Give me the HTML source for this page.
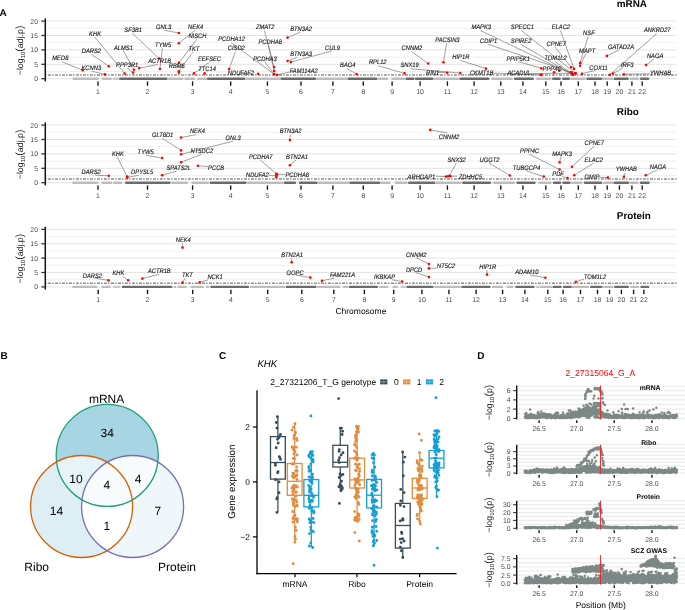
<!DOCTYPE html><html><head><meta charset="utf-8"><style>html,body{margin:0;padding:0;background:#fff;}svg{display:block;font-family:"Liberation Sans",sans-serif;opacity:0.999;text-rendering:geometricPrecision;}</style></head><body><svg width="685" height="610" viewBox="0 0 685 610"><rect width="685" height="610" fill="#fff"/><text x="-0.6" y="15.5" font-size="10" font-weight="bold">A</text><line x1="46" x2="676.8" y1="78.7" y2="78.7" stroke="#e4e4e4" stroke-width="1"/><line x1="46" x2="676.8" y1="71.5" y2="71.5" stroke="#eeeeee" stroke-width="0.8"/><line x1="46" x2="676.8" y1="64.3" y2="64.3" stroke="#e4e4e4" stroke-width="1"/><line x1="46" x2="676.8" y1="57.1" y2="57.1" stroke="#eeeeee" stroke-width="0.8"/><line x1="46" x2="676.8" y1="49.9" y2="49.9" stroke="#e4e4e4" stroke-width="1"/><line x1="46" x2="676.8" y1="42.7" y2="42.7" stroke="#eeeeee" stroke-width="0.8"/><line x1="46" x2="676.8" y1="35.5" y2="35.5" stroke="#e4e4e4" stroke-width="1"/><line x1="46" x2="676.8" y1="28.3" y2="28.3" stroke="#eeeeee" stroke-width="0.8"/><line x1="46" x2="676.8" y1="21.1" y2="21.1" stroke="#e4e4e4" stroke-width="1"/><line x1="73.8" x2="97.6" y1="78.7" y2="78.7" stroke="#bdbdbd" stroke-width="2.6" stroke-linecap="round"/><line x1="102.9" x2="110.7" y1="78.7" y2="78.7" stroke="#bdbdbd" stroke-width="2.6" stroke-linecap="round"/><line x1="114.1" x2="118.2" y1="78.7" y2="78.7" stroke="#c9c9c9" stroke-width="2.6" stroke-linecap="round"/><line x1="120.4" x2="166.4" y1="78.7" y2="78.7" stroke="#6c6c6c" stroke-width="2.6" stroke-linecap="round"/><line x1="168.6" x2="182.3" y1="78.7" y2="78.7" stroke="#bdbdbd" stroke-width="2.6" stroke-linecap="round"/><line x1="185.5" x2="194.1" y1="78.7" y2="78.7" stroke="#bdbdbd" stroke-width="2.6" stroke-linecap="round"/><line x1="198.2" x2="205.9" y1="78.7" y2="78.7" stroke="#bdbdbd" stroke-width="2.6" stroke-linecap="round"/><line x1="208.1" x2="244.2" y1="78.7" y2="78.7" stroke="#6c6c6c" stroke-width="2.6" stroke-linecap="round"/><line x1="246.4" x2="279.6" y1="78.7" y2="78.7" stroke="#bdbdbd" stroke-width="2.6" stroke-linecap="round"/><line x1="281.8" x2="315.1" y1="78.7" y2="78.7" stroke="#6c6c6c" stroke-width="2.6" stroke-linecap="round"/><line x1="317.3" x2="346.6" y1="78.7" y2="78.7" stroke="#bdbdbd" stroke-width="2.6" stroke-linecap="round"/><line x1="348.8" x2="376.2" y1="78.7" y2="78.7" stroke="#6c6c6c" stroke-width="2.6" stroke-linecap="round"/><line x1="378.7" x2="387.2" y1="78.7" y2="78.7" stroke="#bdbdbd" stroke-width="2.6" stroke-linecap="round"/><line x1="392.5" x2="404" y1="78.7" y2="78.7" stroke="#bdbdbd" stroke-width="2.6" stroke-linecap="round"/><line x1="406.6" x2="413.2" y1="78.7" y2="78.7" stroke="#6c6c6c" stroke-width="2.6" stroke-linecap="round"/><line x1="416" x2="432.3" y1="78.7" y2="78.7" stroke="#6c6c6c" stroke-width="2.6" stroke-linecap="round"/><line x1="434.7" x2="458.5" y1="78.7" y2="78.7" stroke="#bdbdbd" stroke-width="2.6" stroke-linecap="round"/><line x1="460.7" x2="488.2" y1="78.7" y2="78.7" stroke="#6c6c6c" stroke-width="2.6" stroke-linecap="round"/><line x1="492.5" x2="511.5" y1="78.7" y2="78.7" stroke="#bdbdbd" stroke-width="2.6" stroke-linecap="round"/><line x1="515.2" x2="532.7" y1="78.7" y2="78.7" stroke="#6c6c6c" stroke-width="2.6" stroke-linecap="round"/><line x1="537.2" x2="550.3" y1="78.7" y2="78.7" stroke="#bdbdbd" stroke-width="2.6" stroke-linecap="round"/><line x1="553.3" x2="559.6" y1="78.7" y2="78.7" stroke="#6c6c6c" stroke-width="2.6" stroke-linecap="round"/><line x1="563.3" x2="568.8" y1="78.7" y2="78.7" stroke="#6c6c6c" stroke-width="2.6" stroke-linecap="round"/><line x1="571.5" x2="584.6" y1="78.7" y2="78.7" stroke="#bdbdbd" stroke-width="2.6" stroke-linecap="round"/><line x1="587.6" x2="601.1" y1="78.7" y2="78.7" stroke="#6c6c6c" stroke-width="2.6" stroke-linecap="round"/><line x1="603.3" x2="612.8" y1="78.7" y2="78.7" stroke="#bdbdbd" stroke-width="2.6" stroke-linecap="round"/><line x1="615" x2="627.6" y1="78.7" y2="78.7" stroke="#6c6c6c" stroke-width="2.6" stroke-linecap="round"/><line x1="630.8" x2="637.8" y1="78.7" y2="78.7" stroke="#bdbdbd" stroke-width="2.6" stroke-linecap="round"/><line x1="641.1" x2="648.1" y1="78.7" y2="78.7" stroke="#6c6c6c" stroke-width="2.6" stroke-linecap="round"/><line x1="46" x2="676.8" y1="75" y2="75" stroke="#8a8a8a" stroke-width="1.5" stroke-dasharray="2.9 1.2 1.4 1.5" stroke-dashoffset="5"/><line x1="45.3" x2="45.3" y1="18.4" y2="81.3" stroke="#111" stroke-width="1.5"/><line x1="41.3" x2="45.3" y1="78.7" y2="78.7" stroke="#333" stroke-width="1.3"/><text x="38.0" y="81.2" font-size="6.9" fill="#4d4d4d" text-anchor="end">0</text><line x1="41.3" x2="45.3" y1="64.3" y2="64.3" stroke="#333" stroke-width="1.3"/><text x="38.0" y="66.8" font-size="6.9" fill="#4d4d4d" text-anchor="end">5</text><line x1="41.3" x2="45.3" y1="49.9" y2="49.9" stroke="#333" stroke-width="1.3"/><text x="38.0" y="52.4" font-size="6.9" fill="#4d4d4d" text-anchor="end">10</text><line x1="41.3" x2="45.3" y1="35.5" y2="35.5" stroke="#333" stroke-width="1.3"/><text x="38.0" y="38" font-size="6.9" fill="#4d4d4d" text-anchor="end">15</text><line x1="41.3" x2="45.3" y1="21.1" y2="21.1" stroke="#333" stroke-width="1.3"/><text x="38.0" y="23.6" font-size="6.9" fill="#4d4d4d" text-anchor="end">20</text><text transform="translate(22.9 50.4) rotate(-90)" font-size="8.8" fill="#1a1a1a" text-anchor="middle">&#8722;log<tspan font-size="6" dy="1.8">10</tspan><tspan dy="-1.8" font-size="10.5">(</tspan>adj.p<tspan font-size="10.5">)</tspan></text><line x1="98" x2="98" y1="81.9" y2="85.3" stroke="#1a1a1a" stroke-width="1.4" stroke-linecap="round"/><text x="98" y="93.8" font-size="6.9" fill="#4d4d4d" text-anchor="middle">1</text><line x1="147.5" x2="147.5" y1="81.9" y2="85.3" stroke="#1a1a1a" stroke-width="1.4" stroke-linecap="round"/><text x="147.5" y="93.8" font-size="6.9" fill="#4d4d4d" text-anchor="middle">2</text><line x1="192.6" x2="192.6" y1="81.9" y2="85.3" stroke="#1a1a1a" stroke-width="1.4" stroke-linecap="round"/><text x="192.6" y="93.8" font-size="6.9" fill="#4d4d4d" text-anchor="middle">3</text><line x1="230.7" x2="230.7" y1="81.9" y2="85.3" stroke="#1a1a1a" stroke-width="1.4" stroke-linecap="round"/><text x="230.7" y="93.8" font-size="6.9" fill="#4d4d4d" text-anchor="middle">4</text><line x1="267.4" x2="267.4" y1="81.9" y2="85.3" stroke="#1a1a1a" stroke-width="1.4" stroke-linecap="round"/><text x="267.4" y="93.8" font-size="6.9" fill="#4d4d4d" text-anchor="middle">5</text><line x1="301" x2="301" y1="81.9" y2="85.3" stroke="#1a1a1a" stroke-width="1.4" stroke-linecap="round"/><text x="301" y="93.8" font-size="6.9" fill="#4d4d4d" text-anchor="middle">6</text><line x1="332.9" x2="332.9" y1="81.9" y2="85.3" stroke="#1a1a1a" stroke-width="1.4" stroke-linecap="round"/><text x="332.9" y="93.8" font-size="6.9" fill="#4d4d4d" text-anchor="middle">7</text><line x1="363.3" x2="363.3" y1="81.9" y2="85.3" stroke="#1a1a1a" stroke-width="1.4" stroke-linecap="round"/><text x="363.3" y="93.8" font-size="6.9" fill="#4d4d4d" text-anchor="middle">8</text><line x1="392.1" x2="392.1" y1="81.9" y2="85.3" stroke="#1a1a1a" stroke-width="1.4" stroke-linecap="round"/><text x="392.1" y="93.8" font-size="6.9" fill="#4d4d4d" text-anchor="middle">9</text><line x1="420.1" x2="420.1" y1="81.9" y2="85.3" stroke="#1a1a1a" stroke-width="1.4" stroke-linecap="round"/><text x="420.1" y="93.8" font-size="6.9" fill="#4d4d4d" text-anchor="middle">10</text><line x1="447.4" x2="447.4" y1="81.9" y2="85.3" stroke="#1a1a1a" stroke-width="1.4" stroke-linecap="round"/><text x="447.4" y="93.8" font-size="6.9" fill="#4d4d4d" text-anchor="middle">11</text><line x1="474.1" x2="474.1" y1="81.9" y2="85.3" stroke="#1a1a1a" stroke-width="1.4" stroke-linecap="round"/><text x="474.1" y="93.8" font-size="6.9" fill="#4d4d4d" text-anchor="middle">12</text><line x1="500.8" x2="500.8" y1="81.9" y2="85.3" stroke="#1a1a1a" stroke-width="1.4" stroke-linecap="round"/><text x="500.8" y="93.8" font-size="6.9" fill="#4d4d4d" text-anchor="middle">13</text><line x1="522.9" x2="522.9" y1="81.9" y2="85.3" stroke="#1a1a1a" stroke-width="1.4" stroke-linecap="round"/><text x="522.9" y="93.8" font-size="6.9" fill="#4d4d4d" text-anchor="middle">14</text><line x1="545.8" x2="545.8" y1="81.9" y2="85.3" stroke="#1a1a1a" stroke-width="1.4" stroke-linecap="round"/><text x="545.8" y="93.8" font-size="6.9" fill="#4d4d4d" text-anchor="middle">15</text><line x1="561" x2="561" y1="81.9" y2="85.3" stroke="#1a1a1a" stroke-width="1.4" stroke-linecap="round"/><text x="561" y="93.8" font-size="6.9" fill="#4d4d4d" text-anchor="middle">16</text><line x1="578.3" x2="578.3" y1="81.9" y2="85.3" stroke="#1a1a1a" stroke-width="1.4" stroke-linecap="round"/><text x="578.3" y="93.8" font-size="6.9" fill="#4d4d4d" text-anchor="middle">17</text><line x1="595" x2="595" y1="81.9" y2="85.3" stroke="#1a1a1a" stroke-width="1.4" stroke-linecap="round"/><text x="595" y="93.8" font-size="6.9" fill="#4d4d4d" text-anchor="middle">18</text><line x1="607.2" x2="607.2" y1="81.9" y2="85.3" stroke="#1a1a1a" stroke-width="1.4" stroke-linecap="round"/><text x="607.2" y="93.8" font-size="6.9" fill="#4d4d4d" text-anchor="middle">19</text><line x1="619.4" x2="619.4" y1="81.9" y2="85.3" stroke="#1a1a1a" stroke-width="1.4" stroke-linecap="round"/><text x="619.4" y="93.8" font-size="6.9" fill="#4d4d4d" text-anchor="middle">20</text><line x1="631.9" x2="631.9" y1="81.9" y2="85.3" stroke="#1a1a1a" stroke-width="1.4" stroke-linecap="round"/><text x="631.9" y="93.8" font-size="6.9" fill="#4d4d4d" text-anchor="middle">21</text><line x1="642.2" x2="642.2" y1="81.9" y2="85.3" stroke="#1a1a1a" stroke-width="1.4" stroke-linecap="round"/><text x="642.2" y="93.8" font-size="6.9" fill="#4d4d4d" text-anchor="middle">22</text><text x="616.8" y="7.1" font-size="9.9" font-weight="bold" fill="#000">mRNA</text><line x1="61.8" y1="61.7" x2="82.7" y2="70.2" stroke="#555" stroke-width="0.55"/><line x1="91.7" y1="71.2" x2="104.9" y2="74.4" stroke="#555" stroke-width="0.55"/><line x1="91" y1="54.1" x2="108.8" y2="66.2" stroke="#555" stroke-width="0.55"/><line x1="94.6" y1="36.9" x2="124.7" y2="73.5" stroke="#555" stroke-width="0.55"/><line x1="123.1" y1="50.3" x2="134" y2="69.7" stroke="#555" stroke-width="0.55"/><line x1="126.8" y1="67.8" x2="133" y2="72.5" stroke="#555" stroke-width="0.55"/><line x1="132.3" y1="33.2" x2="159.2" y2="58.5" stroke="#555" stroke-width="0.55"/><line x1="164.3" y1="30.3" x2="178.9" y2="33" stroke="#555" stroke-width="0.55"/><line x1="195" y1="30.3" x2="178.9" y2="43.2" stroke="#555" stroke-width="0.55"/><line x1="196.9" y1="39.1" x2="178.9" y2="62.9" stroke="#555" stroke-width="0.55"/><line x1="192.8" y1="52.2" x2="178.9" y2="71.2" stroke="#555" stroke-width="0.55"/><line x1="162.4" y1="48.3" x2="159.9" y2="69" stroke="#555" stroke-width="0.55"/><line x1="157.7" y1="64.6" x2="139.2" y2="68.1" stroke="#555" stroke-width="0.55"/><line x1="209.6" y1="62" x2="193.9" y2="73.4" stroke="#555" stroke-width="0.55"/><line x1="231" y1="42.7" x2="274.1" y2="74.1" stroke="#555" stroke-width="0.55"/><line x1="235.4" y1="51.5" x2="229.2" y2="69" stroke="#555" stroke-width="0.55"/><line x1="264.3" y1="30.3" x2="274.1" y2="67.1" stroke="#555" stroke-width="0.55"/><line x1="268.3" y1="44.9" x2="274.1" y2="70.9" stroke="#555" stroke-width="0.55"/><line x1="264.6" y1="61.7" x2="274.1" y2="74.1" stroke="#555" stroke-width="0.55"/><line x1="300.4" y1="32.2" x2="287.6" y2="37.6" stroke="#555" stroke-width="0.55"/><line x1="297" y1="57.3" x2="287.6" y2="61" stroke="#555" stroke-width="0.55"/><line x1="331.4" y1="51.2" x2="290.9" y2="62" stroke="#555" stroke-width="0.55"/><line x1="289.7" y1="72" x2="277" y2="74.9" stroke="#555" stroke-width="0.55"/><line x1="347" y1="68.7" x2="356.6" y2="74.1" stroke="#555" stroke-width="0.55"/><line x1="378.1" y1="65.8" x2="404.5" y2="73.4" stroke="#555" stroke-width="0.55"/><line x1="411.4" y1="51.5" x2="428.2" y2="63.5" stroke="#555" stroke-width="0.55"/><line x1="446.7" y1="42.7" x2="443.5" y2="62.2" stroke="#555" stroke-width="0.55"/><line x1="410.7" y1="68.7" x2="460.3" y2="73.1" stroke="#555" stroke-width="0.55"/><line x1="437.7" y1="72.5" x2="447.2" y2="72.7" stroke="#555" stroke-width="0.55"/><line x1="460.3" y1="60.3" x2="486" y2="68.6" stroke="#555" stroke-width="0.55"/><line x1="491.8" y1="73" x2="541.3" y2="74.9" stroke="#555" stroke-width="0.55"/><line x1="480.4" y1="30.5" x2="572.7" y2="74.6" stroke="#555" stroke-width="0.55"/><line x1="487.7" y1="44.2" x2="571.3" y2="72.2" stroke="#555" stroke-width="0.55"/><line x1="521.3" y1="30.5" x2="575.5" y2="73.3" stroke="#555" stroke-width="0.55"/><line x1="520.6" y1="44.2" x2="572.7" y2="74.6" stroke="#555" stroke-width="0.55"/><line x1="518.4" y1="61.7" x2="541.3" y2="68.2" stroke="#555" stroke-width="0.55"/><line x1="528.6" y1="73.5" x2="575.5" y2="73.3" stroke="#555" stroke-width="0.55"/><line x1="555" y1="61.5" x2="572.7" y2="74.6" stroke="#555" stroke-width="0.55"/><line x1="554.6" y1="46.4" x2="571.1" y2="67.3" stroke="#555" stroke-width="0.55"/><line x1="560.4" y1="30.3" x2="574" y2="68.9" stroke="#555" stroke-width="0.55"/><line x1="588.2" y1="36.2" x2="580.1" y2="62.9" stroke="#555" stroke-width="0.55"/><line x1="586" y1="53.2" x2="580.1" y2="65.8" stroke="#555" stroke-width="0.55"/><line x1="595" y1="70.5" x2="582" y2="73.7" stroke="#555" stroke-width="0.55"/><line x1="618.8" y1="50" x2="606.9" y2="55.9" stroke="#555" stroke-width="0.55"/><line x1="623" y1="67.9" x2="613.1" y2="73.6" stroke="#555" stroke-width="0.55"/><line x1="656.8" y1="33.5" x2="609.7" y2="74.9" stroke="#555" stroke-width="0.55"/><line x1="654.1" y1="59.1" x2="646" y2="65" stroke="#555" stroke-width="0.55"/><line x1="649.9" y1="73.8" x2="623.9" y2="74.2" stroke="#555" stroke-width="0.55"/><circle cx="82.7" cy="70.2" r="1.3" fill="#ff0000"/><circle cx="104.9" cy="74.4" r="1.3" fill="#ff0000"/><circle cx="108.8" cy="66.2" r="1.3" fill="#ff0000"/><circle cx="124.7" cy="73.5" r="1.3" fill="#ff0000"/><circle cx="134" cy="69.7" r="1.3" fill="#ff0000"/><circle cx="133" cy="72.5" r="1.3" fill="#ff0000"/><circle cx="159.2" cy="58.5" r="1.3" fill="#ff0000"/><circle cx="178.9" cy="33" r="1.3" fill="#ff0000"/><circle cx="178.9" cy="43.2" r="1.3" fill="#ff0000"/><circle cx="178.9" cy="62.9" r="1.3" fill="#ff0000"/><circle cx="178.9" cy="71.2" r="1.3" fill="#ff0000"/><circle cx="159.9" cy="69" r="1.3" fill="#ff0000"/><circle cx="139.2" cy="68.1" r="1.3" fill="#ff0000"/><circle cx="178.9" cy="72.7" r="1.3" fill="#ff0000"/><circle cx="193.9" cy="73.4" r="1.3" fill="#ff0000"/><circle cx="204.7" cy="73.4" r="1.3" fill="#ff0000"/><circle cx="274.1" cy="74.1" r="1.3" fill="#ff0000"/><circle cx="229.2" cy="69" r="1.3" fill="#ff0000"/><circle cx="258.1" cy="73.7" r="1.3" fill="#ff0000"/><circle cx="274.1" cy="67.1" r="1.3" fill="#ff0000"/><circle cx="274.1" cy="70.9" r="1.3" fill="#ff0000"/><circle cx="274.1" cy="74.1" r="1.3" fill="#ff0000"/><circle cx="287.6" cy="37.6" r="1.3" fill="#ff0000"/><circle cx="287.6" cy="61" r="1.3" fill="#ff0000"/><circle cx="290.9" cy="62" r="1.3" fill="#ff0000"/><circle cx="277" cy="74.9" r="1.3" fill="#ff0000"/><circle cx="356.6" cy="74.1" r="1.3" fill="#ff0000"/><circle cx="404.5" cy="73.4" r="1.3" fill="#ff0000"/><circle cx="428.2" cy="63.5" r="1.3" fill="#ff0000"/><circle cx="443.5" cy="62.2" r="1.3" fill="#ff0000"/><circle cx="460.3" cy="73.1" r="1.3" fill="#ff0000"/><circle cx="447.2" cy="72.7" r="1.3" fill="#ff0000"/><circle cx="486" cy="68.6" r="1.3" fill="#ff0000"/><circle cx="541.3" cy="74.9" r="1.3" fill="#ff0000"/><circle cx="572.7" cy="74.6" r="1.3" fill="#ff0000"/><circle cx="571.3" cy="72.2" r="1.3" fill="#ff0000"/><circle cx="575.5" cy="73.3" r="1.3" fill="#ff0000"/><circle cx="572.7" cy="74.6" r="1.3" fill="#ff0000"/><circle cx="541.3" cy="68.2" r="1.3" fill="#ff0000"/><circle cx="575.5" cy="73.3" r="1.3" fill="#ff0000"/><circle cx="572.7" cy="74.6" r="1.3" fill="#ff0000"/><circle cx="554.1" cy="72.2" r="1.3" fill="#ff0000"/><circle cx="571.1" cy="67.3" r="1.3" fill="#ff0000"/><circle cx="574" cy="68.9" r="1.3" fill="#ff0000"/><circle cx="580.1" cy="62.9" r="1.3" fill="#ff0000"/><circle cx="580.1" cy="65.8" r="1.3" fill="#ff0000"/><circle cx="582" cy="73.7" r="1.3" fill="#ff0000"/><circle cx="606.9" cy="55.9" r="1.3" fill="#ff0000"/><circle cx="613.1" cy="73.6" r="1.3" fill="#ff0000"/><circle cx="609.7" cy="74.9" r="1.3" fill="#ff0000"/><circle cx="646" cy="65" r="1.3" fill="#ff0000"/><circle cx="623.9" cy="74.2" r="1.3" fill="#ff0000"/><circle cx="559.3" cy="70.6" r="1.3" fill="#ff0000"/><circle cx="571.3" cy="72.2" r="1.3" fill="#ff0000"/><circle cx="575.5" cy="73.3" r="1.3" fill="#ff0000"/><circle cx="541.3" cy="74.9" r="1.3" fill="#ff0000"/><text transform="translate(52.3 60.1) scale(0.89 1)" font-size="6.5" font-style="italic" fill="#1a1a1a" stroke="#1a1a1a" stroke-width="0.15">MED8</text><text transform="translate(81.5 70) scale(0.89 1)" font-size="6.5" font-style="italic" fill="#1a1a1a" stroke="#1a1a1a" stroke-width="0.15">KCNN3</text><text transform="translate(81.8 53) scale(0.89 1)" font-size="6.5" font-style="italic" fill="#1a1a1a" stroke="#1a1a1a" stroke-width="0.15">DARS2</text><text transform="translate(89.1 36) scale(0.89 1)" font-size="6.5" font-style="italic" fill="#1a1a1a" stroke="#1a1a1a" stroke-width="0.15">KHK</text><text transform="translate(113.9 49.5) scale(0.89 1)" font-size="6.5" font-style="italic" fill="#1a1a1a" stroke="#1a1a1a" stroke-width="0.15">ALMS1</text><text transform="translate(116.1 66.6) scale(0.89 1)" font-size="6.5" font-style="italic" fill="#1a1a1a" stroke="#1a1a1a" stroke-width="0.15">PPP3R1</text><text transform="translate(124.3 32) scale(0.89 1)" font-size="6.5" font-style="italic" fill="#1a1a1a" stroke="#1a1a1a" stroke-width="0.15">SF3B1</text><text transform="translate(156 29.4) scale(0.89 1)" font-size="6.5" font-style="italic" fill="#1a1a1a" stroke="#1a1a1a" stroke-width="0.15">GNL3</text><text transform="translate(188.1 29.4) scale(0.89 1)" font-size="6.5" font-style="italic" fill="#1a1a1a" stroke="#1a1a1a" stroke-width="0.15">NEK4</text><text transform="translate(188.4 38.2) scale(0.89 1)" font-size="6.5" font-style="italic" fill="#1a1a1a" stroke="#1a1a1a" stroke-width="0.15">NISCH</text><text transform="translate(188.4 51) scale(0.89 1)" font-size="6.5" font-style="italic" fill="#1a1a1a" stroke="#1a1a1a" stroke-width="0.15">TKT</text><text transform="translate(155.1 47.2) scale(0.89 1)" font-size="6.5" font-style="italic" fill="#1a1a1a" stroke="#1a1a1a" stroke-width="0.15">TYW5</text><text transform="translate(148.2 63.3) scale(0.89 1)" font-size="6.5" font-style="italic" fill="#1a1a1a" stroke="#1a1a1a" stroke-width="0.15">ACTR1B</text><text transform="translate(168.7 68.1) scale(0.89 1)" font-size="6.5" font-style="italic" fill="#1a1a1a" stroke="#1a1a1a" stroke-width="0.15">RBM6</text><text transform="translate(197.9 60.8) scale(0.89 1)" font-size="6.5" font-style="italic" fill="#1a1a1a" stroke="#1a1a1a" stroke-width="0.15">EEFSEC</text><text transform="translate(198.3 71) scale(0.89 1)" font-size="6.5" font-style="italic" fill="#1a1a1a" stroke="#1a1a1a" stroke-width="0.15">TTC14</text><text transform="translate(218.2 41.4) scale(0.89 1)" font-size="6.5" font-style="italic" fill="#1a1a1a" stroke="#1a1a1a" stroke-width="0.15">PCDHA12</text><text transform="translate(227.8 50.4) scale(0.89 1)" font-size="6.5" font-style="italic" fill="#1a1a1a" stroke="#1a1a1a" stroke-width="0.15">CISD2</text><text transform="translate(227.8 74.7) scale(0.89 1)" font-size="6.5" font-style="italic" fill="#1a1a1a" stroke="#1a1a1a" stroke-width="0.15">NDUFAF2</text><text transform="translate(255.9 29.4) scale(0.89 1)" font-size="6.5" font-style="italic" fill="#1a1a1a" stroke="#1a1a1a" stroke-width="0.15">ZMAT2</text><text transform="translate(258.5 44) scale(0.89 1)" font-size="6.5" font-style="italic" fill="#1a1a1a" stroke="#1a1a1a" stroke-width="0.15">PCDHA8</text><text transform="translate(253.2 60.8) scale(0.89 1)" font-size="6.5" font-style="italic" fill="#1a1a1a" stroke="#1a1a1a" stroke-width="0.15">PCDHA3</text><text transform="translate(290.2 30.9) scale(0.89 1)" font-size="6.5" font-style="italic" fill="#1a1a1a" stroke="#1a1a1a" stroke-width="0.15">BTN3A2</text><text transform="translate(290.2 56.4) scale(0.89 1)" font-size="6.5" font-style="italic" fill="#1a1a1a" stroke="#1a1a1a" stroke-width="0.15">BTN3A3</text><text transform="translate(325.1 49.8) scale(0.89 1)" font-size="6.5" font-style="italic" fill="#1a1a1a" stroke="#1a1a1a" stroke-width="0.15">CUL9</text><text transform="translate(289.7 73.2) scale(0.89 1)" font-size="6.5" font-style="italic" fill="#1a1a1a" stroke="#1a1a1a" stroke-width="0.15">FAM114A2</text><text transform="translate(340.1 67.4) scale(0.89 1)" font-size="6.5" font-style="italic" fill="#1a1a1a" stroke="#1a1a1a" stroke-width="0.15">BAG4</text><text transform="translate(368.9 64.4) scale(0.89 1)" font-size="6.5" font-style="italic" fill="#1a1a1a" stroke="#1a1a1a" stroke-width="0.15">RPL12</text><text transform="translate(401.6 50.3) scale(0.89 1)" font-size="6.5" font-style="italic" fill="#1a1a1a" stroke="#1a1a1a" stroke-width="0.15">CNNM2</text><text transform="translate(435.2 41.5) scale(0.89 1)" font-size="6.5" font-style="italic" fill="#1a1a1a" stroke="#1a1a1a" stroke-width="0.15">PACSIN3</text><text transform="translate(400.4 67.4) scale(0.89 1)" font-size="6.5" font-style="italic" fill="#1a1a1a" stroke="#1a1a1a" stroke-width="0.15">SNX19</text><text transform="translate(426 74.7) scale(0.89 1)" font-size="6.5" font-style="italic" fill="#1a1a1a" stroke="#1a1a1a" stroke-width="0.15">RIN1</text><text transform="translate(452.3 59) scale(0.89 1)" font-size="6.5" font-style="italic" fill="#1a1a1a" stroke="#1a1a1a" stroke-width="0.15">HIP1R</text><text transform="translate(469.9 74.9) scale(0.89 1)" font-size="6.5" font-style="italic" fill="#1a1a1a" stroke="#1a1a1a" stroke-width="0.15">CKMT1B</text><text transform="translate(471.4 29.4) scale(0.89 1)" font-size="6.5" font-style="italic" fill="#1a1a1a" stroke="#1a1a1a" stroke-width="0.15">MAPK3</text><text transform="translate(480.1 43) scale(0.89 1)" font-size="6.5" font-style="italic" fill="#1a1a1a" stroke="#1a1a1a" stroke-width="0.15">CDIP1</text><text transform="translate(510.8 29.4) scale(0.89 1)" font-size="6.5" font-style="italic" fill="#1a1a1a" stroke="#1a1a1a" stroke-width="0.15">SPECC1</text><text transform="translate(510.8 43) scale(0.89 1)" font-size="6.5" font-style="italic" fill="#1a1a1a" stroke="#1a1a1a" stroke-width="0.15">SPIRE2</text><text transform="translate(506.4 60.5) scale(0.89 1)" font-size="6.5" font-style="italic" fill="#1a1a1a" stroke="#1a1a1a" stroke-width="0.15">PPIP5K1</text><text transform="translate(507.4 74.9) scale(0.89 1)" font-size="6.5" font-style="italic" fill="#1a1a1a" stroke="#1a1a1a" stroke-width="0.15">ACADVL</text><text transform="translate(544.4 60.3) scale(0.89 1)" font-size="6.5" font-style="italic" fill="#1a1a1a" stroke="#1a1a1a" stroke-width="0.15">TOM1L2</text><text transform="translate(542.6 71.4) scale(0.89 1)" font-size="6.5" font-style="italic" fill="#1a1a1a" stroke="#1a1a1a" stroke-width="0.15">PPP4C</text><text transform="translate(546.6 45.5) scale(0.89 1)" font-size="6.5" font-style="italic" fill="#1a1a1a" stroke="#1a1a1a" stroke-width="0.15">CPNE7</text><text transform="translate(551.7 29.4) scale(0.89 1)" font-size="6.5" font-style="italic" fill="#1a1a1a" stroke="#1a1a1a" stroke-width="0.15">ELAC2</text><text transform="translate(583.1 34.9) scale(0.89 1)" font-size="6.5" font-style="italic" fill="#1a1a1a" stroke="#1a1a1a" stroke-width="0.15">NSF</text><text transform="translate(579.1 52.5) scale(0.89 1)" font-size="6.5" font-style="italic" fill="#1a1a1a" stroke="#1a1a1a" stroke-width="0.15">MAPT</text><text transform="translate(589.3 69.5) scale(0.89 1)" font-size="6.5" font-style="italic" fill="#1a1a1a" stroke="#1a1a1a" stroke-width="0.15">COX11</text><text transform="translate(607.9 49.1) scale(0.89 1)" font-size="6.5" font-style="italic" fill="#1a1a1a" stroke="#1a1a1a" stroke-width="0.15">GATAD2A</text><text transform="translate(621 66.6) scale(0.89 1)" font-size="6.5" font-style="italic" fill="#1a1a1a" stroke="#1a1a1a" stroke-width="0.15">IRF3</text><text transform="translate(643.9 31.7) scale(0.89 1)" font-size="6.5" font-style="italic" fill="#1a1a1a" stroke="#1a1a1a" stroke-width="0.15">ANKRD27</text><text transform="translate(646.9 57.6) scale(0.89 1)" font-size="6.5" font-style="italic" fill="#1a1a1a" stroke="#1a1a1a" stroke-width="0.15">NAGA</text><text transform="translate(649.9 75.4) scale(0.89 1)" font-size="6.5" font-style="italic" fill="#1a1a1a" stroke="#1a1a1a" stroke-width="0.15">YWHAB</text><line x1="46" x2="676.8" y1="182.7" y2="182.7" stroke="#e4e4e4" stroke-width="1"/><line x1="46" x2="676.8" y1="175.5" y2="175.5" stroke="#eeeeee" stroke-width="0.8"/><line x1="46" x2="676.8" y1="168.3" y2="168.3" stroke="#e4e4e4" stroke-width="1"/><line x1="46" x2="676.8" y1="161.1" y2="161.1" stroke="#eeeeee" stroke-width="0.8"/><line x1="46" x2="676.8" y1="153.9" y2="153.9" stroke="#e4e4e4" stroke-width="1"/><line x1="46" x2="676.8" y1="146.7" y2="146.7" stroke="#eeeeee" stroke-width="0.8"/><line x1="46" x2="676.8" y1="139.5" y2="139.5" stroke="#e4e4e4" stroke-width="1"/><line x1="46" x2="676.8" y1="132.3" y2="132.3" stroke="#eeeeee" stroke-width="0.8"/><line x1="46" x2="676.8" y1="125.1" y2="125.1" stroke="#e4e4e4" stroke-width="1"/><line x1="73.5" x2="97.3" y1="182.7" y2="182.7" stroke="#bdbdbd" stroke-width="2.6" stroke-linecap="round"/><line x1="102.9" x2="110.9" y1="182.7" y2="182.7" stroke="#bdbdbd" stroke-width="2.6" stroke-linecap="round"/><line x1="114.1" x2="121.1" y1="182.7" y2="182.7" stroke="#bdbdbd" stroke-width="2.6" stroke-linecap="round"/><line x1="126.2" x2="169.3" y1="182.7" y2="182.7" stroke="#6c6c6c" stroke-width="2.6" stroke-linecap="round"/><line x1="172.2" x2="186.8" y1="182.7" y2="182.7" stroke="#bdbdbd" stroke-width="2.6" stroke-linecap="round"/><line x1="192.6" x2="207.9" y1="182.7" y2="182.7" stroke="#bdbdbd" stroke-width="2.6" stroke-linecap="round"/><line x1="210.9" x2="245.4" y1="182.7" y2="182.7" stroke="#6c6c6c" stroke-width="2.6" stroke-linecap="round"/><line x1="248.3" x2="281.9" y1="182.7" y2="182.7" stroke="#bdbdbd" stroke-width="2.6" stroke-linecap="round"/><line x1="284.8" x2="294.9" y1="182.7" y2="182.7" stroke="#6c6c6c" stroke-width="2.6" stroke-linecap="round"/><line x1="300.1" x2="316.4" y1="182.7" y2="182.7" stroke="#6c6c6c" stroke-width="2.6" stroke-linecap="round"/><line x1="318.6" x2="348.5" y1="182.7" y2="182.7" stroke="#bdbdbd" stroke-width="2.6" stroke-linecap="round"/><line x1="350.7" x2="379.2" y1="182.7" y2="182.7" stroke="#6c6c6c" stroke-width="2.6" stroke-linecap="round"/><line x1="381.4" x2="389.4" y1="182.7" y2="182.7" stroke="#bdbdbd" stroke-width="2.6" stroke-linecap="round"/><line x1="396" x2="406.4" y1="182.7" y2="182.7" stroke="#bdbdbd" stroke-width="2.6" stroke-linecap="round"/><line x1="409.3" x2="434.2" y1="182.7" y2="182.7" stroke="#6c6c6c" stroke-width="2.6" stroke-linecap="round"/><line x1="436.4" x2="460.4" y1="182.7" y2="182.7" stroke="#bdbdbd" stroke-width="2.6" stroke-linecap="round"/><line x1="463.4" x2="489.9" y1="182.7" y2="182.7" stroke="#6c6c6c" stroke-width="2.6" stroke-linecap="round"/><line x1="494.2" x2="513.9" y1="182.7" y2="182.7" stroke="#bdbdbd" stroke-width="2.6" stroke-linecap="round"/><line x1="517.6" x2="534.4" y1="182.7" y2="182.7" stroke="#6c6c6c" stroke-width="2.6" stroke-linecap="round"/><line x1="539.5" x2="550.4" y1="182.7" y2="182.7" stroke="#bdbdbd" stroke-width="2.6" stroke-linecap="round"/><line x1="554.1" x2="559.9" y1="182.7" y2="182.7" stroke="#6c6c6c" stroke-width="2.6" stroke-linecap="round"/><line x1="563.6" x2="569.4" y1="182.7" y2="182.7" stroke="#6c6c6c" stroke-width="2.6" stroke-linecap="round"/><line x1="572.3" x2="581.3" y1="182.7" y2="182.7" stroke="#bdbdbd" stroke-width="2.6" stroke-linecap="round"/><line x1="585" x2="601" y1="182.7" y2="182.7" stroke="#6c6c6c" stroke-width="2.6" stroke-linecap="round"/><line x1="603.9" x2="612.7" y1="182.7" y2="182.7" stroke="#bdbdbd" stroke-width="2.6" stroke-linecap="round"/><line x1="614.9" x2="628" y1="182.7" y2="182.7" stroke="#6c6c6c" stroke-width="2.6" stroke-linecap="round"/><line x1="631" x2="637.5" y1="182.7" y2="182.7" stroke="#bdbdbd" stroke-width="2.6" stroke-linecap="round"/><line x1="641.1" x2="648.5" y1="182.7" y2="182.7" stroke="#6c6c6c" stroke-width="2.6" stroke-linecap="round"/><line x1="46" x2="676.8" y1="179" y2="179" stroke="#8a8a8a" stroke-width="1.5" stroke-dasharray="2.9 1.2 1.4 1.5" stroke-dashoffset="5"/><line x1="45.3" x2="45.3" y1="122.4" y2="185.3" stroke="#111" stroke-width="1.5"/><line x1="41.3" x2="45.3" y1="182.7" y2="182.7" stroke="#333" stroke-width="1.3"/><text x="38.0" y="185.1" font-size="6.9" fill="#4d4d4d" text-anchor="end">0</text><line x1="41.3" x2="45.3" y1="168.3" y2="168.3" stroke="#333" stroke-width="1.3"/><text x="38.0" y="170.7" font-size="6.9" fill="#4d4d4d" text-anchor="end">5</text><line x1="41.3" x2="45.3" y1="153.9" y2="153.9" stroke="#333" stroke-width="1.3"/><text x="38.0" y="156.3" font-size="6.9" fill="#4d4d4d" text-anchor="end">10</text><line x1="41.3" x2="45.3" y1="139.5" y2="139.5" stroke="#333" stroke-width="1.3"/><text x="38.0" y="141.9" font-size="6.9" fill="#4d4d4d" text-anchor="end">15</text><line x1="41.3" x2="45.3" y1="125.1" y2="125.1" stroke="#333" stroke-width="1.3"/><text x="38.0" y="127.5" font-size="6.9" fill="#4d4d4d" text-anchor="end">20</text><text transform="translate(22.9 154.4) rotate(-90)" font-size="8.8" fill="#1a1a1a" text-anchor="middle">&#8722;log<tspan font-size="6" dy="1.8">10</tspan><tspan dy="-1.8" font-size="10.5">(</tspan>adj.p<tspan font-size="10.5">)</tspan></text><line x1="98" x2="98" y1="185.9" y2="189.3" stroke="#1a1a1a" stroke-width="1.4" stroke-linecap="round"/><text x="98" y="197.8" font-size="6.9" fill="#4d4d4d" text-anchor="middle">1</text><line x1="147.5" x2="147.5" y1="185.9" y2="189.3" stroke="#1a1a1a" stroke-width="1.4" stroke-linecap="round"/><text x="147.5" y="197.8" font-size="6.9" fill="#4d4d4d" text-anchor="middle">2</text><line x1="192.6" x2="192.6" y1="185.9" y2="189.3" stroke="#1a1a1a" stroke-width="1.4" stroke-linecap="round"/><text x="192.6" y="197.8" font-size="6.9" fill="#4d4d4d" text-anchor="middle">3</text><line x1="230.7" x2="230.7" y1="185.9" y2="189.3" stroke="#1a1a1a" stroke-width="1.4" stroke-linecap="round"/><text x="230.7" y="197.8" font-size="6.9" fill="#4d4d4d" text-anchor="middle">4</text><line x1="267.4" x2="267.4" y1="185.9" y2="189.3" stroke="#1a1a1a" stroke-width="1.4" stroke-linecap="round"/><text x="267.4" y="197.8" font-size="6.9" fill="#4d4d4d" text-anchor="middle">5</text><line x1="301" x2="301" y1="185.9" y2="189.3" stroke="#1a1a1a" stroke-width="1.4" stroke-linecap="round"/><text x="301" y="197.8" font-size="6.9" fill="#4d4d4d" text-anchor="middle">6</text><line x1="332.9" x2="332.9" y1="185.9" y2="189.3" stroke="#1a1a1a" stroke-width="1.4" stroke-linecap="round"/><text x="332.9" y="197.8" font-size="6.9" fill="#4d4d4d" text-anchor="middle">7</text><line x1="363.3" x2="363.3" y1="185.9" y2="189.3" stroke="#1a1a1a" stroke-width="1.4" stroke-linecap="round"/><text x="363.3" y="197.8" font-size="6.9" fill="#4d4d4d" text-anchor="middle">8</text><line x1="392.1" x2="392.1" y1="185.9" y2="189.3" stroke="#1a1a1a" stroke-width="1.4" stroke-linecap="round"/><text x="392.1" y="197.8" font-size="6.9" fill="#4d4d4d" text-anchor="middle">9</text><line x1="420.1" x2="420.1" y1="185.9" y2="189.3" stroke="#1a1a1a" stroke-width="1.4" stroke-linecap="round"/><text x="420.1" y="197.8" font-size="6.9" fill="#4d4d4d" text-anchor="middle">10</text><line x1="447.4" x2="447.4" y1="185.9" y2="189.3" stroke="#1a1a1a" stroke-width="1.4" stroke-linecap="round"/><text x="447.4" y="197.8" font-size="6.9" fill="#4d4d4d" text-anchor="middle">11</text><line x1="474.1" x2="474.1" y1="185.9" y2="189.3" stroke="#1a1a1a" stroke-width="1.4" stroke-linecap="round"/><text x="474.1" y="197.8" font-size="6.9" fill="#4d4d4d" text-anchor="middle">12</text><line x1="500.8" x2="500.8" y1="185.9" y2="189.3" stroke="#1a1a1a" stroke-width="1.4" stroke-linecap="round"/><text x="500.8" y="197.8" font-size="6.9" fill="#4d4d4d" text-anchor="middle">13</text><line x1="522.9" x2="522.9" y1="185.9" y2="189.3" stroke="#1a1a1a" stroke-width="1.4" stroke-linecap="round"/><text x="522.9" y="197.8" font-size="6.9" fill="#4d4d4d" text-anchor="middle">14</text><line x1="545.8" x2="545.8" y1="185.9" y2="189.3" stroke="#1a1a1a" stroke-width="1.4" stroke-linecap="round"/><text x="545.8" y="197.8" font-size="6.9" fill="#4d4d4d" text-anchor="middle">15</text><line x1="561" x2="561" y1="185.9" y2="189.3" stroke="#1a1a1a" stroke-width="1.4" stroke-linecap="round"/><text x="561" y="197.8" font-size="6.9" fill="#4d4d4d" text-anchor="middle">16</text><line x1="578.3" x2="578.3" y1="185.9" y2="189.3" stroke="#1a1a1a" stroke-width="1.4" stroke-linecap="round"/><text x="578.3" y="197.8" font-size="6.9" fill="#4d4d4d" text-anchor="middle">17</text><line x1="595" x2="595" y1="185.9" y2="189.3" stroke="#1a1a1a" stroke-width="1.4" stroke-linecap="round"/><text x="595" y="197.8" font-size="6.9" fill="#4d4d4d" text-anchor="middle">18</text><line x1="607.2" x2="607.2" y1="185.9" y2="189.3" stroke="#1a1a1a" stroke-width="1.4" stroke-linecap="round"/><text x="607.2" y="197.8" font-size="6.9" fill="#4d4d4d" text-anchor="middle">19</text><line x1="619.4" x2="619.4" y1="185.9" y2="189.3" stroke="#1a1a1a" stroke-width="1.4" stroke-linecap="round"/><text x="619.4" y="197.8" font-size="6.9" fill="#4d4d4d" text-anchor="middle">20</text><line x1="631.9" x2="631.9" y1="185.9" y2="189.3" stroke="#1a1a1a" stroke-width="1.4" stroke-linecap="round"/><text x="631.9" y="197.8" font-size="6.9" fill="#4d4d4d" text-anchor="middle">21</text><line x1="642.2" x2="642.2" y1="185.9" y2="189.3" stroke="#1a1a1a" stroke-width="1.4" stroke-linecap="round"/><text x="642.2" y="197.8" font-size="6.9" fill="#4d4d4d" text-anchor="middle">22</text><text x="616.8" y="115" font-size="9.9" font-weight="bold" fill="#000">Ribo</text><line x1="95.4" y1="175.2" x2="108.8" y2="175.8" stroke="#555" stroke-width="0.55"/><line x1="117.3" y1="157.2" x2="127.2" y2="176.6" stroke="#555" stroke-width="0.55"/><line x1="138.8" y1="175.2" x2="127.2" y2="177.4" stroke="#555" stroke-width="0.55"/><line x1="146.1" y1="155.3" x2="162.1" y2="158" stroke="#555" stroke-width="0.55"/><line x1="162.1" y1="138.2" x2="181.1" y2="150.4" stroke="#555" stroke-width="0.55"/><line x1="196.4" y1="134.6" x2="181.1" y2="137.5" stroke="#555" stroke-width="0.55"/><line x1="201.5" y1="154.3" x2="181.1" y2="162.3" stroke="#555" stroke-width="0.55"/><line x1="233.2" y1="141.2" x2="181.1" y2="154.3" stroke="#555" stroke-width="0.55"/><line x1="176.7" y1="171.1" x2="162.1" y2="175.2" stroke="#555" stroke-width="0.55"/><line x1="208.1" y1="166.7" x2="197.9" y2="165.7" stroke="#555" stroke-width="0.55"/><line x1="290.2" y1="134.6" x2="289.9" y2="140.1" stroke="#555" stroke-width="0.55"/><line x1="260.3" y1="160.1" x2="276.3" y2="173.7" stroke="#555" stroke-width="0.55"/><line x1="296" y1="160.1" x2="289.9" y2="165.3" stroke="#555" stroke-width="0.55"/><line x1="269" y1="175.5" x2="276.3" y2="175.8" stroke="#555" stroke-width="0.55"/><line x1="285.5" y1="174.3" x2="277" y2="174.3" stroke="#555" stroke-width="0.55"/><line x1="447.4" y1="132.9" x2="430.2" y2="129.9" stroke="#555" stroke-width="0.55"/><line x1="456.2" y1="163.1" x2="449.6" y2="175.8" stroke="#555" stroke-width="0.55"/><line x1="435.8" y1="176.2" x2="446" y2="176.6" stroke="#555" stroke-width="0.55"/><line x1="457" y1="176.2" x2="450.4" y2="176.2" stroke="#555" stroke-width="0.55"/><line x1="489" y1="163.1" x2="509.9" y2="175.5" stroke="#555" stroke-width="0.55"/><line x1="526.7" y1="171.1" x2="543.8" y2="176.6" stroke="#555" stroke-width="0.55"/><line x1="528.9" y1="153.9" x2="559.6" y2="169.6" stroke="#555" stroke-width="0.55"/><line x1="561" y1="156.5" x2="559.6" y2="162.3" stroke="#555" stroke-width="0.55"/><line x1="561.8" y1="176.5" x2="567.6" y2="178.1" stroke="#555" stroke-width="0.55"/><line x1="594.3" y1="146.1" x2="571.9" y2="166.7" stroke="#555" stroke-width="0.55"/><line x1="593.8" y1="163" x2="574.2" y2="175.3" stroke="#555" stroke-width="0.55"/><line x1="599.2" y1="177.3" x2="607.8" y2="177.6" stroke="#555" stroke-width="0.55"/><line x1="625.3" y1="172.5" x2="623.9" y2="176.7" stroke="#555" stroke-width="0.55"/><line x1="657.6" y1="169.8" x2="645.8" y2="175.3" stroke="#555" stroke-width="0.55"/><circle cx="108.8" cy="175.8" r="1.3" fill="#ff0000"/><circle cx="127.2" cy="176.6" r="1.3" fill="#ff0000"/><circle cx="127.2" cy="177.4" r="1.3" fill="#ff0000"/><circle cx="162.1" cy="158" r="1.3" fill="#ff0000"/><circle cx="181.1" cy="150.4" r="1.3" fill="#ff0000"/><circle cx="181.1" cy="137.5" r="1.3" fill="#ff0000"/><circle cx="181.1" cy="162.3" r="1.3" fill="#ff0000"/><circle cx="181.1" cy="154.3" r="1.3" fill="#ff0000"/><circle cx="162.1" cy="175.2" r="1.3" fill="#ff0000"/><circle cx="197.9" cy="165.7" r="1.3" fill="#ff0000"/><circle cx="289.9" cy="140.1" r="1.3" fill="#ff0000"/><circle cx="276.3" cy="173.7" r="1.3" fill="#ff0000"/><circle cx="289.9" cy="165.3" r="1.3" fill="#ff0000"/><circle cx="276.3" cy="175.8" r="1.3" fill="#ff0000"/><circle cx="277" cy="174.3" r="1.3" fill="#ff0000"/><circle cx="430.2" cy="129.9" r="1.3" fill="#ff0000"/><circle cx="449.6" cy="175.8" r="1.3" fill="#ff0000"/><circle cx="446" cy="176.6" r="1.3" fill="#ff0000"/><circle cx="450.4" cy="176.2" r="1.3" fill="#ff0000"/><circle cx="509.9" cy="175.5" r="1.3" fill="#ff0000"/><circle cx="543.8" cy="176.6" r="1.3" fill="#ff0000"/><circle cx="559.6" cy="169.6" r="1.3" fill="#ff0000"/><circle cx="559.6" cy="162.3" r="1.3" fill="#ff0000"/><circle cx="567.6" cy="178.1" r="1.3" fill="#ff0000"/><circle cx="571.9" cy="166.7" r="1.3" fill="#ff0000"/><circle cx="574.2" cy="175.3" r="1.3" fill="#ff0000"/><circle cx="607.8" cy="177.6" r="1.3" fill="#ff0000"/><circle cx="623.9" cy="176.7" r="1.3" fill="#ff0000"/><circle cx="645.8" cy="175.3" r="1.3" fill="#ff0000"/><circle cx="276.3" cy="177.2" r="1.3" fill="#ff0000"/><circle cx="448.2" cy="176.2" r="1.3" fill="#ff0000"/><text transform="translate(81.5 174.1) scale(0.89 1)" font-size="6.5" font-style="italic" fill="#1a1a1a" stroke="#1a1a1a" stroke-width="0.15">DARS2</text><text transform="translate(111.9 156.3) scale(0.89 1)" font-size="6.5" font-style="italic" fill="#1a1a1a" stroke="#1a1a1a" stroke-width="0.15">KHK</text><text transform="translate(131.1 174.1) scale(0.89 1)" font-size="6.5" font-style="italic" fill="#1a1a1a" stroke="#1a1a1a" stroke-width="0.15">DPYSL5</text><text transform="translate(137.6 154.1) scale(0.89 1)" font-size="6.5" font-style="italic" fill="#1a1a1a" stroke="#1a1a1a" stroke-width="0.15">TYW5</text><text transform="translate(151.9 137) scale(0.89 1)" font-size="6.5" font-style="italic" fill="#1a1a1a" stroke="#1a1a1a" stroke-width="0.15">GLT8D1</text><text transform="translate(189.9 133.2) scale(0.89 1)" font-size="6.5" font-style="italic" fill="#1a1a1a" stroke="#1a1a1a" stroke-width="0.15">NEK4</text><text transform="translate(190.6 153.1) scale(0.89 1)" font-size="6.5" font-style="italic" fill="#1a1a1a" stroke="#1a1a1a" stroke-width="0.15">NT5DC2</text><text transform="translate(225.5 140.2) scale(0.89 1)" font-size="6.5" font-style="italic" fill="#1a1a1a" stroke="#1a1a1a" stroke-width="0.15">GNL3</text><text transform="translate(166.5 170.2) scale(0.89 1)" font-size="6.5" font-style="italic" fill="#1a1a1a" stroke="#1a1a1a" stroke-width="0.15">SPATS2L</text><text transform="translate(208.1 170.2) scale(0.89 1)" font-size="6.5" font-style="italic" fill="#1a1a1a" stroke="#1a1a1a" stroke-width="0.15">PCCB</text><text transform="translate(279.7 133.4) scale(0.89 1)" font-size="6.5" font-style="italic" fill="#1a1a1a" stroke="#1a1a1a" stroke-width="0.15">BTN3A2</text><text transform="translate(249 158.9) scale(0.89 1)" font-size="6.5" font-style="italic" fill="#1a1a1a" stroke="#1a1a1a" stroke-width="0.15">PCDHA7</text><text transform="translate(286.1 158.9) scale(0.89 1)" font-size="6.5" font-style="italic" fill="#1a1a1a" stroke="#1a1a1a" stroke-width="0.15">BTN2A1</text><text transform="translate(246 176.7) scale(0.89 1)" font-size="6.5" font-style="italic" fill="#1a1a1a" stroke="#1a1a1a" stroke-width="0.15">NDUFA2</text><text transform="translate(285.5 176.7) scale(0.89 1)" font-size="6.5" font-style="italic" fill="#1a1a1a" stroke="#1a1a1a" stroke-width="0.15">PCDHA8</text><text transform="translate(438.7 138.8) scale(0.89 1)" font-size="6.5" font-style="italic" fill="#1a1a1a" stroke="#1a1a1a" stroke-width="0.15">CNNM2</text><text transform="translate(447.4 161.8) scale(0.89 1)" font-size="6.5" font-style="italic" fill="#1a1a1a" stroke="#1a1a1a" stroke-width="0.15">SNX32</text><text transform="translate(407.6 178.9) scale(0.89 1)" font-size="6.5" font-style="italic" fill="#1a1a1a" stroke="#1a1a1a" stroke-width="0.15">ARHGAP1</text><text transform="translate(458.7 178.9) scale(0.89 1)" font-size="6.5" font-style="italic" fill="#1a1a1a" stroke="#1a1a1a" stroke-width="0.15">ZDHHC5</text><text transform="translate(479.6 161.8) scale(0.89 1)" font-size="6.5" font-style="italic" fill="#1a1a1a" stroke="#1a1a1a" stroke-width="0.15">UGGT2</text><text transform="translate(512.8 170.2) scale(0.89 1)" font-size="6.5" font-style="italic" fill="#1a1a1a" stroke="#1a1a1a" stroke-width="0.15">TUBGCP4</text><text transform="translate(520.1 152.6) scale(0.89 1)" font-size="6.5" font-style="italic" fill="#1a1a1a" stroke="#1a1a1a" stroke-width="0.15">PPP4C</text><text transform="translate(552.3 155.6) scale(0.89 1)" font-size="6.5" font-style="italic" fill="#1a1a1a" stroke="#1a1a1a" stroke-width="0.15">MAPK3</text><text transform="translate(552.3 176) scale(0.89 1)" font-size="6.5" font-style="italic" fill="#1a1a1a" stroke="#1a1a1a" stroke-width="0.15">PDF</text><text transform="translate(584.6 144.6) scale(0.89 1)" font-size="6.5" font-style="italic" fill="#1a1a1a" stroke="#1a1a1a" stroke-width="0.15">CPNE7</text><text transform="translate(584.6 161.7) scale(0.89 1)" font-size="6.5" font-style="italic" fill="#1a1a1a" stroke="#1a1a1a" stroke-width="0.15">ELAC2</text><text transform="translate(584.6 178.7) scale(0.89 1)" font-size="6.5" font-style="italic" fill="#1a1a1a" stroke="#1a1a1a" stroke-width="0.15">GMIP</text><text transform="translate(615.7 171.4) scale(0.89 1)" font-size="6.5" font-style="italic" fill="#1a1a1a" stroke="#1a1a1a" stroke-width="0.15">YWHAB</text><text transform="translate(649.8 168.7) scale(0.89 1)" font-size="6.5" font-style="italic" fill="#1a1a1a" stroke="#1a1a1a" stroke-width="0.15">NAGA</text><line x1="46" x2="676.8" y1="286.9" y2="286.9" stroke="#e4e4e4" stroke-width="1"/><line x1="46" x2="676.8" y1="279.7" y2="279.7" stroke="#eeeeee" stroke-width="0.8"/><line x1="46" x2="676.8" y1="272.5" y2="272.5" stroke="#e4e4e4" stroke-width="1"/><line x1="46" x2="676.8" y1="265.3" y2="265.3" stroke="#eeeeee" stroke-width="0.8"/><line x1="46" x2="676.8" y1="258.1" y2="258.1" stroke="#e4e4e4" stroke-width="1"/><line x1="46" x2="676.8" y1="251" y2="251" stroke="#eeeeee" stroke-width="0.8"/><line x1="46" x2="676.8" y1="243.8" y2="243.8" stroke="#e4e4e4" stroke-width="1"/><line x1="46" x2="676.8" y1="236.6" y2="236.6" stroke="#eeeeee" stroke-width="0.8"/><line x1="46" x2="676.8" y1="229.4" y2="229.4" stroke="#e4e4e4" stroke-width="1"/><line x1="73.4" x2="96.7" y1="286.9" y2="286.9" stroke="#bdbdbd" stroke-width="2.4" stroke-linecap="round" stroke-dasharray="0.9 1.1"/><line x1="102.6" x2="110.6" y1="286.9" y2="286.9" stroke="#bdbdbd" stroke-width="2.4" stroke-linecap="round" stroke-dasharray="0.9 1.1"/><line x1="114.3" x2="120.1" y1="286.9" y2="286.9" stroke="#c9c9c9" stroke-width="2.4" stroke-linecap="round" stroke-dasharray="0.9 1.1"/><line x1="123" x2="171.3" y1="286.9" y2="286.9" stroke="#6c6c6c" stroke-width="2.4" stroke-linecap="round" stroke-dasharray="0.9 1.1"/><line x1="175" x2="174.9" y1="286.9" y2="286.9" stroke="#bdbdbd" stroke-width="2.4" stroke-linecap="round" stroke-dasharray="0.9 1.1"/><line x1="178.6" x2="185.9" y1="286.9" y2="286.9" stroke="#bdbdbd" stroke-width="2.4" stroke-linecap="round" stroke-dasharray="0.9 1.1"/><line x1="191.8" x2="202.7" y1="286.9" y2="286.9" stroke="#bdbdbd" stroke-width="2.4" stroke-linecap="round" stroke-dasharray="0.9 1.1"/><line x1="207.1" x2="207.9" y1="286.9" y2="286.9" stroke="#bdbdbd" stroke-width="2.4" stroke-linecap="round" stroke-dasharray="0.9 1.1"/><line x1="211.5" x2="247.9" y1="286.9" y2="286.9" stroke="#6c6c6c" stroke-width="2.4" stroke-linecap="round" stroke-dasharray="0.9 1.1"/><line x1="251.1" x2="283.9" y1="286.9" y2="286.9" stroke="#bdbdbd" stroke-width="2.4" stroke-linecap="round" stroke-dasharray="0.9 1.1"/><line x1="286.9" x2="315.3" y1="286.9" y2="286.9" stroke="#6c6c6c" stroke-width="2.4" stroke-linecap="round" stroke-dasharray="0.9 1.1"/><line x1="318.3" x2="339.4" y1="286.9" y2="286.9" stroke="#bdbdbd" stroke-width="2.4" stroke-linecap="round" stroke-dasharray="0.9 1.1"/><line x1="344.1" x2="346.9" y1="286.9" y2="286.9" stroke="#bdbdbd" stroke-width="2.4" stroke-linecap="round" stroke-dasharray="0.9 1.1"/><line x1="349.9" x2="377.6" y1="286.9" y2="286.9" stroke="#6c6c6c" stroke-width="2.4" stroke-linecap="round" stroke-dasharray="0.9 1.1"/><line x1="380.5" x2="387.1" y1="286.9" y2="286.9" stroke="#bdbdbd" stroke-width="2.4" stroke-linecap="round" stroke-dasharray="0.9 1.1"/><line x1="393.7" x2="396.6" y1="286.9" y2="286.9" stroke="#bdbdbd" stroke-width="2.4" stroke-linecap="round" stroke-dasharray="0.9 1.1"/><line x1="401.7" x2="405.3" y1="286.9" y2="286.9" stroke="#c9c9c9" stroke-width="2.4" stroke-linecap="round" stroke-dasharray="0.9 1.1"/><line x1="407.5" x2="433.1" y1="286.9" y2="286.9" stroke="#6c6c6c" stroke-width="2.4" stroke-linecap="round" stroke-dasharray="0.9 1.1"/><line x1="435.5" x2="459.6" y1="286.9" y2="286.9" stroke="#bdbdbd" stroke-width="2.4" stroke-linecap="round" stroke-dasharray="0.9 1.1"/><line x1="462.5" x2="489.5" y1="286.9" y2="286.9" stroke="#6c6c6c" stroke-width="2.4" stroke-linecap="round" stroke-dasharray="0.9 1.1"/><line x1="493.1" x2="501.9" y1="286.9" y2="286.9" stroke="#bdbdbd" stroke-width="2.4" stroke-linecap="round" stroke-dasharray="0.9 1.1"/><line x1="507.7" x2="512.1" y1="286.9" y2="286.9" stroke="#bdbdbd" stroke-width="2.4" stroke-linecap="round" stroke-dasharray="0.9 1.1"/><line x1="516.5" x2="533.5" y1="286.9" y2="286.9" stroke="#6c6c6c" stroke-width="2.4" stroke-linecap="round" stroke-dasharray="0.9 1.1"/><line x1="537.1" x2="539.3" y1="286.9" y2="286.9" stroke="#c9c9c9" stroke-width="2.4" stroke-linecap="round" stroke-dasharray="0.9 1.1"/><line x1="541.5" x2="551.7" y1="286.9" y2="286.9" stroke="#bdbdbd" stroke-width="2.4" stroke-linecap="round" stroke-dasharray="0.9 1.1"/><line x1="553.9" x2="560.5" y1="286.9" y2="286.9" stroke="#6c6c6c" stroke-width="2.4" stroke-linecap="round" stroke-dasharray="0.9 1.1"/><line x1="564.1" x2="570.7" y1="286.9" y2="286.9" stroke="#6c6c6c" stroke-width="2.4" stroke-linecap="round" stroke-dasharray="0.9 1.1"/><line x1="572.9" x2="588.2" y1="286.9" y2="286.9" stroke="#bdbdbd" stroke-width="2.4" stroke-linecap="round" stroke-dasharray="0.9 1.1"/><line x1="591.2" x2="601.4" y1="286.9" y2="286.9" stroke="#6c6c6c" stroke-width="2.4" stroke-linecap="round" stroke-dasharray="0.9 1.1"/><line x1="604.3" x2="612.4" y1="286.9" y2="286.9" stroke="#bdbdbd" stroke-width="2.4" stroke-linecap="round" stroke-dasharray="0.9 1.1"/><line x1="615.3" x2="627.7" y1="286.9" y2="286.9" stroke="#6c6c6c" stroke-width="2.4" stroke-linecap="round" stroke-dasharray="0.9 1.1"/><line x1="631.4" x2="637.9" y1="286.9" y2="286.9" stroke="#bdbdbd" stroke-width="2.4" stroke-linecap="round" stroke-dasharray="0.9 1.1"/><line x1="641.6" x2="648.1" y1="286.9" y2="286.9" stroke="#6c6c6c" stroke-width="2.4" stroke-linecap="round" stroke-dasharray="0.9 1.1"/><line x1="46" x2="676.8" y1="283.2" y2="283.2" stroke="#8a8a8a" stroke-width="1.5" stroke-dasharray="2.9 1.2 1.4 1.5" stroke-dashoffset="5"/><line x1="45.3" x2="45.3" y1="226.7" y2="289.5" stroke="#111" stroke-width="1.5"/><line x1="41.3" x2="45.3" y1="286.9" y2="286.9" stroke="#333" stroke-width="1.3"/><text x="38.0" y="289.3" font-size="6.9" fill="#4d4d4d" text-anchor="end">0</text><line x1="41.3" x2="45.3" y1="272.5" y2="272.5" stroke="#333" stroke-width="1.3"/><text x="38.0" y="275" font-size="6.9" fill="#4d4d4d" text-anchor="end">5</text><line x1="41.3" x2="45.3" y1="258.1" y2="258.1" stroke="#333" stroke-width="1.3"/><text x="38.0" y="260.6" font-size="6.9" fill="#4d4d4d" text-anchor="end">10</text><line x1="41.3" x2="45.3" y1="243.8" y2="243.8" stroke="#333" stroke-width="1.3"/><text x="38.0" y="246.2" font-size="6.9" fill="#4d4d4d" text-anchor="end">15</text><line x1="41.3" x2="45.3" y1="229.4" y2="229.4" stroke="#333" stroke-width="1.3"/><text x="38.0" y="231.8" font-size="6.9" fill="#4d4d4d" text-anchor="end">20</text><text transform="translate(22.9 258.6) rotate(-90)" font-size="8.8" fill="#1a1a1a" text-anchor="middle">&#8722;log<tspan font-size="6" dy="1.8">10</tspan><tspan dy="-1.8" font-size="10.5">(</tspan>adj.p<tspan font-size="10.5">)</tspan></text><line x1="98.2" x2="98.2" y1="290.1" y2="293.5" stroke="#1a1a1a" stroke-width="1.4" stroke-linecap="round"/><text x="98.2" y="302" font-size="6.9" fill="#4d4d4d" text-anchor="middle">1</text><line x1="147.5" x2="147.5" y1="290.1" y2="293.5" stroke="#1a1a1a" stroke-width="1.4" stroke-linecap="round"/><text x="147.5" y="302" font-size="6.9" fill="#4d4d4d" text-anchor="middle">2</text><line x1="192.7" x2="192.7" y1="290.1" y2="293.5" stroke="#1a1a1a" stroke-width="1.4" stroke-linecap="round"/><text x="192.7" y="302" font-size="6.9" fill="#4d4d4d" text-anchor="middle">3</text><line x1="230.9" x2="230.9" y1="290.1" y2="293.5" stroke="#1a1a1a" stroke-width="1.4" stroke-linecap="round"/><text x="230.9" y="302" font-size="6.9" fill="#4d4d4d" text-anchor="middle">4</text><line x1="267.7" x2="267.7" y1="290.1" y2="293.5" stroke="#1a1a1a" stroke-width="1.4" stroke-linecap="round"/><text x="267.7" y="302" font-size="6.9" fill="#4d4d4d" text-anchor="middle">5</text><line x1="301.8" x2="301.8" y1="290.1" y2="293.5" stroke="#1a1a1a" stroke-width="1.4" stroke-linecap="round"/><text x="301.8" y="302" font-size="6.9" fill="#4d4d4d" text-anchor="middle">6</text><line x1="333.8" x2="333.8" y1="290.1" y2="293.5" stroke="#1a1a1a" stroke-width="1.4" stroke-linecap="round"/><text x="333.8" y="302" font-size="6.9" fill="#4d4d4d" text-anchor="middle">7</text><line x1="364.4" x2="364.4" y1="290.1" y2="293.5" stroke="#1a1a1a" stroke-width="1.4" stroke-linecap="round"/><text x="364.4" y="302" font-size="6.9" fill="#4d4d4d" text-anchor="middle">8</text><line x1="393.7" x2="393.7" y1="290.1" y2="293.5" stroke="#1a1a1a" stroke-width="1.4" stroke-linecap="round"/><text x="393.7" y="302" font-size="6.9" fill="#4d4d4d" text-anchor="middle">9</text><line x1="421.9" x2="421.9" y1="290.1" y2="293.5" stroke="#1a1a1a" stroke-width="1.4" stroke-linecap="round"/><text x="421.9" y="302" font-size="6.9" fill="#4d4d4d" text-anchor="middle">10</text><line x1="448.9" x2="448.9" y1="290.1" y2="293.5" stroke="#1a1a1a" stroke-width="1.4" stroke-linecap="round"/><text x="448.9" y="302" font-size="6.9" fill="#4d4d4d" text-anchor="middle">11</text><line x1="476.1" x2="476.1" y1="290.1" y2="293.5" stroke="#1a1a1a" stroke-width="1.4" stroke-linecap="round"/><text x="476.1" y="302" font-size="6.9" fill="#4d4d4d" text-anchor="middle">12</text><line x1="502.6" x2="502.6" y1="290.1" y2="293.5" stroke="#1a1a1a" stroke-width="1.4" stroke-linecap="round"/><text x="502.6" y="302" font-size="6.9" fill="#4d4d4d" text-anchor="middle">13</text><line x1="524.9" x2="524.9" y1="290.1" y2="293.5" stroke="#1a1a1a" stroke-width="1.4" stroke-linecap="round"/><text x="524.9" y="302" font-size="6.9" fill="#4d4d4d" text-anchor="middle">14</text><line x1="547.8" x2="547.8" y1="290.1" y2="293.5" stroke="#1a1a1a" stroke-width="1.4" stroke-linecap="round"/><text x="547.8" y="302" font-size="6.9" fill="#4d4d4d" text-anchor="middle">15</text><line x1="563.1" x2="563.1" y1="290.1" y2="293.5" stroke="#1a1a1a" stroke-width="1.4" stroke-linecap="round"/><text x="563.1" y="302" font-size="6.9" fill="#4d4d4d" text-anchor="middle">16</text><line x1="580.5" x2="580.5" y1="290.1" y2="293.5" stroke="#1a1a1a" stroke-width="1.4" stroke-linecap="round"/><text x="580.5" y="302" font-size="6.9" fill="#4d4d4d" text-anchor="middle">17</text><line x1="597.5" x2="597.5" y1="290.1" y2="293.5" stroke="#1a1a1a" stroke-width="1.4" stroke-linecap="round"/><text x="597.5" y="302" font-size="6.9" fill="#4d4d4d" text-anchor="middle">18</text><line x1="609.5" x2="609.5" y1="290.1" y2="293.5" stroke="#1a1a1a" stroke-width="1.4" stroke-linecap="round"/><text x="609.5" y="302" font-size="6.9" fill="#4d4d4d" text-anchor="middle">19</text><line x1="621.4" x2="621.4" y1="290.1" y2="293.5" stroke="#1a1a1a" stroke-width="1.4" stroke-linecap="round"/><text x="621.4" y="302" font-size="6.9" fill="#4d4d4d" text-anchor="middle">20</text><line x1="633.6" x2="633.6" y1="290.1" y2="293.5" stroke="#1a1a1a" stroke-width="1.4" stroke-linecap="round"/><text x="633.6" y="302" font-size="6.9" fill="#4d4d4d" text-anchor="middle">21</text><line x1="643.9" x2="643.9" y1="290.1" y2="293.5" stroke="#1a1a1a" stroke-width="1.4" stroke-linecap="round"/><text x="643.9" y="302" font-size="6.9" fill="#4d4d4d" text-anchor="middle">22</text><text x="616.8" y="219.3" font-size="9.9" font-weight="bold" fill="#000">Protein</text><line x1="182.5" y1="243.5" x2="182.5" y2="247.6" stroke="#555" stroke-width="0.55"/><line x1="94.3" y1="278" x2="108.5" y2="280.4" stroke="#555" stroke-width="0.55"/><line x1="122.7" y1="276.5" x2="128.2" y2="280.2" stroke="#555" stroke-width="0.55"/><line x1="158.9" y1="274.3" x2="142.4" y2="278.6" stroke="#555" stroke-width="0.55"/><line x1="185.1" y1="278.2" x2="182.5" y2="282.6" stroke="#555" stroke-width="0.55"/><line x1="208.5" y1="279.8" x2="199.7" y2="282.4" stroke="#555" stroke-width="0.55"/><line x1="291.7" y1="258.2" x2="291.7" y2="262.2" stroke="#555" stroke-width="0.55"/><line x1="295" y1="274.9" x2="310.3" y2="277.6" stroke="#555" stroke-width="0.55"/><line x1="334.7" y1="278" x2="322" y2="280.8" stroke="#555" stroke-width="0.55"/><line x1="392" y1="279.8" x2="402.1" y2="281.5" stroke="#555" stroke-width="0.55"/><line x1="416.2" y1="257.8" x2="428.9" y2="264" stroke="#555" stroke-width="0.55"/><line x1="437" y1="268.2" x2="428.9" y2="268.4" stroke="#555" stroke-width="0.55"/><line x1="416" y1="272.7" x2="428.9" y2="277.1" stroke="#555" stroke-width="0.55"/><line x1="487" y1="270" x2="487" y2="274.6" stroke="#555" stroke-width="0.55"/><line x1="530" y1="275" x2="545.4" y2="277.7" stroke="#555" stroke-width="0.55"/><line x1="584" y1="279" x2="575.9" y2="281.8" stroke="#555" stroke-width="0.55"/><circle cx="182.5" cy="247.6" r="1.3" fill="#ff0000"/><circle cx="108.5" cy="280.4" r="1.3" fill="#ff0000"/><circle cx="128.2" cy="280.2" r="1.3" fill="#ff0000"/><circle cx="142.4" cy="278.6" r="1.3" fill="#ff0000"/><circle cx="182.5" cy="282.6" r="1.3" fill="#ff0000"/><circle cx="199.7" cy="282.4" r="1.3" fill="#ff0000"/><circle cx="291.7" cy="262.2" r="1.3" fill="#ff0000"/><circle cx="310.3" cy="277.6" r="1.3" fill="#ff0000"/><circle cx="322" cy="280.8" r="1.3" fill="#ff0000"/><circle cx="402.1" cy="281.5" r="1.3" fill="#ff0000"/><circle cx="428.9" cy="264" r="1.3" fill="#ff0000"/><circle cx="428.9" cy="268.4" r="1.3" fill="#ff0000"/><circle cx="428.9" cy="277.1" r="1.3" fill="#ff0000"/><circle cx="487" cy="274.6" r="1.3" fill="#ff0000"/><circle cx="545.4" cy="277.7" r="1.3" fill="#ff0000"/><circle cx="575.9" cy="281.8" r="1.3" fill="#ff0000"/><text transform="translate(175.7 242.3) scale(0.89 1)" font-size="6.5" font-style="italic" fill="#1a1a1a" stroke="#1a1a1a" stroke-width="0.15">NEK4</text><text transform="translate(82.7 277.8) scale(0.89 1)" font-size="6.5" font-style="italic" fill="#1a1a1a" stroke="#1a1a1a" stroke-width="0.15">DARS2</text><text transform="translate(112.4 275.2) scale(0.89 1)" font-size="6.5" font-style="italic" fill="#1a1a1a" stroke="#1a1a1a" stroke-width="0.15">KHK</text><text transform="translate(147.9 273.4) scale(0.89 1)" font-size="6.5" font-style="italic" fill="#1a1a1a" stroke="#1a1a1a" stroke-width="0.15">ACTR1B</text><text transform="translate(181.9 277.4) scale(0.89 1)" font-size="6.5" font-style="italic" fill="#1a1a1a" stroke="#1a1a1a" stroke-width="0.15">TKT</text><text transform="translate(207.4 279.1) scale(0.89 1)" font-size="6.5" font-style="italic" fill="#1a1a1a" stroke="#1a1a1a" stroke-width="0.15">NCK1</text><text transform="translate(281.2 257.2) scale(0.89 1)" font-size="6.5" font-style="italic" fill="#1a1a1a" stroke="#1a1a1a" stroke-width="0.15">BTN2A1</text><text transform="translate(286.6 274.7) scale(0.89 1)" font-size="6.5" font-style="italic" fill="#1a1a1a" stroke="#1a1a1a" stroke-width="0.15">GOPC</text><text transform="translate(329.9 277.4) scale(0.89 1)" font-size="6.5" font-style="italic" fill="#1a1a1a" stroke="#1a1a1a" stroke-width="0.15">FAM221A</text><text transform="translate(374.1 279.1) scale(0.89 1)" font-size="6.5" font-style="italic" fill="#1a1a1a" stroke="#1a1a1a" stroke-width="0.15">IKBKAP</text><text transform="translate(405.9 257.2) scale(0.89 1)" font-size="6.5" font-style="italic" fill="#1a1a1a" stroke="#1a1a1a" stroke-width="0.15">CNNM2</text><text transform="translate(437 268.2) scale(0.89 1)" font-size="6.5" font-style="italic" fill="#1a1a1a" stroke="#1a1a1a" stroke-width="0.15">NT5C2</text><text transform="translate(405.9 271.9) scale(0.89 1)" font-size="6.5" font-style="italic" fill="#1a1a1a" stroke="#1a1a1a" stroke-width="0.15">DPCD</text><text transform="translate(479.2 269.3) scale(0.89 1)" font-size="6.5" font-style="italic" fill="#1a1a1a" stroke="#1a1a1a" stroke-width="0.15">HIP1R</text><text transform="translate(515.2 274.4) scale(0.89 1)" font-size="6.5" font-style="italic" fill="#1a1a1a" stroke="#1a1a1a" stroke-width="0.15">ADAM10</text><text transform="translate(583.8 278.6) scale(0.89 1)" font-size="6.5" font-style="italic" fill="#1a1a1a" stroke="#1a1a1a" stroke-width="0.15">TOM1L2</text><text x="360.9" y="313.6" font-size="8.5" fill="#000" text-anchor="middle">Chromosome</text><text x="0.6" y="358.8" font-size="10" font-weight="bold">B</text><defs><clipPath id="cm"><circle cx="107.2" cy="455.4" r="51"/></clipPath><clipPath id="cr"><circle cx="81.6" cy="506.5" r="51"/></clipPath><clipPath id="cp"><circle cx="132.6" cy="506.5" r="51"/></clipPath><mask id="nm"><rect width="685" height="610" fill="white"/><circle cx="107.2" cy="455.4" r="51" fill="black"/></mask><mask id="nr"><rect width="685" height="610" fill="white"/><circle cx="81.6" cy="506.5" r="51" fill="black"/></mask><mask id="np"><rect width="685" height="610" fill="white"/><circle cx="132.6" cy="506.5" r="51" fill="black"/></mask></defs><g mask="url(#nr)"><g mask="url(#np)"><circle cx="107.2" cy="455.4" r="51" fill="#a8d5e3"/></g></g><g mask="url(#nm)"><g mask="url(#np)"><circle cx="81.6" cy="506.5" r="51" fill="#ddeef4"/></g></g><g mask="url(#nm)"><g mask="url(#nr)"><circle cx="132.6" cy="506.5" r="51" fill="#eff7fa"/></g></g><g clip-path="url(#cm)"><g mask="url(#np)"><circle cx="81.6" cy="506.5" r="51" fill="#e7f4f7"/></g></g><g clip-path="url(#cm)"><g mask="url(#nr)"><circle cx="132.6" cy="506.5" r="51" fill="#f7fbfc"/></g></g><g clip-path="url(#cr)"><g mask="url(#nm)"><circle cx="132.6" cy="506.5" r="51" fill="#ffffff"/></g></g><g clip-path="url(#cm)"><g clip-path="url(#cr)"><circle cx="132.6" cy="506.5" r="51" fill="#f7fbfc"/></g></g><circle cx="107.2" cy="455.4" r="51" fill="none" stroke="#1b9e77" stroke-width="1.3"/><circle cx="81.6" cy="506.5" r="51" fill="none" stroke="#d95f02" stroke-width="1.3"/><circle cx="132.6" cy="506.5" r="51" fill="none" stroke="#7570b3" stroke-width="1.3"/><text x="107.3" y="437.3" font-size="12" text-anchor="middle" fill="#000">34</text><text x="75.9" y="482.9" font-size="12" text-anchor="middle" fill="#000">10</text><text x="106.9" y="488.9" font-size="12" text-anchor="middle" fill="#000">4</text><text x="138.1" y="482.9" font-size="12" text-anchor="middle" fill="#000">4</text><text x="56.4" y="514.5" font-size="12" text-anchor="middle" fill="#000">14</text><text x="157.9" y="515.3" font-size="12" text-anchor="middle" fill="#000">7</text><text x="106.9" y="529.6" font-size="12" text-anchor="middle" fill="#000">1</text><text x="106.6" y="403.0" font-size="12" text-anchor="middle" fill="#000">mRNA</text><text x="24.3" y="571" font-size="12" fill="#000">Ribo</text><text x="158" y="571" font-size="12" fill="#000">Protein</text><text x="219.0" y="358.6" font-size="10" font-weight="bold">C</text><text x="257.4" y="366.9" font-size="9.7" font-style="italic">KHK</text><text x="270.3" y="384.6" font-size="8.5">2_27321206_T_G genotype</text><rect x="380.2" y="379.4" width="7.2" height="5" fill="#384c57"/><line x1="380.2" x2="387.4" y1="381.9" y2="381.9" stroke="#fff" stroke-width="0.6" opacity="0.7"/><line x1="383.8" x2="383.8" y1="379.4" y2="384.4" stroke="#fff" stroke-width="0.5" opacity="0.5"/><rect x="403.1" y="379.4" width="7.2" height="5" fill="#e38b3f"/><line x1="403.1" x2="410.2" y1="381.9" y2="381.9" stroke="#fff" stroke-width="0.6" opacity="0.7"/><line x1="406.6" x2="406.6" y1="379.4" y2="384.4" stroke="#fff" stroke-width="0.5" opacity="0.5"/><rect x="425.9" y="379.4" width="7.2" height="5" fill="#139fd6"/><line x1="425.9" x2="433.1" y1="381.9" y2="381.9" stroke="#fff" stroke-width="0.6" opacity="0.7"/><line x1="429.4" x2="429.4" y1="379.4" y2="384.4" stroke="#fff" stroke-width="0.5" opacity="0.5"/><text x="394" y="384.6" font-size="8.5">0</text><text x="416.8" y="384.6" font-size="8.5">1</text><text x="439.3" y="384.6" font-size="8.5">2</text><line x1="257" x2="257" y1="390.3" y2="574.3" stroke="#000" stroke-width="1.3"/><line x1="256.4" x2="456.6" y1="573.7" y2="573.7" stroke="#000" stroke-width="1.3"/><line x1="252.9" x2="257" y1="427" y2="427" stroke="#000" stroke-width="1.2"/><text x="249.8" y="430" font-size="8.4" text-anchor="end">2</text><line x1="252.9" x2="257" y1="481.9" y2="481.9" stroke="#000" stroke-width="1.2"/><text x="249.8" y="484.9" font-size="8.4" text-anchor="end">0</text><line x1="252.9" x2="257" y1="536.9" y2="536.9" stroke="#000" stroke-width="1.2"/><text x="249.8" y="539.9" font-size="8.4" text-anchor="end">&#8722;2</text><line x1="295" x2="295" y1="573.7" y2="577.2" stroke="#000" stroke-width="1.2"/><text x="295" y="587.3" font-size="8.5" text-anchor="middle">mRNA</text><line x1="356.9" x2="356.9" y1="573.7" y2="577.2" stroke="#000" stroke-width="1.2"/><text x="356.9" y="587.3" font-size="8.5" text-anchor="middle">Ribo</text><line x1="419.6" x2="419.6" y1="573.7" y2="577.2" stroke="#000" stroke-width="1.2"/><text x="419.6" y="587.3" font-size="8.5" text-anchor="middle">Protein</text><text transform="translate(235.1 481.7) rotate(-90)" font-size="9.8" text-anchor="middle">Gene expression</text><line x1="277.9" x2="277.9" y1="416.8" y2="436.6" stroke="#384c57" stroke-width="1.25"/><line x1="277.9" x2="277.9" y1="479.1" y2="512.4" stroke="#384c57" stroke-width="1.25"/><rect x="270.5" y="436.6" width="14.8" height="42.5" fill="none" stroke="#384c57" stroke-width="1.3"/><line x1="270.5" x2="285.3" y1="462.5" y2="462.5" stroke="#384c57" stroke-width="1.3"/><path d="M277.4 416.8h0M276.9 512.4h0M277.2 497.6h0M275.4 465.3h0M275.6 479.7h0M279.7 457.4h0M278.6 438.1h0M280.5 434.5h0M276.8 498.9h0M276.9 428.1h0M276.2 447.7h0M278.2 443h0M276.3 422.5h0M277.5 439.2h0M277.6 472.8h0M279 492.7h0M278 471.7h0M280.5 459.2h0M279.3 456.8h0M275.4 463.5h0M279.3 436.8h0M279 481.9h0" stroke="#384c57" stroke-width="2.9" stroke-linecap="round" fill="none"/><line x1="294.7" x2="294.7" y1="423.8" y2="463.5" stroke="#e38b3f" stroke-width="1.25"/><line x1="294.7" x2="294.7" y1="495.3" y2="542.3" stroke="#e38b3f" stroke-width="1.25"/><rect x="287.3" y="463.5" width="14.8" height="31.8" fill="none" stroke="#e38b3f" stroke-width="1.3"/><line x1="287.3" x2="302.1" y1="481.3" y2="481.3" stroke="#e38b3f" stroke-width="1.3"/><path d="M295 423.8h0M294.9 542.3h0M296.5 466.9h0M292.3 446.9h0M295.5 486.9h0M294.1 489.7h0M292.1 463.9h0M292.3 487.1h0M292.7 491.5h0M296.7 470.1h0M295 477h0M293.5 501.2h0M293.9 438.6h0M293 494.3h0M294.6 451.5h0M293.4 477.8h0M294 473.4h0M294.8 515.8h0M295.7 470.8h0M296.2 530.4h0M294.2 488.3h0M292.3 499h0M292.9 448.5h0M292 430h0M294 435.8h0M295.3 527.4h0M293.9 453.7h0M296.6 438.4h0M294.5 458.8h0M293.9 490.7h0M292.9 522h0M294.9 536.5h0M292.1 488.2h0M297.3 486.9h0M294 475.2h0M294.9 515.3h0M293.8 464h0M297.3 520h0M296 496.3h0M293.9 485.1h0M293.5 427.1h0M297.2 505.9h0M297.1 440.4h0M293.2 502.9h0M293.1 447.1h0M296.9 475h0M296.3 447.3h0M296.9 502.1h0M296.1 485.7h0M293.8 499.4h0M297.2 518.8h0M297.1 471.4h0M292.8 487.2h0M296.4 492.1h0M297.3 521.7h0M292.7 463.8h0M295.5 538.9h0M297 505.3h0M293.1 511.8h0M293.3 458.5h0M293.4 449.5h0M293.9 516.5h0M295.2 519.3h0M294.7 435h0M294.8 506.5h0M293 476h0M292.9 518.5h0M293.8 476.6h0M295 451.6h0M293.3 505h0M294.7 515.3h0M296.1 500h0M294.7 450.9h0M295.7 492.6h0M297.1 455h0M296.7 475.7h0M297.1 479.5h0M292.7 511.4h0M292.4 476.2h0M295.6 432.5h0M295.9 492.2h0M292.8 473.1h0M293.2 563.8h0" stroke="#e38b3f" stroke-width="2.9" stroke-linecap="round" fill="none"/><line x1="311.3" x2="311.3" y1="451.7" y2="479.6" stroke="#139fd6" stroke-width="1.25"/><line x1="311.3" x2="311.3" y1="506.9" y2="547.5" stroke="#139fd6" stroke-width="1.25"/><rect x="303.9" y="479.6" width="14.8" height="27.3" fill="none" stroke="#139fd6" stroke-width="1.3"/><line x1="303.9" x2="318.7" y1="495.4" y2="495.4" stroke="#139fd6" stroke-width="1.3"/><path d="M312.4 451.7h0M312.7 547.5h0M310.8 542.9h0M309.5 533.6h0M311.4 493h0M310.3 470.5h0M311 520.9h0M312 483.5h0M308.9 498.5h0M309.2 508.3h0M312.8 455.5h0M310.9 464.1h0M309.4 502h0M311.7 481.2h0M312.3 501.3h0M309 499.1h0M309.1 471.2h0M309 468.2h0M311.6 477.8h0M310 500.7h0M309.9 502.2h0M308.9 467.2h0M310.2 481.6h0M309.6 489.5h0M310 453.4h0M311.6 521.9h0M313.6 497.2h0M310.9 530.2h0M313.1 518.5h0M312.3 500.2h0M312.4 474.4h0M310.8 527.3h0M309.3 456.9h0M310 522.7h0M313.1 459.8h0M309.9 487.5h0M309.5 495.7h0M310 480.9h0M309.9 520.5h0M310.3 491h0M310.7 451.8h0M311.3 481.8h0M309.1 477h0M308.7 455.7h0M311.8 474h0M312.7 495.2h0M310.7 486.6h0M309.4 546h0M312.1 454.7h0M313.4 531.7h0M309.4 491.7h0M311.3 458.6h0M311.8 508.2h0M312.3 459.7h0M309.3 496h0M313.1 461.8h0M312 500.5h0M308.6 485.5h0M312.6 474.1h0M309 466.4h0M310 488.9h0M312.5 477.1h0M313.9 522.6h0M312.3 478.3h0M311.9 510.9h0M310 505.5h0M310.2 500.7h0M310.1 502.5h0M312.3 496h0M311.1 489.2h0M309.2 519h0M313.7 512.9h0M313 495.7h0M309.7 480.2h0M309.7 500.4h0M313.7 510.9h0M311.3 530.3h0M310.9 415.9h0" stroke="#139fd6" stroke-width="2.9" stroke-linecap="round" fill="none"/><line x1="340.3" x2="340.3" y1="428.1" y2="445.3" stroke="#384c57" stroke-width="1.25"/><line x1="340.3" x2="340.3" y1="467" y2="490.7" stroke="#384c57" stroke-width="1.25"/><rect x="332.9" y="445.3" width="14.8" height="21.7" fill="none" stroke="#384c57" stroke-width="1.3"/><line x1="332.9" x2="347.7" y1="462.3" y2="462.3" stroke="#384c57" stroke-width="1.3"/><path d="M341.5 428.1h0M340.9 490.7h0M340.2 484.3h0M340.3 428.3h0M339.2 477.5h0M339.3 449.6h0M342.1 489.1h0M341.5 486.1h0M339.2 462.6h0M343 452.7h0M339.1 451.4h0M342.1 434.5h0M338.9 486.7h0M338.6 460.1h0M342.4 488h0M341 475.4h0M341.5 481.2h0M340 473.9h0M341.1 454.9h0M342.6 431.2h0M339.5 457.7h0M342.9 474.4h0M338.6 398.6h0M339.4 503.4h0" stroke="#384c57" stroke-width="2.9" stroke-linecap="round" fill="none"/><line x1="357.1" x2="357.1" y1="426.2" y2="458.2" stroke="#e38b3f" stroke-width="1.25"/><line x1="357.1" x2="357.1" y1="488" y2="521.4" stroke="#e38b3f" stroke-width="1.25"/><rect x="349.7" y="458.2" width="14.8" height="29.8" fill="none" stroke="#e38b3f" stroke-width="1.3"/><line x1="349.7" x2="364.5" y1="479.9" y2="479.9" stroke="#e38b3f" stroke-width="1.3"/><path d="M356.4 426.2h0M357.6 521.4h0M356.5 479.3h0M355.5 441.6h0M359.3 464.3h0M356.8 480.2h0M354.9 444.5h0M355.7 434.9h0M359.2 480.4h0M357.2 460.4h0M354.7 458.4h0M355.1 518.3h0M357.8 491.8h0M355.7 483.6h0M359.6 468.6h0M359.1 497.1h0M358.2 429.3h0M354.4 450.9h0M358.9 514.4h0M359.7 484.8h0M355.2 436.6h0M358.3 458.1h0M358.5 432h0M358.6 474h0M357.9 513.8h0M355.8 438.4h0M358.2 477.9h0M357.2 432.9h0M357.6 467.9h0M356.9 454.9h0M357.9 490.1h0M355.7 463.9h0M358.2 482.4h0M357.1 428.3h0M358 465h0M355.6 488.1h0M356.7 458.4h0M358.4 492.5h0M355.5 517.3h0M355.6 464.4h0M356 498.6h0M357.1 517.8h0M356.7 447.5h0M356.5 491.7h0M355.2 518.9h0M356.5 431.9h0M359.2 476h0M356.2 479.1h0M358.4 515.3h0M356.4 489.5h0M355.3 457.8h0M356.3 452.8h0M355.5 520.5h0M358.8 504.4h0M354.7 519.9h0M355.4 445.3h0M354.6 511.6h0M358.8 515.5h0M354.7 485.6h0M355.8 481.4h0M355.9 496.1h0M357.7 467.9h0M356.1 494.4h0M358.5 426.6h0M354.5 444.7h0M359.6 471.4h0M356.5 440.4h0M357.1 467.1h0M358.4 496.2h0M358.6 516.2h0M356.4 470.8h0M354.8 497h0M355.7 497.9h0M357.4 429.4h0M359.2 519.5h0M354.9 479h0M358.2 489.1h0M357.7 482.2h0M358.4 502.7h0M358.9 474.1h0M356.4 480.2h0M355.5 470.3h0M354.8 532.6h0M359.3 540.9h0" stroke="#e38b3f" stroke-width="2.9" stroke-linecap="round" fill="none"/><line x1="374.1" x2="374.1" y1="453.5" y2="479.4" stroke="#139fd6" stroke-width="1.25"/><line x1="374.1" x2="374.1" y1="507.9" y2="545.7" stroke="#139fd6" stroke-width="1.25"/><rect x="366.7" y="479.4" width="14.8" height="28.5" fill="none" stroke="#139fd6" stroke-width="1.3"/><line x1="366.7" x2="381.5" y1="495.2" y2="495.2" stroke="#139fd6" stroke-width="1.3"/><path d="M373.3 453.5h0M373.3 545.7h0M374.5 535h0M376.8 490h0M374.9 499.7h0M372 533.3h0M376.3 512.2h0M372 480.6h0M374.5 543.2h0M373.4 458.5h0M375.6 479.6h0M372 500.4h0M373.4 484.4h0M372.8 472.3h0M374.9 485.1h0M373.2 454.5h0M372.5 502.4h0M374.4 512h0M373.5 462.8h0M372.3 489.3h0M373.6 488.1h0M376.5 481.9h0M373.3 505.7h0M373.4 542.1h0M372.5 520.6h0M373.7 536.6h0M373.9 458.8h0M374.4 454.9h0M376.3 519.5h0M373.4 510.9h0M374.2 505.7h0M372 508.9h0M372.5 513.8h0M376.7 540.5h0M373.5 540.7h0M374.7 511.1h0M372.6 515h0M376 526.5h0M373.6 501.3h0M373.5 508.7h0M375.3 476.3h0M375.5 521.5h0M372 530.8h0M374.4 502.1h0M374.5 487.6h0M375 515.9h0M374.7 490.9h0M372.7 496.9h0M372.4 499.6h0M372 472.2h0M371.9 493.2h0M374.8 489.1h0M375.6 521.1h0M371.7 494.8h0M372.1 457.9h0M376.8 531.2h0M376.7 500.7h0M376.6 482.5h0M376.4 514.1h0M375.5 485.9h0M372.9 536.2h0M372.2 527.3h0M372.8 507.9h0M373.1 488.2h0M372.3 470.3h0M372.3 476h0M372 454.6h0M376.1 482.1h0M374.5 480.1h0M374.8 535.8h0M372.8 527h0M375.5 477.5h0M372.4 485.9h0M372.8 532.5h0M376.7 506.9h0M371.4 485.8h0M374.7 467.3h0M374 565.2h0" stroke="#139fd6" stroke-width="2.9" stroke-linecap="round" fill="none"/><line x1="402.8" x2="402.8" y1="452" y2="503.4" stroke="#384c57" stroke-width="1.25"/><line x1="402.8" x2="402.8" y1="548.1" y2="557.5" stroke="#384c57" stroke-width="1.25"/><rect x="395.4" y="503.4" width="14.8" height="44.7" fill="none" stroke="#384c57" stroke-width="1.3"/><line x1="395.4" x2="410.2" y1="525.5" y2="525.5" stroke="#384c57" stroke-width="1.3"/><path d="M402.6 452h0M402.8 557.5h0M400.8 500.9h0M400.2 520.9h0M400.7 489.4h0M403.3 475.7h0M402.7 538.7h0M401.4 550.8h0M403.5 462.1h0M401.5 532.2h0M403.1 520h0M402.5 520.1h0M404.1 492.6h0M400.3 547.3h0M400.4 505.2h0M400.2 539.1h0M401.2 542.6h0M402.8 518.8h0M401.8 533.5h0M404.9 457.1h0M404 506.6h0M404.1 541.1h0" stroke="#384c57" stroke-width="2.9" stroke-linecap="round" fill="none"/><line x1="419.7" x2="419.7" y1="452.7" y2="478.3" stroke="#e38b3f" stroke-width="1.25"/><line x1="419.7" x2="419.7" y1="498.5" y2="524.1" stroke="#e38b3f" stroke-width="1.25"/><rect x="412.3" y="478.3" width="14.8" height="20.2" fill="none" stroke="#e38b3f" stroke-width="1.3"/><line x1="412.3" x2="427.1" y1="488" y2="488" stroke="#e38b3f" stroke-width="1.3"/><path d="M419.6 452.7h0M420.4 524.1h0M418.3 489.1h0M421 476.7h0M421.6 495h0M419.4 486.1h0M419.8 506.9h0M422.2 498.5h0M417.1 515.5h0M421 469.6h0M421.8 487.7h0M421.9 469.8h0M420.7 474.7h0M421.5 504.7h0M421.6 485.8h0M418.7 484.9h0M417.4 497.2h0M417.8 468.8h0M422 460.3h0M417.2 462.8h0M420.4 502.2h0M420.2 487.5h0M421.4 511.1h0M417.4 482.5h0M417.6 518.9h0M417.2 460.7h0M421.4 469.6h0M418.6 497.6h0M421.1 459.7h0M419.3 475.5h0M418.5 471h0M419 469.2h0M419.7 521.5h0M419.2 485.2h0M421.2 485.5h0M419.9 503h0M417.5 514.3h0M418.1 488.4h0M422.3 488.7h0M419.7 487.7h0M418.9 495h0M418.4 504h0M420.8 485.8h0M417.6 498.2h0M420.8 511h0M420.4 500.8h0M419.1 481.4h0M417.1 514.9h0M421.9 471.5h0M419 504.2h0M419.9 489.7h0M421.1 504.6h0M417.8 480.3h0M420.6 498.8h0M421.2 495.8h0M417.7 502.1h0M418 496.3h0M421.6 502.9h0M418.3 463.8h0M417.9 490h0M422.3 466.2h0M417.5 480.7h0M422.3 499.8h0M421 496.8h0M417.6 495.1h0M417.2 480.4h0M420.7 509.2h0M420.4 508.1h0M419.2 500.8h0M421.9 503.8h0M419.3 465.7h0M421.8 504.3h0M420.8 476.8h0M419.5 478.8h0M417.5 497.6h0M421.2 468.6h0M419.3 480.2h0M419.2 434h0M421.4 440.2h0" stroke="#e38b3f" stroke-width="2.9" stroke-linecap="round" fill="none"/><line x1="436.5" x2="436.5" y1="430.6" y2="450.5" stroke="#139fd6" stroke-width="1.25"/><line x1="436.5" x2="436.5" y1="467.9" y2="496.7" stroke="#139fd6" stroke-width="1.25"/><rect x="429.1" y="450.5" width="14.8" height="17.4" fill="none" stroke="#139fd6" stroke-width="1.3"/><line x1="429.1" x2="443.9" y1="458.2" y2="458.2" stroke="#139fd6" stroke-width="1.3"/><path d="M436.4 430.6h0M436.9 496.7h0M437.4 451.1h0M438 465.9h0M439.1 463h0M434.7 466.5h0M438.9 475.4h0M436.7 471.8h0M436.6 468.2h0M436 465.7h0M434.9 444.4h0M434.5 441.1h0M435.7 471.9h0M436 448.7h0M436.1 458.3h0M435 452.1h0M438.9 466.3h0M435.9 462.7h0M438 439.1h0M437.2 481h0M439 449.7h0M438.2 472.8h0M436.3 454.7h0M434.5 466.8h0M435.2 442.8h0M436.1 447.4h0M437.7 430.8h0M435.4 446.8h0M436.1 478.1h0M438.8 451.6h0M434.1 447.9h0M434.6 476.9h0M437.2 445.6h0M438.9 431.4h0M434.6 458.2h0M435.7 481.9h0M438.1 490.4h0M437.1 489.5h0M437.4 464.2h0M434.9 464h0M436.7 434.3h0M436.8 433.5h0M434.6 446.1h0M434.1 468.2h0M436.5 467.4h0M438.5 470h0M436.3 486.2h0M435.8 445.7h0M439 436.9h0M437.2 472.7h0M437.5 470.9h0M436.6 440.5h0M438.6 490.1h0M437.2 478.1h0M435.8 487.6h0M434.9 436.4h0M436.1 454.7h0M438.3 463.2h0M436.5 448.7h0M439.1 464.1h0M435.5 461.2h0M437.2 469.4h0M434 447h0M434.1 470.4h0M434.8 431h0M437.1 447.5h0M437.1 465.1h0M437.2 430.8h0M434.9 442.2h0M436.3 447.1h0M434 464.8h0M438.7 463.1h0M438 441.9h0M435.2 475.8h0M435.5 458.5h0M434.1 439.3h0M434 434.8h0M436 397.7h0M437.4 548.1h0" stroke="#139fd6" stroke-width="2.9" stroke-linecap="round" fill="none"/><text x="477.3" y="359.1" font-size="10" font-weight="bold">D</text><text x="600.4" y="376" font-size="8.6" fill="#ff0000" text-anchor="middle">2_27315064_G_A</text><line x1="517.5" x2="685" y1="418.3" y2="418.3" stroke="#e6e6e6" stroke-width="0.9"/><line x1="517.5" x2="685" y1="413.7" y2="413.7" stroke="#e6e6e6" stroke-width="0.9"/><line x1="517.5" x2="685" y1="409.1" y2="409.1" stroke="#e6e6e6" stroke-width="0.9"/><line x1="517.5" x2="685" y1="404.5" y2="404.5" stroke="#e6e6e6" stroke-width="0.9"/><line x1="517.5" x2="685" y1="399.9" y2="399.9" stroke="#e6e6e6" stroke-width="0.9"/><line x1="517.5" x2="685" y1="395.3" y2="395.3" stroke="#e6e6e6" stroke-width="0.9"/><line x1="517.5" x2="685" y1="390.7" y2="390.7" stroke="#e6e6e6" stroke-width="0.9"/><line x1="517.5" x2="685" y1="386.1" y2="386.1" stroke="#e6e6e6" stroke-width="0.9"/><path d="M608.4 415h0M627.5 416.3h0M591.7 411.7h0M643.4 416.1h0M584.7 411.7h0M529.3 417.8h0M631.9 416.1h0M615.1 416.8h0M550.8 416.1h0M674.4 415.7h0M607 414.3h0M560.2 416.4h0M669.9 416.7h0M594.7 414.1h0M608.3 414.3h0M525.7 415.7h0M649.8 415.3h0M637.6 415.4h0M603.8 414.4h0M589.7 416.4h0M657.3 415.8h0M555.2 416.2h0M598.7 414h0M577.5 413.3h0M619.8 416.1h0M594.6 417.2h0M559.8 417.4h0M613.8 416.5h0M646.4 415.5h0M649.1 416.9h0M653 416.3h0M537.5 418.1h0M527 415.4h0M562.8 417.5h0M620 416.7h0M535.4 417.4h0M605.1 416.6h0M566.4 415.9h0M594.1 413.6h0M597 417.4h0M583.7 412.5h0M553.4 417.5h0M661.8 416.2h0M556.7 416.5h0M649.2 418h0M527.5 417.2h0M634.3 417.5h0M632.1 416.6h0M607.8 416.6h0M673.4 415.4h0M603.5 416h0M623.6 416.9h0M612.5 417.2h0M620.9 417.7h0M570.3 413.6h0M658.1 416.6h0M655.5 416.8h0M667.8 416.6h0M588.2 413.1h0M526.1 415.3h0M530.6 415.8h0M671.3 416.4h0M550.9 415.3h0M673.1 415.6h0M602.3 414.9h0M577.6 415.5h0M627.5 416.1h0M554.4 417.5h0M626.2 416.7h0M600.9 414.9h0M657.5 415h0M527.6 417h0M574.7 413.2h0M644 416.7h0M557.3 416.7h0M652.4 415.9h0M577.2 411.9h0M629.4 416h0M674.9 417.1h0M635.3 417.7h0M550.7 415.1h0M557.2 416.6h0M616.2 415.4h0M580.9 413.3h0M569.2 414.4h0M616.8 415h0M659.9 417.2h0M608.7 417.3h0M530.8 417.7h0M656.7 415.4h0M651 416.8h0M618.5 415.6h0M582.4 411.4h0M558.9 417.8h0M565.4 416h0M610.8 415.4h0M594.5 414h0M644.7 415.8h0M526.7 415.6h0M538.8 417.5h0M659.6 417.8h0M561.3 415.3h0M588.9 415.2h0M550.3 416.7h0M638.1 417.5h0M663.5 416.7h0M672.6 415.3h0M569.6 416.3h0M597.5 416.2h0M624.1 418h0M526.4 415h0M569.8 414.9h0M593.3 413.6h0M534.4 415.6h0M672.5 415.2h0M541.8 416.5h0M618.9 415.3h0M607.5 414.9h0M625.6 416.9h0M607.3 416.2h0M562.3 417.6h0M567.6 414.8h0M593 410.9h0M622.8 415.6h0M584.3 413.4h0M574.6 415.7h0M653.8 415.7h0M570.9 415.9h0M607.7 415.2h0M615.6 417.1h0M527.9 416.8h0M535.8 416.3h0M535.6 417.7h0M621.6 416.8h0M645.4 416.4h0M656.2 417.2h0M601.2 412.6h0M536.6 415.6h0M551.2 415.7h0M674.8 415.7h0M573.5 417.1h0M603.1 412.8h0M569.5 414.1h0M546.4 414.3h0M529.6 416.7h0M662.3 415.7h0M663 415.7h0M638.4 415.7h0M551.9 416.6h0M548.9 415h0M626.5 416.7h0M534.6 415.5h0M647.9 415.9h0M607.3 414.4h0M593.8 412.9h0M576.4 415.5h0M528.5 415.7h0M588.3 409.9h0M534.3 416.8h0M545.9 417h0M564.3 415.9h0M585.4 412.3h0M618.1 417h0M526 416.2h0M601.1 413.2h0M591.6 410.4h0M636.2 417h0M600.2 413.8h0M559.1 416.9h0M610.2 415.1h0M664.6 416.9h0M623.2 417.9h0M535.7 416.4h0M658.4 417.1h0M641.5 415h0M572.3 414.7h0M654.1 416.7h0M631.6 416.3h0M615.4 415.8h0M661.3 415.2h0M611.8 417.4h0M563 417h0M611.5 416.1h0M532.8 416.3h0M634 417h0M603.2 416.4h0M636 417.9h0M674.2 415.6h0M620.5 416.9h0M663.8 415.4h0M546 414.5h0M653 416.3h0M631.5 416.8h0M665.6 415.4h0M583 409.9h0M590.7 414.9h0M574.4 416.8h0M663.2 415.5h0M543 414.8h0M587 415.2h0M569.8 416.3h0M639 418.2h0M553.7 416.4h0M528 415.7h0M617 415.3h0M556.3 417.1h0M607.4 416.3h0M614 417.4h0M628.9 415.2h0M648 415h0M607.9 415.6h0M655.1 415.7h0M611.7 416.9h0M568.1 417.3h0M647.8 417.4h0M638.6 416h0M671.8 415.9h0M673.1 417.3h0M601 413.6h0M572.2 415.3h0M579.1 412.5h0M524.9 416.7h0M593.3 413.6h0M585.6 409.3h0M628.9 416h0M623.4 416.9h0M555.9 418.2h0M567.1 415.8h0M659.1 415.2h0M602.6 412.4h0M595.1 410.2h0M587.1 408.8h0M675.2 416.9h0M550.7 415.8h0M605.7 415.7h0M525.3 416.7h0M589.7 412h0M656 416h0M636.6 415.4h0M638.8 416.2h0M638.4 415.8h0M623.6 416.4h0M586.8 409.9h0M621.3 415.3h0M644 415.6h0M641.7 415.1h0M617 416.5h0M565.1 416.4h0M657.9 415.8h0M548 414.8h0M598.6 413.2h0M531.7 416.7h0M638.2 416.4h0M578.9 411.9h0M527.8 416h0M668.9 416.6h0M586 409.8h0M616.9 417h0M556.4 416h0M565.8 417.7h0M651.3 416.4h0M580.9 411.9h0M637 417.2h0M624.3 416.4h0M648.9 416.8h0M617.7 416.9h0M610.2 417.2h0M645.1 415.7h0M575 416.1h0M671.6 416h0M653.3 418h0M661.8 416h0M573 415.6h0M640.8 415.3h0M553.7 416h0M550 414.5h0M592.4 409.1h0M635.7 416.2h0M564.7 416.6h0M545.9 416.9h0M633.8 417h0M639.2 416.9h0M634.2 416.3h0M571.3 417.1h0M585.3 411.5h0M540 417h0M533.2 416.4h0M660.2 416.9h0M530.1 415.9h0M648.9 415.1h0M618.2 416.6h0M652.4 417.6h0M630.3 417.6h0M585.7 411.4h0M582.4 415h0M560.1 415.8h0M595.3 411.8h0M557.1 416.5h0M575.1 414.4h0M663.3 415.4h0M531.9 416.2h0M655.4 416.7h0M583.2 411.3h0M664.7 416.6h0M658.8 415.3h0M548 414.6h0M527.1 417.2h0M626 417.7h0M582.6 415.5h0M595.3 410.2h0M662.8 417.9h0M534.1 415.8h0M531.3 417.1h0M542.7 417.2h0M529 415.7h0M638.2 415.7h0M653.6 416.2h0M584.2 410.7h0M672.5 415.9h0M561.8 417.7h0M667.2 416.6h0M578.1 412.6h0M610.1 416h0M534.1 416.8h0M587.7 413.9h0M658.8 416.2h0M625.7 415.8h0M638 415.6h0M639.4 416.9h0M673.5 417.2h0M664.7 415.6h0M654.6 417.8h0M538.7 415.6h0M596.3 413.5h0M674.8 417.9h0M605.7 415.4h0M544.3 415.6h0M632.6 416.2h0M528.6 416h0M538.6 415.7h0M537.9 417.9h0M583.3 410.2h0M572.5 417h0M645.8 415.7h0M655.1 416.8h0M589.5 413.6h0M609.7 416.5h0M576.4 412.9h0M670.4 416.6h0M540.8 415.2h0M593.1 408.8h0M634.4 416h0M631.6 416.7h0M661.4 415.4h0M569.2 416.9h0M581.2 411.8h0M539.6 416.5h0M612.4 418h0M648.9 415.8h0M572.6 416.2h0M578.5 414.2h0M638.8 416.2h0M604.9 416.7h0M664.1 416.8h0M574.7 417.3h0M674 416.3h0M663.8 415.5h0M672.5 415.5h0M665.7 415.6h0M646.8 417.3h0M604.6 414.6h0M675.9 416h0M631.9 416.4h0M579.9 409.6h0M622.8 416.7h0M595.6 409.4h0M605.8 416.7h0M547.4 415.2h0M610.5 415.3h0M552.9 416.6h0M635.7 417.8h0M539.9 415.8h0M565.3 417.7h0M564.7 416.4h0M605 417.2h0M535.9 415.8h0M622.8 417.3h0M656.1 418h0M580.9 409.7h0M633 417.2h0M660.5 415.8h0M656.6 415.2h0M589.6 409.7h0M607.7 414.2h0M646.4 415.7h0M648.8 415h0M563.9 417.2h0M638.5 415.5h0M603.1 414.6h0M586.3 408.2h0M646.1 416.1h0M530.9 415.8h0M594.6 414.9h0M570.4 414.5h0M525.7 417.5h0M570.9 413.9h0M638.5 415.1h0M607.5 415.2h0M608.8 415.6h0M607.4 414.5h0M670 417h0M620.7 416.8h0M570.8 415.2h0M614.1 416.9h0M673.5 417.2h0M621.8 415.2h0M636.9 416h0M580.9 412.8h0M667.4 416.2h0M626.8 414.8h0M665.7 415.7h0M583.2 412.2h0M646 416.6h0M638.9 416.2h0M576.1 414.6h0M542.6 415.8h0M588 417.2h0M551 416.9h0M655.5 416.1h0M568.5 414.3h0M564.1 416.5h0M637.4 415.7h0M590.8 409.6h0M598.8 411.9h0M599.6 411h0M633.9 417.7h0M544.5 413.8h0M559.7 418h0M563.4 416.4h0M669.8 417h0M635 415.9h0M538.4 416.1h0M676.5 416.5h0M606.2 415.9h0M668.9 416.2h0M540.5 415.6h0M588.7 409.2h0M542.9 416.2h0M567.3 416.1h0M645.6 415.6h0M644.6 416.1h0M538.1 416.6h0M626.6 416.5h0M602.1 412.5h0M542.5 414h0M540.9 416h0M662.7 417.2h0M604.1 415.1h0M660 414.8h0M568.8 415.6h0M661.1 416h0M557.5 416.6h0M576.1 414.4h0M526.1 415.1h0M624.9 415.8h0M672.3 416.9h0M607.1 415.6h0M640.5 415.3h0M559.6 417.1h0M632.4 417h0M544.6 416.6h0M610.2 415.9h0M671 416.5h0M617.5 417.3h0M587.8 412.8h0M630.7 417h0M557.5 417.2h0M596.5 413.8h0M617.1 417.1h0M658.8 415.5h0M606.2 417.5h0M574.5 414.3h0M623 415.9h0M660.6 416.6h0M600 414.6h0M544.3 416.9h0M563.9 417.6h0M606.9 414.7h0M610.6 415.8h0M559.3 417.3h0M611.2 415.7h0M589.1 417.9h0M527.9 416.6h0M618.5 417.6h0M559 416.4h0M674.8 416.8h0M616.4 416h0M528.3 416.6h0M546 416.4h0M642.1 415.4h0M531.1 417.7h0M635.2 417.6h0M573.1 416.3h0M532.4 418h0M546 415.8h0M667 416.5h0M561.7 415.9h0M566.5 416.3h0M573.8 413.7h0M578.5 411.3h0M622.5 415.7h0M617.1 415.2h0M586.5 409.6h0M619.3 416.3h0M610.8 416.2h0M584.8 408.7h0M621.2 416.1h0M533 416.6h0M551.5 417.1h0M591 411.3h0M562.9 416.9h0M605.5 415.2h0M586.2 415.5h0M581.7 410.9h0M607.7 415.4h0M653.3 416.1h0M629.1 417.9h0M571.7 414.7h0M548.5 414.6h0M546.4 414.4h0M557.7 416.5h0M654 416.9h0M660.1 417.1h0M654.1 416.7h0M591.8 415.6h0M616.3 416.8h0M626.4 415.3h0M616.7 418.1h0M669.8 416.1h0M622.7 416.7h0M610.4 415.3h0M594.8 410.4h0M616 416.4h0M667 416.9h0M617.1 417.7h0M596.5 417.1h0M632 418.3h0M531.2 417.6h0M546.1 415.4h0M579.1 414.5h0M674.6 415.5h0M624.5 416.2h0M649.6 416.9h0M647.9 416.9h0M610.4 416.6h0M549 414.9h0M664.4 416.8h0M658.8 416.4h0M624.9 415.6h0M642.4 417.7h0M591 412.7h0M569.6 414.3h0M592 410.4h0M621.5 416.2h0M533.3 416.2h0M660.6 417.1h0M622.7 416.5h0M576.7 413h0M673.3 418h0M661.5 416.5h0M651.8 417.4h0M633.9 417.7h0M575.9 412.5h0M624.8 416.1h0M595.1 412.5h0M599.8 412.1h0M634.9 417.3h0M591.9 411.5h0M611.8 415.9h0M652.7 417.5h0M582.1 415.8h0M528.8 417.6h0M552.7 415.9h0M626.4 415.2h0M568.7 416.9h0M672.8 415.4h0M669 418.1h0M585.2 410.4h0M636.9 415.3h0M606.7 415.8h0M525.6 415.7h0M674.4 415.4h0M625.7 416.7h0M561.2 415.7h0M667.3 416.1h0M551.6 416.2h0M602.9 414.8h0M645.8 415.4h0M635.2 416.1h0M630 415.8h0M606.5 416.4h0M643.5 417.4h0M622.9 416.8h0M610.1 415.7h0M597.7 410.1h0M561.2 418.1h0M670.3 417.1h0M567.2 416.3h0M615.4 415.5h0M632.6 417.2h0M606.2 415.5h0M601.2 414.4h0M550.3 416.2h0M584.1 414.5h0M649.2 416.5h0M547.9 415.5h0M653.5 416h0M619.5 415.8h0M576 416.4h0M563.6 416.8h0M567.3 416.1h0M547.5 417.2h0M563.3 417.2h0M646.9 416h0M555 416.3h0M657.6 415.8h0M609.2 416.1h0M554.6 415.8h0M536.6 415.9h0M533.6 416h0M583.1 410.6h0M614.8 417.6h0M606.8 417.4h0M561.5 416.6h0M568.3 415.2h0M675.1 416.8h0M652.5 417.3h0M632.8 417.1h0M606.3 417.2h0M650.8 417.1h0M595.4 414h0M648.2 415.8h0M618.5 415.7h0M563.6 417.8h0M651 416.9h0M648.5 415.1h0M620.6 417.5h0M654.9 416h0M562.3 417.1h0M602.1 416.6h0M662.8 416h0M649.6 416.5h0M665.4 417.4h0M633.9 417.2h0M525.4 417.5h0M555.5 415.7h0M582.4 412.1h0M618.2 416.9h0M622 415.9h0M665.1 416.3h0M655.1 415.4h0M641.9 416.2h0M566.2 417.6h0M651.4 417.5h0M610 416.2h0M531.6 417.3h0M650.1 416.1h0M665.6 415.5h0M539.1 415.8h0M531.3 416.8h0M592.1 408.8h0M615.5 417.3h0M602.4 414.2h0M554.8 416.5h0M658.4 414.8h0M643.1 417.7h0M662.8 416.5h0M651.8 417.4h0M547.3 414.7h0M568.3 417.7h0M601.1 411.8h0M652 416.8h0M676 416h0M653 416.3h0M584.9 408.7h0M596.5 409.9h0M608.9 414.5h0M597.5 413.3h0M614.5 417.2h0M547.6 415.5h0M654.4 417h0M656.5 415.4h0M642.9 416.3h0M676.9 416.1h0M612.5 417.7h0M612.2 418.1h0M662.2 416.7h0M580.9 411.6h0M621.9 416.1h0M598.7 412.3h0M653.8 416.6h0M601 412.5h0M525.3 417.4h0M574.3 416.3h0M661.3 417.3h0M541.2 416.1h0M602.3 412.9h0M676.4 416h0M617.5 417.8h0M534.5 416.1h0M649.7 416.9h0M672.4 416.1h0M612.2 416.6h0M536.2 417.3h0M667.4 417.3h0M537.5 417h0M635.4 417.1h0M556.9 417.3h0M598 411.5h0M570.7 414h0M673.4 415.4h0M536.3 416.9h0M665.8 415.7h0M545.1 415.3h0M580.2 410.5h0M529.2 416.6h0M639 415.3h0M531 416.3h0M625.9 415.4h0M589.5 407.5h0M554.9 417.4h0M544.6 414.9h0M543.5 416.2h0M554.7 417.7h0M671.4 416.9h0M671.6 416h0M558.3 416.2h0M526.2 415h0M529.7 416.9h0M608.9 418.1h0M641.3 417.5h0M649.2 417.9h0M605.2 416.4h0M568.8 415.6h0M581.4 412.9h0M624.3 417.4h0M552.5 416.1h0M570 413.8h0M589.7 411.4h0M528.3 418h0M540.8 415.3h0M626 415.1h0M590.7 410h0M577.1 416.9h0M588.8 409h0M647.3 415h0M651.5 416.4h0M608.6 415.6h0M597.5 411.7h0M612.5 416.2h0M593.3 412.3h0M651.5 416.1h0M604.7 414.6h0M647.5 415.7h0M564.3 417h0M616.9 417.8h0M594.5 409.7h0M560.2 416.6h0M631.3 415.9h0M630.8 416.2h0M583.3 412.4h0M622.6 416.8h0M644.3 418.1h0M639.2 415.6h0M571.5 417.9h0M576.3 413.8h0M644.6 415.8h0M556.6 417.8h0M543.1 413.6h0M623.1 417.5h0M630 415.2h0M617.3 416.9h0M671.4 416.1h0M552.7 415.9h0M601.6 413.7h0M580.5 413.8h0M588.8 410.5h0M595.1 410h0M536.1 417.2h0M667.6 416.7h0M618.8 416h0M561.9 416.5h0M556.8 417.6h0M675.5 416h0M658.7 418.2h0M632.1 417.2h0M600.6 412.9h0M529.6 416.5h0M609.2 414.8h0M603 415.4h0M616.8 415.8h0M569.3 415.3h0M566.9 418.1h0M572.1 417.3h0M599.7 413.4h0M657.3 415.4h0M638.9 415.1h0M565.1 417h0M559.9 417.6h0M603.3 414.5h0M544.6 413.9h0M673.8 417.7h0M525.3 417.8h0M636.2 415.6h0M534.9 418.1h0M606.7 416h0M527.7 418.1h0M557 417.5h0M569.8 415.1h0M563.1 417h0M556.9 416.2h0M561.1 416.2h0M593.7 413.5h0M586.8 417.4h0M553 416.1h0M640.8 416.9h0M551.7 415.6h0M539.7 415.3h0M658.5 417.2h0M651.7 417.4h0M531.4 417.1h0M577.2 413.2h0M592.2 409.8h0M626 417.4h0M555.6 415.8h0M542.5 413.7h0M648.4 417h0M568.4 416.6h0M589.2 413.4h0M529.7 416.9h0M554.5 416.6h0M594 409.7h0M625.2 416.2h0M656.5 416.4h0M589.7 413.6h0M651.2 415.7h0M663.5 416.2h0M542.1 417.3h0M646.3 415.4h0M605.9 413.8h0M666.6 416.1h0M581.2 412.3h0M578.4 413.8h0M596.6 417.5h0M544.2 416.7h0M611.1 415.7h0M633.1 417.6h0M594.5 411.3h0M545.4 417.3h0M618 417h0M623 417.4h0M655.1 416.8h0M590 410.9h0M659.8 415h0M653.5 416.2h0M535.3 417.3h0M606.2 413.8h0M635.4 417.3h0M579 410.1h0M602.1 412.6h0M655.5 415.6h0M620.3 415.9h0M576.9 416.4h0M669.3 418h0M566.1 416.2h0M671.8 417.2h0M562.4 415.4h0M574.6 415.3h0M579.6 416.9h0M668.2 416.7h0M525.9 417.5h0M545.4 415.7h0M660.4 417.2h0M559.5 417h0M602.6 412.7h0M607 414.2h0M607.3 415.7h0M657.5 415.8h0M597.1 412.6h0M579 413.3h0M536.1 417.2h0M641 417.3h0M556.5 417.5h0M580.1 416.8h0M579.7 411.7h0M628.1 415h0M538.1 416.1h0M554.7 416.6h0M612.4 416.3h0M626.9 414.6h0M527.5 416.6h0M598 417.2h0M532.8 416.9h0M610 417.3h0M535.2 416.9h0M637.7 416h0M676.6 416.4h0M660.4 415.8h0M598 413.5h0M535.7 417.8h0M625.1 415.8h0M527.7 417.1h0M574.7 415.7h0M651.8 417.1h0M571.4 415.3h0M669.6 417.2h0M621.3 417.8h0M590.5 408.4h0M557.9 417.2h0M624.4 416.6h0M612.5 416.6h0M627.7 416.4h0M578.4 413.8h0M604.4 414.5h0M657.9 416.3h0M593.2 409.8h0M672.7 416.9h0M636 417h0M637.7 417.8h0M602 413.9h0M631.3 415.9h0M645.9 416.2h0M600.5 417.8h0M609 415.5h0M637.8 417.2h0M614.5 417.9h0M635.4 415.8h0M591.5 410.4h0M625.7 416.8h0M538.2 415.8h0M579.2 415.5h0M592.2 409.5h0M670.1 416.6h0M672.5 417.2h0M599.5 417.9h0M560.4 415.7h0M533.9 416.2h0M602.4 412.3h0M676.1 417.6h0M564.7 415.8h0M575.1 416.4h0M663.7 416.1h0M571.7 415.1h0M589.9 411.6h0M608.9 416.9h0M618.6 415.3h0M615 416.1h0M567.8 417.1h0M525.8 415.3h0M542.9 415.7h0M624.5 416.3h0M618.9 416.5h0M648.9 416.3h0M652 417.8h0M634.8 417.7h0M583.8 412.2h0M552.5 416.6h0M654.7 417.9h0M554.3 415.1h0M593.3 412.9h0M663.8 415.8h0M551.2 416.1h0M552.3 415.9h0M609.5 415.1h0M534.7 415.6h0M559.8 415.9h0M592.1 409.2h0M540.3 417.6h0M596.1 409.8h0M595.7 412.3h0M549.8 415.5h0M589.9 408.3h0M637.6 416.2h0M547.5 417.1h0M672.7 415.9h0M559.1 416.1h0M557.7 417h0M658.4 417.4h0M540.5 417.6h0M547.9 416.1h0M573.8 416.1h0M527 416h0M592.6 410.2h0M571 414.9h0M572.5 414.6h0M551.3 416.3h0M592.7 412.3h0M606.8 415.2h0M573 414.4h0M669.7 416.7h0M621.6 415.7h0M573.5 414.9h0M595.3 412.4h0M584.8 411.3h0M558 417.4h0M555.3 416h0M562.2 415.6h0M662.7 415.8h0M574.8 413.3h0M577.2 414.5h0M615.5 416.1h0M587.1 408.5h0M654.8 416.9h0M559 416.9h0M631.2 416.3h0M551.6 416.6h0M662.1 415.4h0M616.8 415.4h0M652.7 417.3h0M534.8 416.2h0M583.4 410.4h0M569.5 415.6h0M647.9 417.5h0M586.9 414.7h0M606.1 414.5h0M675.1 415.9h0M546.8 415.9h0M607.4 415h0M631.5 416h0M668.3 417.5h0M548.9 414.4h0M549.3 414.3h0M543.1 414.9h0M544.6 416.9h0M575.6 413.4h0M631.8 417.2h0M545.7 415.8h0M551.3 417h0M600.5 413.8h0M665.3 417.6h0M606 415h0M546.6 416.1h0M545.8 414.1h0M577.9 416.8h0M597.2 412.5h0M659.9 415.4h0M556.2 415.8h0M525.6 415.9h0M531.2 416h0M553.7 415.6h0M648.7 415.5h0M541.6 415.7h0M540.8 415h0M676.2 416.5h0M624.1 416.5h0M546.5 416h0M577.9 411.9h0M587.5 412h0M608.4 416.7h0M534.8 417.1h0M528 415.6h0M594.4 411.4h0M611.3 417.8h0M648.9 415.4h0M526 416.4h0M644.5 416.6h0M655.7 415.8h0M625.4 415.5h0M643.4 416h0M532 416.8h0M629.7 416h0M613.9 417.2h0M652.9 417.2h0M622.2 416.5h0M547.5 417.9h0M544.6 416.1h0M596.7 417.3h0M535 415.8h0M674.1 416.4h0M596.4 411.8h0M539.6 416h0M627.5 414.7h0M622.8 416.4h0M587.3 407.5h0M604.5 414.9h0M636.6 416.4h0M535.1 416.2h0M656.7 416.5h0M539.5 417.4h0M662.8 417.5h0M624.4 417.7h0M602.8 412.7h0M560.5 416.9h0M617.9 416h0M610.2 416.4h0M531 416.3h0M567 415.8h0M591.5 413.8h0M676.5 417h0M672.7 416.2h0M606.1 416.2h0M551.3 415.8h0M594.2 411.6h0M552.6 416.4h0M625.1 416h0M626.3 416.3h0M629.2 415.7h0M597.5 412h0M571.5 417.4h0M547.3 414.6h0M660.8 415.3h0M564.3 415.9h0M645 416.4h0M571 417.1h0M676.8 415.8h0M654.4 416.5h0M635.9 415.5h0M607.3 417.1h0M673.5 416h0M642 415.6h0M534.7 416.5h0M526.6 416.7h0M671.2 416.2h0M611 417.5h0M629.2 415.7h0M621.9 415.9h0M666.1 416.6h0M617.9 416.1h0M614.5 416.5h0M553.4 417.8h0M542.5 417.6h0M609.3 416.5h0M644.3 417.3h0M547.7 414.8h0M538.5 416.7h0M629.9 416h0M565.4 417.6h0M612.8 417.3h0M655.2 416.9h0M666.9 418.1h0M617.8 416.8h0M597.1 413.1h0M648 417.1h0M641.7 417.8h0M621.8 415.6h0M590.2 408.8h0M578.8 413.9h0M663.5 415.4h0M645 417.2h0M668.3 417.2h0M656.9 416.6h0M558 417.4h0M630 415.2h0M604.1 416.9h0M629.1 415h0M643.8 418.2h0M572.4 414.5h0M631.6 416h0M661.6 415.5h0M629.8 416.5h0M530.1 415.7h0M594.4 409.8h0M544.9 414h0M623.1 415.8h0M631.6 416.9h0M603.4 416.9h0M561.7 416.1h0M551.9 416.8h0M622.8 416.3h0M660.9 416.3h0M609.1 416h0M639.8 415.8h0M668.8 417.6h0M544.2 416.1h0M618.7 416h0M555.5 416.9h0M615.5 417h0M651.2 417.6h0M644 417.3h0M633.6 416.2h0M668.5 416.3h0M528.5 415.7h0M663.5 415.8h0M594 410.4h0M568.1 414.9h0M586.7 407.4h0M529.1 415.9h0M544.6 414.3h0M672.6 416.2h0M652.9 417.2h0M529.1 415.4h0M587.3 415.7h0M627.3 414.8h0M537.6 416.2h0M577.7 417.2h0M536 417.9h0M571.5 416h0M606.7 414.9h0M654.3 415.7h0M550.9 415.8h0M658.3 416.8h0M616.6 414.9h0M621.4 415.8h0M572.1 413.8h0M651.4 416.9h0M570.8 418.1h0M598.1 410.8h0M644.3 417.4h0M561.6 417.3h0M564.3 417.3h0M549.9 415.5h0M664 415.6h0M619.4 416.8h0M663.1 417.2h0M530.7 417.2h0M645.1 416h0M572.1 416.5h0M621.9 416.3h0M645.7 416.5h0M537.5 417.7h0M560 416.4h0M633.7 416.6h0M526.3 415.1h0M594.6 411.9h0M554.1 417h0M557.4 416.9h0M663.2 417h0M578 414.7h0M529.2 418.1h0M643.7 415.2h0M531.3 417.7h0M593.7 413.7h0M562.4 415.3h0M554.2 417.1h0M662.8 416.1h0M629.3 415.5h0M528.7 415h0M529.2 416.9h0M597.2 410.7h0M669.4 418.2h0M545.9 417.9h0M545.7 414h0M537.7 416.3h0M554.5 418.1h0M567.4 416.7h0M607.5 414.3h0M605.5 415h0M567.3 417.1h0M597.8 413.6h0M662.1 417.1h0M528.7 417.7h0M573.1 416.5h0M585.3 408.7h0M635.7 416.2h0M651.5 415.7h0M534.7 416h0M544.8 415.5h0M584.1 413.7h0M531.6 417.4h0M632.4 416.1h0M663.3 418h0M611.5 417.3h0M604.1 414.6h0M549.5 417.4h0M598 416.9h0M652.9 415.9h0M527.1 415.3h0M652.5 417.9h0M614.2 416.9h0M551.5 415.7h0M611 415.7h0M667.2 416.1h0M625.7 415.4h0M534.5 416.8h0M597.1 412.6h0M580.8 409.9h0M613.5 416.4h0M592.3 408.9h0M579 410h0M611.1 416.7h0M619.3 417.5h0M629.4 415.7h0M647.4 417.6h0M588.7 409.9h0M534.1 415.9h0M661.9 416h0M641.2 414.9h0M594 412.1h0M660.1 415.5h0M566.9 415.9h0M641.7 415.1h0M544.6 416.7h0M629.5 415.5h0M635.9 416.4h0M583.2 408.9h0M563.6 416.9h0M528.6 417.5h0M620 415.9h0M558.1 416.5h0M550.8 416.5h0M621.8 415.6h0M593.8 410h0M596.7 411.5h0M651.7 416.4h0M610.5 415.2h0M530 418h0M530.4 416.9h0M606.7 415h0M628.6 418h0M657.9 416.8h0M672.1 416.7h0M653.5 416.1h0M528.3 416h0M584.8 408.2h0M560.1 416.7h0M551.3 418.2h0M606.8 415h0M549.6 414.6h0M558.6 416.1h0M627.4 414.7h0M591.5 409.4h0M617 415.5h0M587.3 410.6h0M566.2 416.8h0M665.8 417.7h0M651.5 416h0M549.5 415.8h0M652 416.5h0M602.1 414.2h0M551 415.1h0M638.8 416.8h0M577.7 412.3h0M657.3 415.9h0M568.4 416.1h0M607.8 414.4h0M632 417.4h0M527.9 415.6h0M564.9 416h0M549.2 414.3h0M646.8 416.9h0M527.2 415.2h0M541.6 416.8h0M583.3 414.9h0M539.3 416.1h0M624.5 416.2h0M533.6 417.8h0M596.7 411.1h0M556.5 416.5h0M541.6 414.1h0M657.8 414.9h0M584.1 416.1h0M649.3 416.3h0M578 413.7h0M632.8 416.4h0M591.2 413.8h0M547.8 417.6h0M671.3 415.6h0M535.1 416.2h0M673 415.9h0M672.6 417.3h0M634.4 416h0M542.3 416.5h0M669 417.4h0M618.7 415.4h0M633.1 416.3h0M570.4 414h0M545.9 415.7h0M599.3 412.2h0M530 417.7h0M580.9 415.2h0M663.3 416.5h0M614.5 416.9h0M655.7 415.3h0M661.9 417.6h0M617.8 415.5h0M664.5 416.2h0M596.4 415.2h0M526.1 418h0M567.2 415.5h0M586.1 410.9h0M566.1 415.5h0M665 417h0M583.3 415.8h0M585 413.9h0M635.5 416.9h0M629.3 417.9h0M632.4 416.6h0M569 414.7h0M656.4 415.2h0M630.6 416.5h0M613.9 416.6h0M572.9 414.3h0M644.6 416.1h0M640.4 417.7h0M648.6 416.3h0M629.3 415.6h0M589.3 409.1h0M655.4 415.2h0M527.5 415h0M642.8 415.8h0M640.9 416.5h0M586.4 416.7h0M666.2 415.9h0M603.5 414.1h0M650.3 417.2h0M611.7 416.2h0M613.6 416.3h0M563.8 416.1h0M643.5 416.5h0M668 417.1h0M547.1 417h0M584.7 408.2h0M664.1 415.5h0M625.8 416.2h0M622.6 416.2h0M670.2 417h0M584.5 410h0M647.2 415.5h0M549.1 415.2h0M565.8 417.1h0M563.7 418.1h0M543 414.6h0M646 417.5h0M669 416.9h0M644 417.9h0M537 415.9h0M539.5 417.8h0M624.9 417.9h0M588 407.8h0M542.2 414h0M663.4 415.4h0M618.3 415.5h0M549.1 415.4h0M658.1 415.1h0M550.9 415.4h0M585.4 411.3h0M646.2 415.9h0M574.5 413.7h0M666.5 416.1h0M532.4 418.1h0M612.4 417.7h0M538.1 415.6h0M532.1 417.2h0M571.3 413.9h0M669 416.4h0M594.7 415.8h0M671.6 417.2h0M622.4 415.8h0M602.4 412.7h0M667.8 417.2h0M632.8 417.7h0M590.4 410.1h0M566.7 416.6h0M640.5 417h0M665.3 417.4h0M558.8 416.5h0M559.8 415.9h0M579.5 415.8h0M626.7 416.1h0M619.8 417.5h0M532.9 417.1h0M603.3 416.1h0M556.5 416.1h0M561.7 416.7h0M657.5 414.8h0M642.4 417.2h0M641.3 417.5h0M646.6 416.8h0M558.2 417h0M546.5 415h0M650.2 415.9h0M646.2 417.3h0M566.3 415.7h0M574.5 414h0M611.1 417.4h0M558.5 416.1h0M662.2 416.1h0M527.2 418h0M667.6 416.4h0M631.1 417.1h0M663.2 417.7h0M629.6 415.6h0M581.2 409.9h0M553.7 415.3h0M666.9 417h0M575 413.7h0M577.1 413.3h0M630.1 415.2h0M639.6 416.8h0M578.6 416.6h0M647.3 415.2h0M558.8 416.8h0M577.5 414.9h0M529.3 415.9h0M669.6 417.5h0M639.7 415.5h0M606.4 414.2h0M589.3 409.9h0M535.2 417.4h0M614.2 416.4h0M596.8 405.8h0M599.8 409.3h0M643.8 411.4h0M661.7 412.4h0M557.5 415.1h0M609.5 414.5h0M570.2 410.3h0M563 412.5h0M571 413.1h0M575.5 411.5h0M567 413.7h0M664.4 413h0M600.3 410.2h0M568.8 410.8h0M575.6 412.1h0M583.6 405.7h0M667.7 412.8h0M600 410.4h0M659.4 414.6h0M613.3 412.2h0M573 411.8h0M571.2 412h0M541.3 411.4h0M631.4 415.3h0M526.4 413.9h0M578.6 408.4h0M633 413.8h0M529.8 415.1h0M592.2 407.8h0M647.6 411.8h0M647 412.4h0M556.6 412.6h0M568.8 413.5h0M530.7 413.9h0M669.9 413.2h0M625.1 414h0M591.1 404.5h0M676.6 414.4h0M614.1 414.2h0M555.7 413.3h0M538.3 412h0M586.3 404.8h0M643.3 414.1h0M668.8 412.1h0M598.5 410h0M622 412.5h0M558 413h0M567.6 413.6h0M537.8 412.9h0M639.7 412.2h0M571.2 412.4h0M533 415h0M563.5 414.5h0M531.2 414h0M526.3 412.9h0M525.2 413.9h0M539.5 414.3h0M630.7 415.2h0M643.4 412.2h0M622.2 413.1h0M634.5 414.8h0M586.5 407.2h0M525.5 413.7h0M618.5 411.2h0M652.2 415.5h0M664.2 413.7h0M587.8 405.9h0M538.7 413.4h0M607.5 410.5h0M625.8 414.4h0M585.4 396.5h0M585.3 396.6h0M585.2 399h0M585.1 395.4h0M585.3 394.7h0M585.5 397.9h0M585.1 399h0M585.3 396.6h0M585.4 398.3h0M585.6 395.6h0M587.8 389.4h0M587.5 390.5h0M588.1 389.9h0M587.5 390.9h0M586.5 392.7h0M588.6 389.8h0M585.6 394h0M588.3 391.1h0M586.7 391.2h0M587.3 391h0M587 392h0M587.7 391.4h0M587.4 391.3h0M588.7 389.6h0M588.5 389.6h0M589.3 390.9h0M588.1 389.9h0M591.2 391.3h0M591.3 391.2h0M589.7 391.4h0M588.8 390.5h0M587.9 389.4h0M588 389.6h0M588.4 391h0M589 390.7h0M588.7 391h0M595 388.1h0M595.5 388.4h0M595.3 388.8h0M594.7 389.2h0M598 388.7h0M597.8 388.6h0M594.6 388.7h0M596.8 388.3h0M596.5 388.8h0M597.5 388h0M597.8 388.2h0M596.8 388.2h0M599.9 388.1h0M599.4 388.7h0M597.3 388.4h0M595.2 388.2h0M600.3 389.9h0M600.3 390.7h0M599.8 390.1h0M602 393.9h0M599.8 390.5h0M600.3 390.6h0M601.7 393.1h0M599 389.5h0M602.5 394.6h0M600.5 391.8h0M601.2 391.7h0M601.2 391.6h0M598.6 389.8h0M601.7 391.9h0M599.5 389.3h0M602.2 393.7h0M594.4 395.8h0M593.6 398.5h0M598.5 398.5h0M602.3 398.5h0M602.6 398.1h0M589.5 403.6h0M594.7 403.1h0M596.3 402.9h0M598.5 403.1h0M603.8 404h0M604.9 405h0M603 402.2h0M624.1 404.5h0M621.8 408.9h0M625.6 408.9h0M627.8 408.9h0M530.1 409.6h0M633.1 408.6h0M656.4 407.7h0M653.4 409.6h0M649.6 410.5h0M595.1 405.9h0M598.4 405.8h0M593.8 403.4h0M599.6 406.6h0M593.5 406.4h0M600.5 403.4h0M594.5 407.6h0M600.6 406.8h0M598.5 403.5h0M599.5 404.2h0M597.9 404.2h0M595 403.6h0M594.8 408h0M599 403.2h0M599 405.2h0M593.9 405.7h0M594.6 405.7h0M596.3 407.9h0" stroke="#7c8885" stroke-width="2.5" stroke-linecap="round" fill="none"/><line x1="600.5" x2="600.5" y1="385.4" y2="419.5" stroke="#f02020" stroke-width="0.9"/><line x1="516.7" x2="516.7" y1="385.4" y2="419.5" stroke="#111" stroke-width="1.4"/><line x1="513.2" x2="516.7" y1="418.3" y2="418.3" stroke="#222" stroke-width="1"/><text x="510.6" y="420.8" font-size="6.9" fill="#4d4d4d" text-anchor="end">0</text><line x1="513.2" x2="516.7" y1="409.1" y2="409.1" stroke="#222" stroke-width="1"/><text x="510.6" y="411.6" font-size="6.9" fill="#4d4d4d" text-anchor="end">2</text><line x1="513.2" x2="516.7" y1="399.9" y2="399.9" stroke="#222" stroke-width="1"/><text x="510.6" y="402.4" font-size="6.9" fill="#4d4d4d" text-anchor="end">4</text><line x1="513.2" x2="516.7" y1="390.7" y2="390.7" stroke="#222" stroke-width="1"/><text x="510.6" y="393.1" font-size="6.9" fill="#4d4d4d" text-anchor="end">6</text><line x1="539.1" x2="539.1" y1="420.3" y2="423" stroke="#1a1a1a" stroke-width="1.45"/><text x="539.1" y="431.3" font-size="6.9" fill="#4d4d4d" text-anchor="middle">26.5</text><line x1="576.7" x2="576.7" y1="420.3" y2="423" stroke="#1a1a1a" stroke-width="1.45"/><text x="576.7" y="431.3" font-size="6.9" fill="#4d4d4d" text-anchor="middle">27.0</text><line x1="614.3" x2="614.3" y1="420.3" y2="423" stroke="#1a1a1a" stroke-width="1.45"/><text x="614.3" y="431.3" font-size="6.9" fill="#4d4d4d" text-anchor="middle">27.5</text><line x1="651.9" x2="651.9" y1="420.3" y2="423" stroke="#1a1a1a" stroke-width="1.45"/><text x="651.9" y="431.3" font-size="6.9" fill="#4d4d4d" text-anchor="middle">28.0</text><text x="639.7" y="390.2" font-size="6.8" font-weight="bold">mRNA</text><text transform="translate(492.4 402.4) rotate(-90)" font-size="8.8" fill="#1a1a1a" text-anchor="middle">&#8722;log<tspan font-size="6" dy="1.8">10</tspan><tspan dy="-1.8" font-size="10.5">(</tspan>p<tspan font-size="10.5">)</tspan></text><line x1="517.5" x2="685" y1="473.1" y2="473.1" stroke="#e6e6e6" stroke-width="0.9"/><line x1="517.5" x2="685" y1="469.5" y2="469.5" stroke="#e6e6e6" stroke-width="0.9"/><line x1="517.5" x2="685" y1="466" y2="466" stroke="#e6e6e6" stroke-width="0.9"/><line x1="517.5" x2="685" y1="462.4" y2="462.4" stroke="#e6e6e6" stroke-width="0.9"/><line x1="517.5" x2="685" y1="458.8" y2="458.8" stroke="#e6e6e6" stroke-width="0.9"/><line x1="517.5" x2="685" y1="455.2" y2="455.2" stroke="#e6e6e6" stroke-width="0.9"/><line x1="517.5" x2="685" y1="451.7" y2="451.7" stroke="#e6e6e6" stroke-width="0.9"/><line x1="517.5" x2="685" y1="448.1" y2="448.1" stroke="#e6e6e6" stroke-width="0.9"/><line x1="517.5" x2="685" y1="444.5" y2="444.5" stroke="#e6e6e6" stroke-width="0.9"/><path d="M598.9 471.3h0M574.3 469.9h0M550.1 469.7h0M565.6 469.3h0M572 469.7h0M632.4 471.2h0M603.7 470.3h0M614.3 471.7h0M556.5 470.8h0M667.1 470.5h0M536.3 469.7h0M635.4 469.8h0M554 470.3h0M533.8 470.2h0M566.4 471.5h0M658.1 472.3h0M604.4 469.9h0M562.1 471.5h0M658.9 471.2h0M634 472.7h0M580 471.3h0M627.3 472.4h0M670.2 472.8h0M635.9 472.8h0M563.7 469.5h0M548.7 471.8h0M630.1 471.3h0M531.4 471.9h0M547.9 472.6h0M577.2 470.1h0M637.9 472.2h0M576.2 472.6h0M593.1 467.6h0M637.5 469.9h0M639.9 470.7h0M632.2 471.3h0M559.2 470.2h0M573 472.2h0M593 467.2h0M544.2 470.5h0M584.7 468.8h0M546.7 469.5h0M564.3 470.1h0M588.7 472.4h0M609.8 472h0M533.5 472.6h0M549.4 472.2h0M621.5 470.9h0M674.6 469.9h0M676.3 471.7h0M592.5 470.2h0M614.8 470.9h0M646.7 470.6h0M563.9 470.6h0M604.9 473h0M530.2 472.4h0M541.7 470.3h0M561.5 472.1h0M552.5 471.8h0M557.9 470.7h0M595.5 470.3h0M622.5 471.8h0M662.9 470.3h0M635.8 471h0M602.7 470.3h0M532.6 471.1h0M604.8 471.8h0M539.1 469.8h0M580.6 469.4h0M665.1 470.6h0M568.9 469.6h0M581.5 472.6h0M629.2 472.3h0M571.4 470h0M627.2 472.8h0M593.6 469.4h0M598.8 471.3h0M614.5 472.5h0M568.1 471.1h0M667.2 472.4h0M639.8 472.1h0M611.8 471.3h0M595.4 468.3h0M585 471.3h0M543.4 472.3h0M654.3 470.6h0M671 470.7h0M528.6 472h0M643.2 470.4h0M600.6 470.7h0M594.4 467.9h0M565.8 470.4h0M597.5 468.3h0M647.3 470.3h0M652.1 471.7h0M560.1 470.6h0M564.3 470.6h0M628.2 470h0M614 470.8h0M539.4 471.1h0M676.7 472h0M588.3 471.5h0M537.9 469.5h0M675.4 470.5h0M544.4 471.3h0M560.1 470.1h0M628.5 471.1h0M604.6 472.2h0M607.2 469.8h0M639.9 472.5h0M603.5 470.1h0M564 469.3h0M595 468.4h0M586.4 466.1h0M644 470.8h0M546.9 470.8h0M529.3 472.2h0M659.1 472h0M602.5 470.5h0M586.5 467.3h0M667.4 470.3h0M596.8 468.1h0M575.2 469.7h0M625.1 470.2h0M654.6 471.7h0M619.4 471.2h0M626.4 469.8h0M621.5 472.9h0M595.6 468.6h0M659.3 470.6h0M649.1 472.8h0M668.4 470.3h0M617.2 469.9h0M659.5 472.3h0M649 470.6h0M555.2 470.2h0M614.1 472.1h0M647.3 472.2h0M618.1 471.1h0M563.4 470.2h0M595.9 471h0M672 472.5h0M525.3 471.7h0M652.3 470.8h0M639.7 471.4h0M627.6 471.4h0M565.5 470.4h0M529 472.8h0M639.6 472.2h0M639.1 470.7h0M586.4 467.5h0M644.7 470.1h0M545.4 471.9h0M582.9 469.4h0M569.7 472.9h0M609.7 469.7h0M580.6 469.3h0M583 469.5h0M657.4 471.6h0M623.7 470.9h0M606.8 469.8h0M536.5 469.7h0M571.1 470.5h0M646 470.7h0M584.7 467.3h0M539 470.2h0M584.4 468.8h0M654.4 470.2h0M620.6 471.5h0M560.3 470.7h0M560.2 471.3h0M670.7 472.3h0M649.5 471.4h0M580.3 470.4h0M536.6 470.7h0M550.2 470.9h0M569.3 469.8h0M665.2 471h0M622.2 470h0M574.5 472.1h0M561 471.6h0M628.1 471.3h0M579 469h0M560.3 469.7h0M621.2 471.2h0M650.2 471.5h0M658.6 470.1h0M601.3 469.7h0M669.3 470.4h0M639.2 470.6h0M667.3 470.2h0M673.9 471.6h0M619.6 470.5h0M580.8 470h0M551.4 469.8h0M578.7 470.2h0M660.9 471.9h0M671.1 472.2h0M529.1 472.5h0M579.5 468.4h0M659.3 470.4h0M591.3 468.4h0M560.9 469.6h0M584.2 470.1h0M621.9 472.1h0M573 469.5h0M539.3 471.9h0M555.9 471.6h0M588.8 469.8h0M577 471.4h0M561.4 470.1h0M576 470.7h0M641.7 472.5h0M546.7 469.7h0M590.3 467h0M545 470.6h0M653.5 471.5h0M641.8 470.8h0M584.9 466.6h0M584.6 469h0M619.1 471.4h0M652.4 470.9h0M614.4 471.2h0M674.8 469.8h0M652.8 471.2h0M587.5 467.9h0M531.8 472.3h0M676.4 472.1h0M667.6 470.4h0M664.2 472.4h0M571.4 470.1h0M526.2 472.5h0M578.2 471.6h0M547.2 470.2h0M538.8 469.4h0M623.7 472.5h0M661.7 471.8h0M598.1 469.8h0M545.9 470.7h0M534 471.6h0M664.7 470.2h0M604.4 470.3h0M658.1 472.2h0M599.7 471.8h0M542.6 472.2h0M557.1 472.5h0M557.6 471.2h0M619.6 470.1h0M662.5 470.7h0M602 469.2h0M549.6 472.1h0M649.3 470.8h0M556.8 471.2h0M570.1 471h0M589.9 468.9h0M646.3 470.4h0M610.5 471h0M568.1 470h0M675.1 471.7h0M631.9 470.8h0M625 472.7h0M608.8 471.7h0M554.4 470.6h0M623 470.6h0M637.8 470.5h0M597.2 472.3h0M642.4 470.2h0M652 470.9h0M530.6 472.7h0M541.3 470.5h0M607.7 471.8h0M670.4 470.2h0M661.8 471.2h0M569.2 471.7h0M650.3 470.7h0M567 469.6h0M611.4 471.2h0M588.1 466.6h0M594.2 468.4h0M543.4 470.2h0M566.3 469.4h0M557.5 471.3h0M606.7 471.1h0M604.8 469.7h0M555.4 470.1h0M630.4 470.4h0M593 469.1h0M577.5 470.5h0M563.6 471.6h0M597.3 471.2h0M596.3 469.3h0M571.9 471.9h0M617 470h0M558.7 470.4h0M625.1 470h0M628.7 471.5h0M556.4 470h0M570.4 472.8h0M657.4 472h0M572.5 471.3h0M563.8 469.7h0M577 470.7h0M588.7 466.2h0M527.6 471.8h0M544.9 471.9h0M617.2 471.2h0M534.7 470.2h0M664.1 470.7h0M600.3 469.2h0M664.3 472.1h0M570.4 469.7h0M665.8 471.8h0M632 470.5h0M614.9 470.8h0M604.6 471.6h0M557.3 472.4h0M626.2 472.1h0M619.4 471.2h0M591.2 466.4h0M584.5 469h0M582.7 470.8h0M558.9 470.6h0M649.3 472.4h0M668.8 470.5h0M533 470.2h0M586 468.5h0M540.2 470.7h0M604 470h0M613.3 470.9h0M636.7 471.7h0M528.6 472.2h0M544.5 472h0M573.8 470.4h0M618.6 470.5h0M668.4 472.2h0M609.8 472.3h0M626.8 471.1h0M546.2 471.3h0M625.4 471h0M668.6 471.3h0M576.6 468.9h0M617.1 472.2h0M644.2 471.3h0M669.1 470.7h0M647.4 470.4h0M602.4 469.2h0M528.7 472.4h0M652.4 472.9h0M627.2 469.8h0M633.7 470.1h0M536.5 470.4h0M617.6 471h0M588.7 466.4h0M549.6 472.5h0M615.1 470.2h0M650.8 470.7h0M569.7 469.8h0M530.9 472.6h0M644.8 470.1h0M586.2 466.5h0M541.7 470.6h0M535.1 471.5h0M553.7 472.9h0M586.5 468.4h0M567.6 470.3h0M532.8 470.8h0M605.2 471.1h0M664.1 472.2h0M589.8 468.5h0M581.6 467.5h0M611.9 471h0M591.8 469h0M669.6 470.4h0M623.4 472h0M615.3 472.2h0M578.3 472.6h0M632.2 470.3h0M621.9 470.8h0M562.9 470.6h0M595.5 469.8h0M565.8 471.5h0M639.1 470.4h0M649.9 470.8h0M529.1 472.5h0M652.7 470.1h0M608.2 470.7h0M629.3 471.7h0M633.3 471.4h0M653.8 471.1h0M625.8 470.8h0M606.2 470.9h0M669.8 470.5h0M588.7 468h0M661.5 470.5h0M624.3 469.7h0M542.7 470.6h0M619.9 471h0M671.5 470.2h0M584.3 468.4h0M641.4 470.6h0M580.1 468.6h0M577.9 471.8h0M626 470.5h0M587 468.2h0M675.3 470.1h0M586.8 466.2h0M611.7 471.3h0M623.3 470.2h0M661.3 470.6h0M626.4 471.2h0M530.9 472.4h0M542.2 469.8h0M580 469.3h0M636.5 471.9h0M651.7 471.6h0M537.1 470.3h0M586.1 466.5h0M592.5 471.5h0M527.6 472.9h0M600 469.4h0M532.6 471.4h0M597.7 468.5h0M672.6 470.3h0M622.1 470.8h0M558.8 470.4h0M550.1 471.3h0M651.2 471h0M635.4 470.9h0M567.4 470.7h0M612.1 471.8h0M653.6 470h0M552.4 471.7h0M648.4 470.7h0M559.1 470.4h0M561.1 469.5h0M614.3 471.3h0M549.4 471h0M596.8 470.3h0M552.2 471.9h0M631.4 470.3h0M653.3 470.8h0M645.3 472.2h0M556.8 470.3h0M525 472.6h0M643.4 471.9h0M553 471.2h0M652.2 472.9h0M658.4 471.6h0M611.8 471.1h0M543.3 469.7h0M551.6 470.2h0M658.7 471.2h0M671 472.5h0M547.3 470.7h0M536.2 469.7h0M605 470h0M568.4 472.7h0M660.4 471.8h0M588.3 470.8h0M614.2 471.4h0M555 472.6h0M576.2 469.3h0M548.3 471.6h0M619 470.6h0M647.3 470.8h0M654.2 472h0M665.2 472.7h0M542.9 472.2h0M642.8 470.9h0M665.1 469.8h0M669.8 470.8h0M578.3 468.8h0M636.4 471.8h0M609 472.8h0M527.5 471.7h0M634.4 469.9h0M639.5 472.3h0M637.2 469.7h0M627.9 471h0M569.7 472.4h0M620 469.9h0M542.3 470.1h0M661.5 471.5h0M653.6 472.1h0M570.6 470.6h0M658.7 470.9h0M538.4 469.5h0M611.9 470.5h0M559.8 471.1h0M538.5 471.7h0M591.4 469.1h0M624.8 470h0M575.7 469.1h0M624.3 471.3h0M552.9 469.9h0M624.8 472.6h0M629.1 471.3h0M588.9 466.6h0M558.8 471.4h0M607.1 469.9h0M537.9 469.7h0M634.5 471.9h0M625.6 470.6h0M632.9 471h0M572.6 470.7h0M561 470.6h0M586.7 471.2h0M560.2 471.1h0M584.8 468.5h0M638.5 471.8h0M609.3 471.3h0M559.3 472h0M671 470.3h0M651.3 472.1h0M547.8 472.2h0M570.6 471h0M525.9 471.8h0M629.8 470.2h0M553.7 473h0M645.9 471.4h0M572.6 471.9h0M565.7 471.3h0M563.9 471.4h0M603.6 469.9h0M571.9 471h0M598.4 468.9h0M641.5 470.1h0M551.2 470.1h0M569.7 470.6h0M605.1 470.6h0M573.8 472.3h0M526 471h0M659.8 471h0M538.5 469.7h0M601.2 470.3h0M622.1 472h0M558.1 470h0M636.7 469.6h0M590.8 466.3h0M660.2 470.9h0M660.7 472h0M535.5 469.7h0M546.3 470.6h0M637 470.3h0M558.3 470h0M531.3 472.3h0M661.5 471h0M570.9 469.6h0M635.5 470h0M661.3 470.1h0M612.2 470.4h0M601.2 471.2h0M567.2 471.4h0M528.7 472.1h0M585.8 466.7h0M532.6 470.2h0M554.5 471.3h0M569.4 469.6h0M623.2 471h0M552.9 472.6h0M580.8 467.7h0M592.5 467.9h0M658.9 472.6h0M573.7 470.8h0M559.2 471h0M628.6 472.1h0M630.5 471.6h0M624.9 471.9h0M645 471.2h0M651.6 470.2h0M613.3 472.8h0M580.6 467.8h0M624.1 470.2h0M597.3 468.3h0M662.9 471h0M614.6 472.4h0M525.9 472.3h0M634.6 469.9h0M642 470.1h0M529.5 473h0M563.7 472.7h0M614 470.6h0M661.7 472.3h0M626 470.5h0M624.9 471.1h0M560.8 469.5h0M662.4 470.7h0M607.6 472.7h0M566.9 471.5h0M561.8 471.5h0M626.5 470.5h0M551.6 470h0M524.9 471h0M613.6 471h0M567.7 470.2h0M658.3 471.9h0M544.9 469.9h0M562.8 472h0M599.7 471.5h0M557.3 471.5h0M537.7 469.7h0M610.9 470.6h0M569.3 470.1h0M671.2 470.1h0M531.3 472.5h0M538.4 470.7h0M624.9 470.6h0M578.8 468.6h0M619.8 469.8h0M589.6 467.4h0M539.9 470.6h0M623.3 471.7h0M619.9 472.1h0M595.1 468.8h0M597.9 471.5h0M553.8 471.2h0M624.1 471h0M555.4 471.3h0M571.8 472h0M614.5 471.3h0M574.4 473h0M664 472.6h0M542.3 471.5h0M645 470h0M640.4 472h0M652.6 472.7h0M541.9 472.2h0M610.6 470.7h0M620.3 469.9h0M639.4 470.8h0M551.1 469.9h0M664.7 470.2h0M537.1 470h0M603.9 470.6h0M565.6 469.7h0M647.7 470.6h0M570.8 470.2h0M538 470.1h0M529.5 473h0M540.7 470.3h0M674.6 471h0M622.9 470.7h0M652.9 470.1h0M649.4 471.6h0M535.8 469.5h0M567.3 470h0M656.5 472h0M554.3 471.1h0M653.4 470.3h0M676 471.5h0M619.7 470.1h0M582.2 468.9h0M559 469.8h0M592.2 468.8h0M624.7 471.4h0M648.6 471.2h0M590.2 467.2h0M626.3 470.4h0M658 470.4h0M586.9 467.5h0M656.3 472.5h0M625.2 470.8h0M586.2 471.2h0M568.7 470.1h0M659.5 469.9h0M639.7 470.7h0M650.6 472.1h0M629.9 470.2h0M639.3 471.8h0M631.4 471.4h0M590.7 467.3h0M627.8 472.1h0M622.4 472.5h0M556.3 470h0M663.8 471.8h0M641.2 472h0M600.6 470.8h0M537.6 470.8h0M608.9 469.9h0M540.5 471.4h0M525.4 472.2h0M565.4 469.5h0M667.8 471.7h0M598.3 469.9h0M599.6 468.7h0M669.5 472.7h0M587 468.1h0M623.8 470.8h0M649.7 472.4h0M595 467.9h0M550.8 471.9h0M618.7 472.1h0M607.9 472.1h0M553.3 471.4h0M644.1 470.7h0M617.4 470.5h0M585.2 466.6h0M615.5 470.8h0M535.1 471.4h0M614 470.5h0M631.9 472.6h0M647.8 471.9h0M615.5 472h0M534.2 469.8h0M598.8 469.7h0M632.1 471h0M588.2 469.1h0M605.5 471.6h0M564.8 469.5h0M576.9 469.9h0M628.3 471h0M644.4 471.4h0M525.4 471.1h0M638.9 470.7h0M664.9 471.2h0M589.7 467.6h0M657.6 471.7h0M640.3 470.4h0M563.5 472.7h0M549.5 470.3h0M557.7 469.7h0M538.9 469.6h0M578.7 468.8h0M576.4 471.9h0M627.7 471.5h0M667.9 470h0M563.8 470.4h0M608.6 470.1h0M565 470.2h0M603.8 470.5h0M609.4 471h0M583.8 469.6h0M676.2 470.8h0M541 471.1h0M641.5 470.7h0M537.1 470.8h0M593.6 467.4h0M565.5 469.3h0M648.7 472.8h0M600.6 470.1h0M620.9 470.1h0M555.5 470h0M526.2 471.1h0M564.7 472.6h0M648.6 470.2h0M625 470.2h0M585.3 470.2h0M626 470.2h0M565.7 470.9h0M566 471.3h0M656.7 472.9h0M528.2 472.5h0M644.3 470.8h0M640.1 470.9h0M660.1 470.7h0M528.1 472.7h0M587.5 471h0M572 471.5h0M674.6 469.9h0M627.3 471.1h0M587.7 471.5h0M593.8 471.2h0M605.8 470h0M585.9 467.6h0M648.8 470.3h0M589.8 470h0M660.3 470.9h0M566.4 470h0M656.3 469.9h0M582.2 470.5h0M562.9 471.1h0M557.9 469.8h0M621.4 472.6h0M539.1 471.7h0M672.3 471.5h0M647.6 471.9h0M554.6 469.8h0M536.3 470.5h0M605.4 471.3h0M640 470.7h0M559.7 471.3h0M598.9 470.2h0M621.1 470.3h0M576.5 468.8h0M594.3 472.4h0M589.1 467.9h0M552.7 470.1h0M615.7 471h0M568.1 472h0M566.8 470.2h0M628.8 470.5h0M529.7 472.1h0M630.6 470.7h0M604.4 469.9h0M671.4 470.9h0M590.6 468.3h0M646.8 470.7h0M643 471.5h0M616.5 471.7h0M612.7 472.9h0M606.1 470.3h0M663.5 471.2h0M657.7 472h0M526.6 471.6h0M577.1 470.8h0M616 470.4h0M656.1 471.4h0M613.5 471h0M629.2 470.7h0M595.7 468.2h0M527.8 471.6h0M550.3 471.8h0M627.1 471.1h0M576.9 472.2h0M532.6 471.6h0M539.5 470.1h0M555.4 471.1h0M588.9 466.9h0M649.1 470.8h0M557.9 472h0M610 471.3h0M635.2 471.7h0M630 471.4h0M567.5 471.8h0M639.7 471.4h0M607.6 470h0M528.9 472.2h0M574.9 471.4h0M651 471.8h0M587.2 468.6h0M545.8 471.3h0M525.4 471.7h0M620.4 469.8h0M670.9 471.6h0M671.5 472.3h0M547.5 470.6h0M628.8 470.7h0M530.3 472.4h0M599.8 470.6h0M640.7 470.7h0M538 470.7h0M630.9 470.5h0M625.8 469.8h0M637.5 471.2h0M652 470.9h0M615.8 470.8h0M639.4 470.9h0M594.6 468h0M588.9 466.7h0M664.1 471h0M547.4 469.6h0M557.2 471.7h0M531.8 471.3h0M585.9 467h0M551 471.2h0M642 472.8h0M587.7 470.6h0M642.1 471.5h0M546.3 472.1h0M556.6 470.3h0M542.5 472.6h0M561.3 472.5h0M636.1 470.1h0M605.9 471.3h0M530.8 472.1h0M561.7 470.3h0M675.3 471.7h0M629.6 471.1h0M606.1 471.1h0M631.7 471.2h0M529.7 472.1h0M561.2 471h0M597.8 469.6h0M640.1 472.3h0M583.1 468.6h0M596.5 470.9h0M646 470.1h0M623.1 470.8h0M548.4 470.7h0M644.3 471.5h0M591.4 468.9h0M571.9 470.5h0M569.9 469.7h0M652.5 471.6h0M535 472.7h0M648.7 471.3h0M543.1 472.5h0M643.7 471.8h0M665 471.3h0M620.4 471.4h0M624.6 472h0M565.5 472h0M534.4 470.3h0M675.8 472.9h0M658.6 471.6h0M549.2 472.6h0M578.1 472.1h0M600.2 470.3h0M550.3 469.8h0M613.7 470.8h0M561.4 469.8h0M630.7 470.5h0M553.1 469.9h0M594.3 471.8h0M665.2 471.4h0M661.2 471.9h0M535.9 470.5h0M608.4 470.4h0M622.4 471.3h0M640.5 471.2h0M546.8 470.4h0M578.4 470h0M548.9 471.5h0M565.1 469.9h0M528.4 472.2h0M586 466.8h0M543.5 470.7h0M648.2 471.4h0M670.4 471.8h0M600.2 470.9h0M567.7 472.4h0M643.1 470.6h0M652.2 471.2h0M552.6 470.6h0M667.1 470.7h0M564.9 470.3h0M654.8 470.1h0M620.3 470.4h0M529.7 472.7h0M526.5 471.8h0M599.4 472.7h0M649.6 471h0M636.2 469.7h0M641.2 470.6h0M622 470.9h0M641.7 470.4h0M570.3 470h0M547.5 470.6h0M665 471.8h0M660.5 471h0M635.9 472h0M532.6 471.6h0M615.5 470.2h0M610.8 470.9h0M582.6 469.2h0M633.5 470.1h0M577.6 469.9h0M577.6 471.3h0M533.2 471h0M617.6 470.8h0M593.1 467.6h0M593.8 468.1h0M609.5 469.7h0M575.5 470.6h0M641.7 471.6h0M645.8 471.5h0M548.2 470.5h0M610.2 471.5h0M566.4 469.2h0M601.6 469.6h0M588.8 467.7h0M568.3 471.9h0M651.7 470.7h0M571.1 471.1h0M610.1 472.4h0M618.4 469.8h0M629.1 471h0M543.2 470.7h0M613.4 470.9h0M659.2 471.6h0M540.8 469.6h0M606.2 469.9h0M616.8 469.9h0M616.4 470.3h0M621.4 469.9h0M639.2 470.4h0M588.2 470h0M555.5 470.9h0M609.6 470.3h0M595.6 467.7h0M586.5 472.7h0M605.1 470.4h0M561.7 469.7h0M554.7 469.8h0M592.7 466.8h0M618.2 470.3h0M556.1 469.9h0M675.6 472h0M613 472.2h0M658.9 470.2h0M663.6 470.5h0M583.8 468.4h0M533.8 472.1h0M609.4 470.2h0M569.6 472.8h0M531.7 471.5h0M581.5 467.8h0M629.9 470.1h0M639.9 471h0M641.1 471.9h0M640.3 471.1h0M622.9 470.9h0M593 467.3h0M646.6 472h0M655.7 470.8h0M534.3 469.7h0M658.8 471.2h0M590.2 469.8h0M554.4 470.7h0M591.4 467.9h0M625 471.8h0M642.1 471.1h0M586.8 470.5h0M617.8 470.4h0M643.9 470.2h0M578 470.2h0M618.4 471.2h0M526.3 471.3h0M661.8 471.2h0M665.2 472.5h0M613.8 471.6h0M622.1 471.3h0M634.3 471.8h0M568.5 471h0M588.4 468.5h0M668.4 470.9h0M610.3 472.1h0M605.7 470.2h0M631.8 470.3h0M615.6 471.4h0M657.4 470.1h0M672.7 472.3h0M627.8 472h0M565.3 469.6h0M657.8 470.9h0M573.6 470.6h0M571.7 471.5h0M556 469.7h0M666.8 471.9h0M653.8 470.4h0M635.2 471.6h0M605.8 470h0M631.6 470.3h0M533.2 471.3h0M581.2 469.8h0M675 469.8h0M651.5 470.8h0M642.7 470.1h0M557.4 470.5h0M674.6 472h0M592.6 469.5h0M654.9 470.9h0M545.8 471.1h0M623.2 470.8h0M529 472h0M568.1 472.6h0M620 470.5h0M617.3 472.3h0M528 471.7h0M602.2 472.8h0M610.1 472.3h0M596.9 468.9h0M559.1 470.9h0M634.4 471.5h0M619.3 472.5h0M632 471.9h0M590.7 466.2h0M643.3 471.9h0M646.3 471.3h0M600.3 471h0M551.3 469.8h0M584.1 470.7h0M647 472.3h0M587.7 471h0M530.1 471.9h0M599.2 469.6h0M547.2 471.1h0M533.9 469.7h0M526 471h0M671.2 472h0M568.6 471.8h0M528.7 472.2h0M604.9 469.8h0M598.3 471.5h0M590.1 470.7h0M529.9 472.4h0M651.6 472.4h0M673.1 470.3h0M676.2 470.6h0M571.7 470.1h0M547.4 470.6h0M651.5 471h0M641.3 472h0M656 472h0M575.5 470.1h0M664.5 472.2h0M567.4 469.9h0M562.4 470.7h0M552.3 469.9h0M644.7 471.3h0M676.2 469.9h0M573.6 472.3h0M633.9 470.5h0M565.1 472.9h0M568.4 469.7h0M628.5 470.5h0M631 471.7h0M658.8 471.1h0M666 470.6h0M628.5 470.1h0M674.3 470.5h0M668.6 471.2h0M572.8 471.5h0M581.2 467.9h0M574.6 471.4h0M538.7 470h0M666.8 471.1h0M548.2 470h0M654 471.2h0M596.9 470.3h0M606.3 470.4h0M665.6 471.3h0M671.4 470.9h0M594.6 467.8h0M561.2 470.3h0M663.6 470.4h0M655.9 470.8h0M623 470.2h0M562.2 469.1h0M646.7 471.1h0M616 470h0M526.9 472.1h0M658.5 472.6h0M631.1 471.7h0M562 472.4h0M568.2 471.1h0M624.3 470.1h0M616 472h0M604.7 469.7h0M560.6 470h0M558.4 471.4h0M607.5 470h0M606.8 471.8h0M612.3 472.6h0M636.4 470.6h0M575.6 469.9h0M579.1 470h0M614.1 470.8h0M554 469.8h0M654.1 471.9h0M663.5 471.8h0M653.7 471.8h0M656 470.1h0M610 470.4h0M639.7 471.1h0M575.9 469.5h0M662.4 471.1h0M655.7 471.3h0M593 468h0M573.3 469.8h0M646 471.9h0M585.8 466.8h0M603.4 472.6h0M647.9 472h0M596.1 468h0M641.3 470.6h0M527.4 472.3h0M542.3 469.8h0M557.4 471.9h0M633.4 470.3h0M634 470.8h0M660.3 470.6h0M530.5 472h0M525.8 470.9h0M613.2 471h0M561 469.5h0M579.9 469.4h0M533.8 470.1h0M653.1 470.8h0M647.8 471h0M609.4 470h0M552.9 471.2h0M647.2 470.6h0M663.5 470.6h0M627 470.6h0M559.3 469.9h0M649.4 471.9h0M581.9 469.7h0M636.6 472.4h0M543.7 469.7h0M641.8 471.3h0M550.3 473h0M548 469.7h0M537.6 469.6h0M552.2 470.3h0M559.4 470.1h0M642.1 470.9h0M561.5 470.5h0M562.1 469.1h0M594.9 468.9h0M573.7 470.8h0M661.9 470.3h0M651.1 470.2h0M675.6 472.8h0M568.9 472.3h0M652.3 472.2h0M645.5 471.9h0M555.4 471.3h0M660.8 471.7h0M553.7 470.2h0M564.2 470.1h0M597.5 469.1h0M600.1 471.3h0M544.5 469.8h0M559.2 471.5h0M612.8 470.3h0M580 470.5h0M577 470.6h0M664.2 470.8h0M608.6 471.4h0M576.6 470.3h0M647.4 470.3h0M648.9 471.9h0M667 471.4h0M574.5 470.6h0M540.2 470.7h0M669 472.2h0M672.2 471.3h0M563.1 470.2h0M539.4 471.2h0M640.9 471.7h0M637.4 471.5h0M639.4 470.9h0M612.6 471.3h0M559.1 472.2h0M602.7 471.1h0M653.3 472.3h0M538.1 471.1h0M608.3 470.2h0M621.1 471.7h0M536.8 470.1h0M542.5 470.1h0M619.9 470h0M591.5 468.9h0M622.2 472.2h0M654.4 470.7h0M629.9 472.5h0M567.6 471.9h0M574.4 470.9h0M666.4 470.9h0M610.6 471.1h0M587.5 471.6h0M628.1 471h0M556 470.2h0M527.9 471.5h0M607.1 470h0M601 471.8h0M598 471.2h0M608.5 472.9h0M629.5 470.2h0M610.2 471.3h0M627.7 471.2h0M672 470.3h0M590.9 467.1h0M562.1 469.2h0M626.6 473.1h0M622.7 471.2h0M623.4 472.2h0M577.3 469.2h0M611.7 471h0M627.5 472.2h0M545.7 471h0M578.9 470.1h0M608.5 472.3h0M568.6 469.9h0M638.7 470.9h0M532.4 470.5h0M539 471.6h0M563.4 469h0M578.1 471h0M539.9 470.9h0M644.9 471.4h0M589.1 471h0M549 472.1h0M651.6 470.4h0M596.3 469.3h0M584.4 468h0M559.1 471.1h0M635.2 471.2h0M676.3 470.9h0M524.8 471.7h0M656.9 472h0M592 468.4h0M658.9 472.8h0M634.3 472.3h0M632.6 470.2h0M621.6 472.8h0M566.9 470.7h0M661.5 471.2h0M562.5 469.6h0M636.6 469.6h0M619.1 470.3h0M658.9 471.9h0M530.5 472.1h0M619.8 470.1h0M653.3 472.2h0M566.3 469.6h0M609.3 470.1h0M662.9 472.9h0M563 472.2h0M559.4 471h0M664.3 471.8h0M599.6 470.4h0M669.9 470.7h0M587.7 471.3h0M565.4 471.9h0M675.9 471.4h0M551.9 472.7h0M548.4 470.4h0M600.8 469.9h0M634.5 471.8h0M615.8 470.8h0M673.7 471.2h0M558 471.7h0M632.8 470.4h0M570.2 470h0M666.7 471.2h0M539.3 469.5h0M563.4 469h0M585.1 468.8h0M593.3 471.8h0M579.1 472h0M598.8 471.9h0M617.4 470.8h0M665 470.1h0M618.6 470.2h0M585.4 467.2h0M619.3 470.1h0M657.9 470.7h0M662.2 472.9h0M666.9 470.9h0M601.6 471.3h0M573.4 470.4h0M579.7 472.8h0M576.8 471.8h0M676 472.3h0M634.5 470.1h0M677 470.3h0M635.7 470.5h0M661.2 470.3h0M601.9 469h0M612.5 471.4h0M569.3 470.4h0M609.2 471.4h0M596.8 470h0M657.5 472.2h0M535.8 470.5h0M608 472.7h0M592.6 471.2h0M554.2 470.2h0M527.7 472.4h0M599.1 469.1h0M644.1 470.9h0M602.6 469.6h0M607 470.1h0M591.7 471.2h0M665 471.8h0M611.8 470.7h0M600.1 470.7h0M534 470.8h0M536.8 470.4h0M592.5 471.8h0M579.6 470h0M566.3 469.3h0M570.1 472.4h0M530.3 472.9h0M590.6 472.3h0M593.3 467h0M564.2 469.8h0M606.4 471.9h0M591.2 472.5h0M591.4 471.4h0M542.6 471h0M581.6 471h0M548.4 471.4h0M671.3 470.2h0M571.8 472.7h0M598.4 468.8h0M561.6 469.1h0M588.8 469.6h0M536.5 471.3h0M606 471.5h0M583.3 468.2h0M600.6 472.1h0M538.5 469.6h0M551.1 471.2h0M629.7 469.9h0M604 470.1h0M618.6 470.2h0M596.8 471h0M607.3 470.5h0M548.2 470.4h0M594.6 469.8h0M599 470.6h0M580.4 467.8h0M573.6 470.7h0M525.5 472.1h0M648.1 471.1h0M628.9 470h0M630.1 470h0M656.4 471.9h0M620.4 472.8h0M621.9 470h0M635.4 469.8h0M611.9 470.5h0M560.4 471.3h0M538.2 472h0M643.1 472.3h0M642.4 471.6h0M653.4 470h0M531.2 472.2h0M626 471h0M528.4 472.1h0M632 471.2h0M549 470.6h0M528.7 472.6h0M575.9 470.4h0M581.3 470.6h0M667.3 472.2h0M549.3 470h0M573.4 469.6h0M653.7 471h0M621.4 471.3h0M638.8 470.2h0M620.1 471.3h0M664.5 473h0M639.7 470.6h0M559.5 470.2h0M541.2 471.1h0M668.5 472.3h0M553.5 472h0M548.5 471.6h0M670.5 470.9h0M602.8 469.7h0M625 469.8h0M576.5 470.1h0M662.8 471.7h0M665.1 471.2h0M593.9 469.5h0M542.9 471.2h0M632.4 470.4h0M610.4 472.5h0M614 471.1h0M619.2 471.6h0M534.1 470.5h0M563.4 469.4h0M655.4 472.4h0M641 471.3h0M590.2 468.6h0M656.3 472.3h0M668.3 469.9h0M590.8 466.3h0M646.8 470.7h0M606.2 470.3h0M612.6 470.6h0M560.8 470.8h0M565.4 473h0M632.3 470.9h0M561.3 469.6h0M635.6 470.1h0M614 471.8h0M625 471.6h0M606.1 470.1h0M602.4 469.5h0M650.3 471.2h0M584.5 470.2h0M595.8 471.8h0M651.3 471.8h0M536.3 471.9h0M577.9 470.9h0M619 471.4h0M557.9 470.8h0M602.1 470.4h0M582.9 469h0M674.5 471.3h0M631.9 471.4h0M633.3 471.3h0M646.8 470.1h0M632.9 470.5h0M532.6 470.4h0M630.3 472.1h0M642.1 470.2h0M664.6 471.2h0M552.4 471.9h0M526.8 471.7h0M674 471.3h0M604.5 472.1h0M641.9 471.4h0M568.3 469.9h0M630.7 470.9h0M633.4 469.6h0M632.6 468.9h0M619.4 469.1h0M593.3 466.5h0M594.3 466.1h0M610.5 468.7h0M617.7 468.6h0M676.1 469.3h0M623.2 468.1h0M644 469.5h0M564 467.5h0M619.9 469.1h0M648.9 469.2h0M564.4 468h0M557.3 468.1h0M671.7 468.6h0M612.4 469.9h0M668.6 467.9h0M650.9 468.6h0M536.7 468.6h0M598.6 467.2h0M556.9 467.7h0M599.6 467h0M659.2 469.3h0M554.3 468.4h0M543.1 469.5h0M530.2 470.3h0M652.6 469.3h0M595.9 466.4h0M571.7 468.9h0M583.5 466.5h0M630.9 468.9h0M541.8 469.5h0M638.1 468.9h0M655.2 468.1h0M613.7 469.9h0M617.6 468.7h0M638.5 469.5h0M674.7 467.8h0M673.9 469.1h0M577.4 464.9h0M581.9 462.7h0M583.8 461h0M581.2 464.7h0M577.5 466.1h0M581.4 462.8h0M577.4 464.9h0M584.1 460.2h0M581.3 462.2h0M583.1 462.3h0M579.2 465.3h0M581 462.5h0M578.6 465.8h0M580.7 463.6h0M580.7 463.7h0M576.6 466.3h0M578.2 465.5h0M583.3 461.7h0M589.6 452.8h0M586.6 457.2h0M589.1 453.7h0M583.8 460h0M586.8 455.7h0M584.6 459.4h0M585.7 458.4h0M586.9 456.6h0M585.9 459.1h0M588 455.2h0M588.7 454.6h0M588.4 454.9h0M585 459.8h0M588.4 452h0M584.4 458.8h0M584.6 460.8h0M587.3 455.4h0M588.8 453.6h0M590.2 451.5h0M590.6 451.3h0M594.9 448.3h0M592.9 450.8h0M593 449.4h0M594.6 448.9h0M594.6 449.1h0M594.5 448.5h0M592.5 449.7h0M590.4 452.3h0M590.1 450.8h0M594.2 450.1h0M591.6 449.9h0M590.1 451.4h0M599.9 448.5h0M600.2 447.3h0M594.2 449.5h0M598.4 449.2h0M598.2 448.1h0M598.5 448.8h0M599.1 448.3h0M596.8 449.6h0M598.8 447.5h0M598.9 448.3h0M594.9 448.7h0M595.2 448.5h0M599.8 448.1h0M596.8 447.6h0M602.8 455.1h0M600 448.4h0M601 449h0M600.3 449.5h0M601 451.1h0M601.3 450.8h0M600.7 452.1h0M600.8 448.9h0M601.7 452.2h0M601.2 452.9h0M602.2 454.2h0M601.7 452.6h0M601.6 452.1h0M601 450.3h0M603.6 465.6h0M603.4 461.3h0M602.7 460.7h0M603.5 463.3h0M603 464.3h0M603.2 463.7h0M603.9 465.5h0M602.3 458.2h0M603.8 465.5h0M602.1 455.3h0M590.5 463.4h0M589.9 465.2h0M593.8 467.4h0M592.2 460.2h0M590.1 463.7h0M593 465.2h0M589 460.9h0M587.3 465.6h0M591.5 466.9h0M587.6 460.8h0M594.5 463.4h0M595.8 461.1h0M593.9 464.6h0M593.8 464.8h0M590.4 465.9h0M587.2 461.3h0M594.7 457.4h0M597 455.2h0M591.7 462.4h0M587.2 464.1h0" stroke="#7c8885" stroke-width="2.5" stroke-linecap="round" fill="none"/><line x1="600.5" x2="600.5" y1="444.7" y2="474.3" stroke="#f02020" stroke-width="0.9"/><line x1="516.7" x2="516.7" y1="444.7" y2="474.3" stroke="#111" stroke-width="1.4"/><line x1="513.2" x2="516.7" y1="473.1" y2="473.1" stroke="#222" stroke-width="1"/><text x="510.6" y="475.6" font-size="6.9" fill="#4d4d4d" text-anchor="end">0</text><line x1="513.2" x2="516.7" y1="466" y2="466" stroke="#222" stroke-width="1"/><text x="510.6" y="468.4" font-size="6.9" fill="#4d4d4d" text-anchor="end">3</text><line x1="513.2" x2="516.7" y1="458.8" y2="458.8" stroke="#222" stroke-width="1"/><text x="510.6" y="461.3" font-size="6.9" fill="#4d4d4d" text-anchor="end">6</text><line x1="513.2" x2="516.7" y1="451.7" y2="451.7" stroke="#222" stroke-width="1"/><text x="510.6" y="454.1" font-size="6.9" fill="#4d4d4d" text-anchor="end">9</text><line x1="539.1" x2="539.1" y1="475.1" y2="477.8" stroke="#1a1a1a" stroke-width="1.45"/><text x="539.1" y="486.4" font-size="6.9" fill="#4d4d4d" text-anchor="middle">26.5</text><line x1="576.7" x2="576.7" y1="475.1" y2="477.8" stroke="#1a1a1a" stroke-width="1.45"/><text x="576.7" y="486.4" font-size="6.9" fill="#4d4d4d" text-anchor="middle">27.0</text><line x1="614.3" x2="614.3" y1="475.1" y2="477.8" stroke="#1a1a1a" stroke-width="1.45"/><text x="614.3" y="486.4" font-size="6.9" fill="#4d4d4d" text-anchor="middle">27.5</text><line x1="651.9" x2="651.9" y1="475.1" y2="477.8" stroke="#1a1a1a" stroke-width="1.45"/><text x="651.9" y="486.4" font-size="6.9" fill="#4d4d4d" text-anchor="middle">28.0</text><text x="641.2" y="445.3" font-size="6.8" font-weight="bold">Ribo</text><text transform="translate(492.4 459.4) rotate(-90)" font-size="8.8" fill="#1a1a1a" text-anchor="middle">&#8722;log<tspan font-size="6" dy="1.8">10</tspan><tspan dy="-1.8" font-size="10.5">(</tspan>p<tspan font-size="10.5">)</tspan></text><line x1="517.5" x2="685" y1="528.3" y2="528.3" stroke="#e6e6e6" stroke-width="0.9"/><line x1="517.5" x2="685" y1="524.4" y2="524.4" stroke="#e6e6e6" stroke-width="0.9"/><line x1="517.5" x2="685" y1="520.4" y2="520.4" stroke="#e6e6e6" stroke-width="0.9"/><line x1="517.5" x2="685" y1="516.5" y2="516.5" stroke="#e6e6e6" stroke-width="0.9"/><line x1="517.5" x2="685" y1="512.6" y2="512.6" stroke="#e6e6e6" stroke-width="0.9"/><line x1="517.5" x2="685" y1="508.6" y2="508.6" stroke="#e6e6e6" stroke-width="0.9"/><line x1="517.5" x2="685" y1="504.7" y2="504.7" stroke="#e6e6e6" stroke-width="0.9"/><line x1="517.5" x2="685" y1="500.8" y2="500.8" stroke="#e6e6e6" stroke-width="0.9"/><path d="M557 527.3h0M612.1 527.8h0M534.5 527.2h0M675.5 528h0M646.7 527.6h0M547.8 527.8h0M641.9 527.4h0M531.5 527.4h0M531.7 527.3h0M575.2 525.7h0M674.1 527.5h0M676.9 527.7h0M536.5 527.7h0M529.6 527.9h0M586.9 525.5h0M548.6 528.1h0M657 527.6h0M670.8 527h0M582.3 525.8h0M604 526.7h0M615.5 527.3h0M619.2 527.5h0M602 526.9h0M634.5 527.9h0M570.7 526.3h0M604.2 526.8h0M526.6 527.6h0M613.1 528.2h0M618.6 527.6h0M534 527.4h0M595.8 525.9h0M578.5 525.8h0M637.2 528.2h0M534 527.4h0M671.5 527.7h0M594.3 526h0M573.5 526.9h0M572.4 527h0M615.5 527.6h0M582.2 524.9h0M528.9 527.6h0M636.8 527.8h0M558.7 527.3h0M561.2 527.9h0M591.1 525.4h0M540.3 527.8h0M575.6 525.7h0M591.6 525.1h0M550.6 527.6h0M623.8 527.5h0M593.5 527h0M543.2 527.5h0M553.9 527.2h0M652.5 527.9h0M567.2 526.9h0M622.6 527.5h0M577.4 527.4h0M569.3 526.7h0M566.1 527.6h0M588.3 526.2h0M587.2 524.8h0M548.6 528.3h0M668.5 527h0M675.1 527.6h0M669.5 527h0M558.6 527.3h0M652.2 527.3h0M603.8 527.3h0M576.7 527.1h0M535.2 527.5h0M568.5 526.7h0M531.7 527.2h0M630.4 527.2h0M661.3 527h0M612.7 528.2h0M638.3 527.9h0M570.5 526.8h0M604.8 527.2h0M667.8 527.3h0M576.8 527h0M656 527.4h0M643.9 527.7h0M554.9 527.4h0M649.2 527.8h0M645.4 527.2h0M647.6 527.3h0M526 527.5h0M656.2 528.1h0M566.1 527.7h0M605.1 527.2h0M596.8 525.8h0M525.1 528.1h0M544.1 528h0M535.2 527.3h0M654.9 528h0M601.3 527.1h0M572.7 527h0M623.3 527.7h0M579.8 527h0M574.9 527.5h0M609.4 527.2h0M582.7 527.4h0M552 527.7h0M616.9 527.2h0M582.7 524.7h0M619.7 527.8h0M581.5 525.7h0M631.8 527.6h0M630.5 527.6h0M562.1 527.7h0M630.7 528.1h0M589.5 526.2h0M658.8 527h0M581.8 524.6h0M645.3 527.8h0M595.5 527.4h0M648.6 527.3h0M659.9 527.1h0M626.5 527.2h0M610.7 528h0M614.3 528.2h0M546.7 527.5h0M531.6 528h0M539.9 527.5h0M552.1 528.2h0M653 527.9h0M653.3 527.3h0M652.1 527.1h0M613 527.2h0M530.3 527.4h0M602.7 526.4h0M541.1 527.4h0M667.1 528.1h0M574.2 526.4h0M650.9 527.7h0M552.2 527.8h0M618.6 527.5h0M584.8 526h0M585.2 526.1h0M588.5 527.5h0M601 525.9h0M587.7 525.3h0M549.3 527.2h0M640 527.5h0M603.6 526.9h0M622.7 527.5h0M547.6 528.1h0M638.7 527.3h0M603.6 526.9h0M634.3 527.9h0M565.5 527.8h0M614 527.6h0M560.2 527.4h0M670 527.6h0M632.2 527.6h0M654.8 527.3h0M565.5 527.8h0M528.3 527.6h0M583.1 526.9h0M579.7 526.5h0M642.7 528h0M675.8 527.6h0M616 527.4h0M651.9 527.2h0M609.7 527.4h0M634.6 527.4h0M585.8 525h0M671 527.4h0M559.8 527.8h0M634.1 527.5h0M670.8 527h0M561.7 527.9h0M564.2 527.9h0M632.1 527.2h0M661.8 527.7h0M656.5 527.6h0M589.3 525.4h0M537.9 528.1h0M651.8 527.7h0M579.1 525.9h0M627.7 528.2h0M575.8 526.5h0M598.8 527.2h0M613.9 527h0M584.3 525.4h0M543 527.8h0M626.1 528h0M659.9 527h0M539.6 527.5h0M581.8 524.9h0M640.1 527.8h0M627.7 527.3h0M647.6 527.8h0M639.7 527.3h0M627.3 527.4h0M542.1 527.4h0M578.4 525.8h0M628.1 527.4h0M552.5 527.5h0M620.9 528h0M660.3 527.2h0M543.6 527.2h0M546.3 527.8h0M634.5 527.6h0M609.3 527.2h0M594.5 526.8h0M551.7 528.1h0M633.8 527.4h0M607.5 527h0M579.5 526.7h0M583.2 524.5h0M531.2 527.5h0M562.5 527.5h0M578.7 526.7h0M586.2 525.6h0M642.3 527.8h0M653.8 527.9h0M566 528h0M542 527.2h0M635.6 527.9h0M553.6 527.6h0M638 527.3h0M638.8 527.5h0M547.1 527.8h0M554.3 527.4h0M611.4 527.9h0M562.9 527.5h0M529.4 527.4h0M660.5 526.9h0M583.2 525.4h0M613.6 527.3h0M673.6 527.2h0M570.4 526.5h0M598.5 526.2h0M635.5 528.3h0M642.1 527.5h0M599.7 526.5h0M594.9 527.2h0M605.5 528.1h0M601 526.5h0M592.5 525.9h0M670.9 527h0M545.5 527.5h0M619.7 528.2h0M579.6 526.8h0M536.7 527.7h0M666.4 527.8h0M657.4 527.2h0M545.3 527.4h0M616.4 527h0M633.8 527.4h0M577.1 525.7h0M666.7 527.3h0M591.4 525.3h0M598.7 527.6h0M531.3 528.1h0M555.3 527.9h0M600.5 526.3h0M606.7 527.4h0M623.7 527.9h0M595.5 525.8h0M585.9 526.9h0M661.8 527.2h0M580.7 526.2h0M605.4 527h0M558.9 528.3h0M556.6 527.3h0M546.7 527.7h0M554.6 527.8h0M550.8 527.6h0M550.4 528.1h0M541.6 527.9h0M599.5 527.8h0M528.2 527.6h0M586.9 525.3h0M532.6 527.6h0M585.2 527.8h0M671.8 527.7h0M539.2 527.8h0M549.9 527.2h0M577.6 527.5h0M532.7 527.3h0M566.7 527h0M595.7 525.4h0M570.6 527.4h0M565.3 527.2h0M620.6 527.9h0M539.1 527.7h0M672.4 527.3h0M525.4 528.2h0M538.6 528h0M530.4 528.1h0M624.5 527.4h0M555.4 527h0M597.4 525.8h0M664.5 527.3h0M530 527.8h0M617.2 527.1h0M538.2 527.9h0M654.2 527.9h0M584.2 526.1h0M628.4 527.2h0M551.4 527.3h0M636.6 527.3h0M609.1 526.9h0M580.1 526.2h0M559.7 527.3h0M598 527h0M550.7 527.2h0M617 527.3h0M583.7 525.6h0M548.2 527.4h0M528.3 527.6h0M640.3 527.5h0M539.6 528h0M653.3 527.3h0M658.6 527h0M593.3 525.3h0M636.4 527.7h0M581.2 527.5h0M585.6 524.4h0M540.8 527.5h0M541.6 528h0M623.7 527.9h0M532.2 527.9h0M623 527.7h0M526.6 527.8h0M672.1 527.7h0M610.5 527.6h0M643.8 527.5h0M644.9 527.5h0M553.5 527.9h0M536.9 527.6h0M541.9 528.2h0M672 527.8h0M660.8 528h0M595.7 527.1h0M651.1 527.3h0M622.5 527.6h0M657.6 527.6h0M616.7 527.5h0M541.7 527.2h0M615.3 527.1h0M556.2 527.5h0M595.5 525.8h0M536.6 527.8h0M598.6 527.7h0M609 527.1h0M589.2 525.6h0M617.1 527.8h0M578.2 525.3h0M575.9 526.6h0M537.6 528h0M550 527h0M635.4 527.4h0M675 527.4h0M666.6 527.5h0M588.6 524.9h0M662.3 527.1h0M598.5 525.9h0M586.8 524.6h0M665 527.9h0M667.1 527.9h0M539.4 527.7h0M569.6 527h0M622.2 528.2h0M638.3 527.8h0M590.7 526.4h0M637.8 527.4h0M568.6 527.8h0M570.4 527.2h0M536.6 528h0M641 527.5h0M673.5 527h0M658.2 527.5h0M549.4 527.6h0M595.3 526.2h0M607.4 527.5h0M654.7 527.7h0M595.3 525.5h0M647.7 527.7h0M561.8 527.4h0M526.3 528h0M605.7 527.1h0M550 528.1h0M555.9 527.2h0M595.7 525.3h0M644.4 527.2h0M530.2 527.9h0M526.8 527.6h0M576.3 527.8h0M608 527.9h0M572.3 527.3h0M647 527.6h0M564.5 528.1h0M590.2 525.6h0M627.6 527.1h0M647.9 527.8h0M545.5 527.5h0M645 527.5h0M651.4 527.4h0M567.4 527.7h0M527.4 527.5h0M661.4 527h0M596 526h0M666.2 527.4h0M616.6 527.5h0M603.8 527.5h0M552.7 527.4h0M675.9 527.5h0M587 526.3h0M594.1 525.6h0M593.7 525.3h0M548.5 527.7h0M604.3 527.1h0M654.4 527.1h0M666.6 527.5h0M529.5 527.6h0M608.5 527.3h0M567.4 526.9h0M663.6 528h0M626.6 527.5h0M603.2 526.2h0M671 527.2h0M554.5 527.1h0M552.4 527.7h0M650.9 527.6h0M566.1 527h0M668.5 527.6h0M584.6 526.4h0M544.8 527.9h0M674.1 528h0M559.8 527.8h0M536.9 527.7h0M638 527.3h0M620.9 527.5h0M525.6 527.8h0M671.2 528h0M565.6 527.5h0M565.6 527.4h0M532 527.8h0M670.6 527.9h0M662.7 527.9h0M676 527.4h0M623.3 528h0M533.1 527.3h0M551.6 527.9h0M650.1 527h0M532.2 527.2h0M606.2 527.4h0M541.1 527.7h0M675.2 527.7h0M544.8 528h0M544.1 527.8h0M664.1 528.1h0M554 527.1h0M676.6 527.1h0M562.3 527.8h0M669.6 527.4h0M631.9 527.7h0M528.1 527.7h0M638.7 527.4h0M611.4 527.6h0M606.8 527.4h0M606.2 526.9h0M555.3 527.4h0M666.9 527.3h0M552.1 527.2h0M652.7 527.9h0M565.3 527.8h0M532.9 527.1h0M587.1 524.9h0M542.3 528.2h0M657.3 527.1h0M675.8 527.4h0M604.8 526.7h0M538.9 527.8h0M592 527.2h0M616.2 527.6h0M601.9 527h0M573.3 526.9h0M616.3 527h0M667.4 527.2h0M652 527.7h0M673.5 527.7h0M543.6 527.6h0M636.3 527.7h0M623.1 527.9h0M672.1 527.4h0M597.6 526.3h0M658 527h0M605.3 527.2h0M618.9 528.1h0M589.6 525.1h0M643.2 528.1h0M654.9 527.5h0M674.2 527.6h0M557.5 527.5h0M659.4 527.5h0M656.9 527.2h0M579.9 526.6h0M601.8 527h0M581.5 525.3h0M658.1 527.3h0M547.1 527.9h0M581.3 525.4h0M546.1 528.1h0M573.6 527.1h0M529.3 527.6h0M665.1 527.7h0M637.1 527.3h0M652.4 527.1h0M592 525.6h0M543.2 527.2h0M582.4 525.7h0M660.4 527.6h0M553.7 527.2h0M616 528h0M529.1 527.8h0M526 527.3h0M552.8 527.8h0M584 525.5h0M590.7 525.5h0M625.3 527.6h0M539.6 527.5h0M630.1 528.1h0M592.1 525.4h0M675.8 528.1h0M526.3 527.6h0M589.1 525h0M650.7 527.6h0M588.6 525.8h0M659.5 527.8h0M584.5 527.3h0M622.5 528.2h0M667.2 527.5h0M612.2 528h0M560.2 527.6h0M655.4 527.3h0M568.2 526.6h0M625.5 527.5h0M555.6 527.7h0M661.8 527.9h0M605.8 527h0M578.8 525.6h0M663.4 527.3h0M637.2 527.9h0M533.9 527.6h0M572.3 527.4h0M657.5 527.8h0M650.1 527h0M543 527.2h0M585.3 526.7h0M553.2 528.1h0M600.8 526.9h0M654.5 527.1h0M533.5 527.6h0M584.1 526.8h0M563 527.9h0M630.5 527.7h0M541.7 527.8h0M592.1 525.9h0M562.2 527.6h0M557.6 527.4h0M617.6 527.9h0M639.2 527.7h0M607 527.2h0M620.5 527.8h0M533.3 527.3h0M655.7 527.4h0M613 527.7h0M661.7 527.3h0M558.6 527.3h0M675 527.7h0M676.4 527.5h0M552 527.4h0M576.4 525.9h0M613.7 527.9h0M605.2 526.7h0M597.6 526.3h0M656.3 527.5h0M599.8 526.4h0M650.3 527.8h0M539.1 527.6h0M609 527.6h0M660.7 527h0M607.3 526.8h0M652.1 527.3h0M569.2 528.2h0M628.1 527.3h0M578.2 526.4h0M611.2 527.8h0M631 527.5h0M583.5 527.2h0M609.2 527.6h0M635.2 527.9h0M584.9 526.8h0M587 525.6h0M541.1 528.1h0M598.3 527.2h0M601.7 527.5h0M540.2 527.7h0M665.4 527.5h0M603.3 527h0M534.9 527.8h0M572.7 525.9h0M542.7 527.1h0M597.4 526.6h0M564.8 527.2h0M553.1 527.5h0M602.6 527.4h0M558.8 527.2h0M645.2 527.3h0M662.3 528h0M631.9 527.3h0M559.1 527.6h0M673.2 527.6h0M640.9 528h0M626.4 527.7h0M602.3 527h0M657.3 527.2h0M601.6 526.4h0M589.9 525.1h0M564 527.6h0M614 527.5h0M531.9 527.9h0M622.3 528h0M640.3 527.6h0M670 527h0M635.6 527.7h0M531.4 527.5h0M638.4 527.3h0M555.7 527.9h0M674.1 527.2h0M598.6 526h0M547.6 527.6h0M626.6 527.3h0M549.4 527.9h0M620 527.5h0M545.8 528.3h0M537.4 527.6h0M584.3 525.7h0M676.2 527.4h0M564.9 527.4h0M525.1 527.8h0M631.2 527.9h0M529.8 527.6h0M574.7 525.6h0M540.3 527.5h0M584 524.6h0M592.6 525.7h0M574.5 527.2h0M593.7 525.6h0M577.4 527.1h0M588.1 527.4h0M572.9 526.5h0M607.9 527.2h0M569 528.1h0M528.8 527.8h0M554.7 527.4h0M565.2 527.3h0M616.4 527.2h0M636.8 527.6h0M589.8 526.5h0M534.4 527.3h0M601 527.7h0M665.9 527.6h0M619.8 527.8h0M544 527.3h0M550.4 527.6h0M677 528h0M600.9 526.7h0M562.5 527.5h0M587.9 528.1h0M596.9 528.2h0M632.7 527.3h0M662.7 528.1h0M627.6 527.7h0M596.8 526.9h0M571.3 527.7h0M620.1 528.1h0M671.6 528.1h0M671.6 527.8h0M537.5 527.6h0M605.7 526.8h0M602.2 526.6h0M537.4 527.7h0M602.8 526.1h0M525.8 528.1h0M627.8 527.1h0M589 525.4h0M610.2 527.6h0M595.7 526.1h0M529.2 527.8h0M637.2 527.8h0M596.9 527h0M579.3 525.7h0M638.1 527.3h0M597.4 527.2h0M576.1 527.8h0M561.3 527.5h0M617.9 527.8h0M552.5 528h0M552 527.6h0M563.7 527.4h0M610.8 527.7h0M590.5 527.8h0M636.4 527.4h0M580.2 525.3h0M566.3 527.7h0M559.6 527.9h0M617.1 527.3h0M635.6 528h0M641.5 527.7h0M582.4 525.6h0M590.7 526.9h0M585 525.2h0M633.7 527.3h0M554.4 527.1h0M646.7 527.4h0M674 527.9h0M643.1 527.3h0M543.4 527.5h0M669 527.6h0M655.1 527h0M591.1 527.2h0M557.6 527.3h0M589.1 526.5h0M592.3 525.1h0M563.5 528.2h0M669.4 527.6h0M583.5 524.2h0M567.7 527.9h0M660 527.7h0M558.6 527.2h0M559.7 527.2h0M575.5 526.9h0M557.7 527.5h0M610.1 527.6h0M602.1 527.2h0M652.4 527.1h0M639.5 527.4h0M535.6 527.9h0M555.8 527.9h0M672.3 527h0M664 527.6h0M542.6 527.6h0M533.4 527.2h0M565.2 527.7h0M668.8 527.8h0M665.3 527.9h0M626.1 528h0M661.6 527.5h0M577.4 526h0M615.2 527.7h0M543.7 527.5h0M528.6 527.3h0M577.2 527.3h0M574.7 527.5h0M573 526.5h0M586.8 526.4h0M569.1 527.1h0M643.4 527.6h0M641.7 527.6h0M543.1 527.9h0M653.9 527.5h0M583 525.5h0M653.7 527.6h0M579.9 526.3h0M526.5 527.5h0M597.8 526.4h0M593.6 526.3h0M633.8 527.9h0M674.3 528h0M656.7 527.8h0M645.9 527.8h0M536.7 527.7h0M652.6 527.2h0M658.4 527h0M532.9 527.6h0M541.1 527.4h0M593.6 525.7h0M646 527.1h0M627.9 527.1h0M608.3 528h0M660.5 528h0M537.9 527.6h0M567.5 527h0M529.2 527.9h0M633.8 528.2h0M602.6 526.1h0M557.4 527.4h0M638.1 527.5h0M641.5 527.5h0M527 527.9h0M606.5 526.8h0M557.9 527.5h0M544.4 527.4h0M592.6 526.1h0M626.7 527.9h0M635.8 527.4h0M655.7 527.7h0M560.5 527.9h0M661.8 527.5h0M584.2 525.4h0M631.2 527.7h0M576 525.8h0M643.1 527.8h0M536 527.4h0M635.9 527.5h0M586.4 524.6h0M590.4 526.8h0M540.1 527.8h0M616.3 527.6h0M669 527.2h0M594.6 525.9h0M616.4 527.3h0M600.2 526.6h0M599.6 526h0M554 527.2h0M570.2 526.6h0M535.9 527.7h0M592.3 525.5h0M555.6 527.7h0M545.1 527.6h0M612.6 528.3h0M551.9 527.9h0M670.6 527.4h0M610.9 527.8h0M625.3 527.3h0M627 528.3h0M591.7 526h0M531.6 527.3h0M573.4 527.1h0M620 527.7h0M600.4 526h0M603.8 527.2h0M534.6 527.5h0M580.2 525.8h0M577.7 528.2h0M530.6 527.9h0M539.1 527.6h0M613.2 527.8h0M633 527.5h0M534.3 527.3h0M559.7 527.1h0M546.4 527.9h0M562.7 527.5h0M649.5 527.3h0M547.5 527.7h0M631.7 528.1h0M665.1 527.5h0M666.7 527.4h0M618.9 527.4h0M565.5 527.7h0M543.6 527.9h0M646.4 528h0M638.1 527.7h0M658.5 527.1h0M629.4 527.3h0M531.3 527.8h0M580.9 526h0M626.9 527h0M637.5 527.3h0M630.8 527.7h0M602.1 526.4h0M648.9 527.6h0M578.9 525.9h0M559.6 527.2h0M524.8 527.5h0M598.8 527.3h0M611.6 527.6h0M671.3 527h0M614.1 527h0M659.4 527.8h0M650.8 527.1h0M675.7 527.3h0M584.5 526.7h0M624.2 527.9h0M640.1 527.6h0M650.6 527.6h0M571 526.3h0M625.7 527.6h0M610.2 527.6h0M622.7 527.7h0M568.3 526.5h0M659.6 527.1h0M567.2 527.7h0M636.1 527.4h0M624.2 527.9h0M634.5 527.6h0M581.7 525.4h0M593.2 525.8h0M639.3 527.3h0M541.7 527.4h0M668.8 527.2h0M613.1 527.1h0M529.6 527.4h0M619.7 527.7h0M572.1 526.5h0M543.9 527.6h0M564.1 527.3h0M647.3 527.6h0M639.8 527.7h0M604.5 527.6h0M655.5 527.1h0M640.5 528.1h0M649.6 528.2h0M610.9 527.6h0M533.8 527.6h0M659.9 527.2h0M572.7 526.1h0M578.9 525.3h0M585.9 527.5h0M672.8 528h0M563.3 527.5h0M542.4 527.4h0M655.6 527.3h0M577.8 525.8h0M650.5 527.3h0M620.3 527.9h0M586.9 524.6h0M672.8 528.3h0M554.7 527.8h0M645.6 527.9h0M550.6 527.2h0M550.5 527h0M594.2 525.4h0M649.6 527.8h0M644.4 527.6h0M558.6 528.1h0M631.9 527.5h0M571 526.4h0M554.8 527.5h0M538.1 527.9h0M659.5 527.4h0M548.2 527.8h0M622.9 527.9h0M659.9 528h0M657.1 527.3h0M650 527.6h0M535.3 527.9h0M620.3 528.2h0M541.6 527.2h0M658.5 527.1h0M652.3 527.4h0M658.1 527.2h0M609.7 527.5h0M528.5 528.1h0M562.8 527.7h0M543.2 527.2h0M612.6 527.3h0M660.8 527.7h0M659.8 526.9h0M565.5 527.9h0M646.6 527.2h0M646.4 527.6h0M616.5 527.9h0M560.5 527.6h0M638.2 528h0M666.2 528.2h0M672.5 527.7h0M649.5 527.1h0M670.2 527.4h0M631.2 527.8h0M651.6 528h0M659.4 527.3h0M534.2 527.2h0M572.9 527.8h0M564.3 528.2h0M567.6 526.9h0M675.3 527.4h0M654.9 527.1h0M633.6 527.7h0M563.2 528h0M608.1 527.7h0M637.5 527.7h0M613 527.4h0M620.4 528h0M563.8 527.5h0M557.3 527.4h0M671.8 527.5h0M671.3 527.3h0M668.6 527.4h0M639.4 527.5h0M554.5 527.4h0M613.3 527.5h0M625.3 527.2h0M645.9 527.3h0M546.7 527.5h0M620.4 527.5h0M525.2 527.9h0M673.4 527.6h0M632.3 527.5h0M585.4 525.9h0M610.4 527.1h0M606 526.9h0M571 526.6h0M616.9 527.2h0M658.7 528h0M573.2 523.2h0M569.5 524.4h0M572.1 524.6h0M567.1 525.4h0M569.4 525.1h0M571.2 524h0M572.5 523.2h0M567.5 525.5h0M569.4 524.9h0M573.2 523.4h0M565.9 526.5h0M566.6 525.1h0M566.4 525h0M567.7 526.3h0M571.5 524.2h0M567.6 525.9h0M569.5 524.2h0M566.8 527.3h0M574.1 520.6h0M574.8 523.3h0M574.4 522.6h0M582.3 518.3h0M583.4 519.1h0M575.3 522.6h0M575.1 521.6h0M576.1 521.2h0M578.6 519.9h0M576.4 521.4h0M576.7 520.7h0M577.7 522.5h0M577.5 521.2h0M582.5 519.5h0M575.7 520.7h0M574.5 522.7h0M578.7 521h0M576.1 523.5h0M579.6 519.2h0M576.1 521.2h0M582.2 520h0M584.2 518.8h0M585.8 519.1h0M579 520h0M578.5 521h0M577.6 519.2h0M580.4 518.1h0M582.4 519h0M584.6 518.7h0M582.9 518.9h0M582.4 518.4h0M584.9 518h0M584.9 518.2h0M581 518.7h0M590.9 513.5h0M591.3 513.4h0M591.2 513.8h0M588.8 513.9h0M587.3 512.9h0M588.4 512.9h0M587.6 513.4h0M588.2 512h0M586.9 513.2h0M591 512.8h0M587.8 511.7h0M587 513.9h0M586.6 513.1h0M591 513.5h0M588 512.2h0M586.9 514.2h0M590 514h0M589.3 513.8h0M589.6 512.1h0M588.9 513.5h0M589.8 512.4h0M586.8 513.6h0M588.5 512.9h0M587.9 512.6h0M587.8 511.9h0M588.3 513.7h0M586.9 513.9h0M587.6 512h0M588.7 513.1h0M591.5 511.8h0M590.5 513.6h0M588.2 512.9h0M587.8 513.3h0M587.6 513.6h0M590.4 512.7h0M588.8 513h0M589.7 512.5h0M586.6 512.1h0M588.9 513.4h0M591.5 512.3h0M596.2 509.4h0M596.2 509.1h0M597 508h0M596.6 508h0M596.6 509.1h0M593.5 509.5h0M598.8 508.6h0M595.4 509.1h0M597.8 508.8h0M595.9 510.4h0M595.8 509.7h0M596.3 509.5h0M596.5 509.2h0M595.5 510.2h0M594.9 509.1h0M595.9 509h0M594.6 509.8h0M594.2 510.3h0M599.3 508.4h0M597.6 508.6h0M601.7 512.8h0M601.1 510.2h0M600.4 511.4h0M601.1 511.6h0M600.3 509.6h0M601.5 512.9h0M600.4 509.5h0M601.5 510.6h0M600.6 509.6h0M600.2 509.5h0M599.7 505.7h0M600.2 509.1h0M600.2 507.6h0M599.3 503.4h0M600 504.8h0M599.7 507.8h0M600.7 509.8h0M599.4 504.7h0M600.5 509h0M599.9 508h0M601.2 512.2h0M601.2 511.3h0M594.9 513.8h0M598.3 516.6h0M597.5 513.8h0M595.2 514.3h0M595.3 514.3h0M596.3 515.4h0M594.6 514.8h0M597.2 516h0M594.2 516.7h0M595.2 513.6h0M597.4 513.9h0M597.4 516.6h0M595.7 513.8h0M597.8 513.6h0M597.7 514.6h0M597.4 513.9h0M595.9 516.9h0M595.4 517h0M595.2 515h0M595.2 516.2h0M594.4 515.8h0M596.3 515h0M598.3 516.8h0M595.1 516.8h0M587.6 522.2h0M588.5 521.3h0M587.3 519.7h0M587.7 520.7h0M587.4 519.5h0M587.1 518.3h0M587 520h0M587.8 520.9h0M588.2 521.7h0M587.7 517.8h0M603.5 523.4h0M603.4 521.1h0M603.9 523.1h0M603.4 523.2h0M602.6 520.9h0M603.2 522.6h0M603.1 522.2h0M602.9 520.7h0M603.4 522.4h0M602.3 518.9h0M591.5 525.6h0M589.3 524.2h0M585.7 523h0M587 524.3h0M590.5 524.7h0M583.3 522.6h0M591.8 524.2h0M587.9 523.9h0M584.9 526h0M588.7 522.8h0M581.9 522.5h0M586.1 522.4h0M592 525.3h0M583.7 522.8h0M595.2 523.2h0M589.2 524.2h0M592.2 523.1h0M593 525.2h0M592.9 522.6h0M589.1 526.3h0M583.3 523.8h0M586.9 522.7h0M590.1 523.6h0M582.7 524.3h0M591.1 522.7h0" stroke="#7c8885" stroke-width="2.5" stroke-linecap="round" fill="none"/><line x1="600.5" x2="600.5" y1="500.7" y2="529.5" stroke="#f02020" stroke-width="0.9"/><line x1="516.7" x2="516.7" y1="500.7" y2="529.5" stroke="#111" stroke-width="1.4"/><line x1="513.2" x2="516.7" y1="528.3" y2="528.3" stroke="#222" stroke-width="1"/><text x="510.6" y="530.8" font-size="6.9" fill="#4d4d4d" text-anchor="end">0</text><line x1="513.2" x2="516.7" y1="520.4" y2="520.4" stroke="#222" stroke-width="1"/><text x="510.6" y="522.9" font-size="6.9" fill="#4d4d4d" text-anchor="end">10</text><line x1="513.2" x2="516.7" y1="512.6" y2="512.6" stroke="#222" stroke-width="1"/><text x="510.6" y="515" font-size="6.9" fill="#4d4d4d" text-anchor="end">20</text><line x1="513.2" x2="516.7" y1="504.7" y2="504.7" stroke="#222" stroke-width="1"/><text x="510.6" y="507.1" font-size="6.9" fill="#4d4d4d" text-anchor="end">30</text><line x1="539.1" x2="539.1" y1="530.3" y2="533" stroke="#1a1a1a" stroke-width="1.45"/><text x="539.1" y="541.5" font-size="6.9" fill="#4d4d4d" text-anchor="middle">26.5</text><line x1="576.7" x2="576.7" y1="530.3" y2="533" stroke="#1a1a1a" stroke-width="1.45"/><text x="576.7" y="541.5" font-size="6.9" fill="#4d4d4d" text-anchor="middle">27.0</text><line x1="614.3" x2="614.3" y1="530.3" y2="533" stroke="#1a1a1a" stroke-width="1.45"/><text x="614.3" y="541.5" font-size="6.9" fill="#4d4d4d" text-anchor="middle">27.5</text><line x1="651.9" x2="651.9" y1="530.3" y2="533" stroke="#1a1a1a" stroke-width="1.45"/><text x="651.9" y="541.5" font-size="6.9" fill="#4d4d4d" text-anchor="middle">28.0</text><text x="636.6" y="499.2" font-size="6.8" font-weight="bold">Protein</text><text transform="translate(492.4 515) rotate(-90)" font-size="8.8" fill="#1a1a1a" text-anchor="middle">&#8722;log<tspan font-size="6" dy="1.8">10</tspan><tspan dy="-1.8" font-size="10.5">(</tspan>p<tspan font-size="10.5">)</tspan></text><line x1="517.5" x2="685" y1="583.3" y2="583.3" stroke="#e6e6e6" stroke-width="0.9"/><line x1="517.5" x2="685" y1="579.2" y2="579.2" stroke="#e6e6e6" stroke-width="0.9"/><line x1="517.5" x2="685" y1="575.1" y2="575.1" stroke="#e6e6e6" stroke-width="0.9"/><line x1="517.5" x2="685" y1="571" y2="571" stroke="#e6e6e6" stroke-width="0.9"/><line x1="517.5" x2="685" y1="566.9" y2="566.9" stroke="#e6e6e6" stroke-width="0.9"/><line x1="517.5" x2="685" y1="562.8" y2="562.8" stroke="#e6e6e6" stroke-width="0.9"/><line x1="517.5" x2="685" y1="558.7" y2="558.7" stroke="#e6e6e6" stroke-width="0.9"/><path d="M575.2 582.1h0M594.7 582.9h0M631 575.6h0M670.2 577.5h0M671 583h0M568.8 579h0M642.9 578.4h0M668.5 578.4h0M649.4 580.5h0M554 581.4h0M545.6 581.3h0M671.3 580.2h0M526.2 583h0M550.6 580.2h0M580 581.9h0M539.6 578.1h0M589.4 582.2h0M533.8 583h0M550.5 580.5h0M547.6 583h0M599.5 581.9h0M676.7 581.8h0M605.4 575.9h0M587.1 579.2h0M597.6 581.8h0M587.3 583.1h0M589 582h0M660.2 576.1h0M600.7 583.1h0M563.6 581.7h0M556.5 581.8h0M657.3 581.6h0M532.6 579.9h0M610.9 573.8h0M586.2 579.2h0M624.4 575.8h0M638.2 578.5h0M539 581.9h0M657.9 574.7h0M665.6 579.5h0M624.8 575.4h0M622.7 576.5h0M605.2 576.8h0M629.3 580.9h0M665.3 573.8h0M536.1 578.5h0M671.3 577.7h0M531.6 579.9h0M544.2 579.3h0M626.4 582.5h0M550.3 580.7h0M611.5 576.1h0M666 580.8h0M525.3 579.7h0M526.8 579.9h0M542.5 579.3h0M644 575h0M608.7 574.2h0M555.5 580.2h0M575.2 578.4h0M642.6 577.9h0M605 582.9h0M530 580.8h0M599.3 579.2h0M617.4 581.6h0M580 580h0M604.5 583.1h0M652.4 575.6h0M537.8 580h0M582.9 579.3h0M572.2 581.8h0M598.9 578.7h0M539.3 582.5h0M619.4 575.8h0M602.9 578.5h0M655.4 576.6h0M535 579.4h0M554.6 581.9h0M652.2 578.9h0M646.4 581.5h0M657.9 581.1h0M547.5 580.9h0M576.4 580.1h0M662.5 576.6h0M525.7 581.9h0M607.8 577.8h0M633.8 578.8h0M536.3 581.8h0M653.9 579.9h0M641.6 574.3h0M620.2 577.6h0M617.6 580h0M663.8 578.3h0M663.6 579.8h0M656.9 576.1h0M618.2 578.9h0M546.2 579.6h0M580 580.4h0M545.1 582.8h0M546.7 579.5h0M551.9 579.9h0M581.5 580.3h0M578.2 580.4h0M539 580.8h0M667.4 581.6h0M624.4 579.7h0M570.6 583.1h0M527.9 579.3h0M651.2 575.9h0M647.7 575.2h0M548.9 580.8h0M600.2 580.6h0M667.6 577.4h0M672.3 581.9h0M624 576.9h0M638.3 577.5h0M651.4 580h0M666.1 579.2h0M616 575.1h0M632 579.9h0M559.9 581.2h0M620.3 575.3h0M661.7 579.3h0M585.8 579.4h0M568 581.4h0M526.8 582.4h0M607.1 576.1h0M618.4 579.6h0M669.6 578.3h0M548.6 582.9h0M673.1 574.2h0M664.9 576.7h0M572.4 582.6h0M564.1 581.9h0M666.2 575.3h0M643.3 581.3h0M561.1 581.4h0M669.2 581.7h0M645.2 577.7h0M608.1 573.5h0M564.8 580.6h0M548.8 582.7h0M529.6 581.8h0M543.4 582.9h0M676 580.1h0M660.4 577.1h0M636.2 577.1h0M669.9 576.6h0M634.4 578.3h0M630.5 577.3h0M608.9 577.7h0M548.3 579.8h0M598.5 582.8h0M550.4 579.9h0M563.8 581h0M628.7 576.9h0M574.8 580.9h0M589.2 583.1h0M658.3 583h0M671 581.7h0M548.7 579.8h0M650.2 580.9h0M609.1 577.9h0M634.2 581.4h0M650.5 574.9h0M632.4 574.8h0M667.5 580h0M653.9 576.3h0M614.2 582h0M619.1 575.5h0M571.3 579.9h0M661.4 577.8h0M530.5 580.7h0M563.7 578.7h0M625.6 579.8h0M661.2 577.6h0M576.5 578.6h0M660.6 575.8h0M659.3 576.9h0M631.2 577.7h0M605.1 574h0M578.6 582.8h0M633.5 578.6h0M607.9 576.7h0M562.9 581.9h0M535.7 579.5h0M663.2 576.5h0M542.6 578.7h0M650.7 578.5h0M524.9 580h0M619.7 577.8h0M527.6 580.2h0M530 581.2h0M546.9 581.4h0M660.4 576.7h0M649.1 580.4h0M584 580.1h0M530 581.4h0M673.3 576h0M656.2 580.3h0M630 577.2h0M632.1 578.7h0M551.4 583.2h0M659.9 575.1h0M566.8 580.1h0M586.8 580.4h0M653 580h0M619.2 580.7h0M602.6 582.8h0M564.9 581.7h0M664.1 581.6h0M640.3 582.2h0M675 581.2h0M538.8 581.9h0M666.9 577.7h0M660.4 578.7h0M542.2 581.3h0M594.2 578.1h0M550.2 582.1h0M653.2 582h0M672.7 580.1h0M611.2 576.7h0M662.9 582.3h0M653.8 581.4h0M634.2 582.9h0M641.6 581.2h0M556.2 583h0M574.2 581.2h0M674.5 577h0M580.3 579.1h0M551 582.3h0M670.4 576h0M629 576.1h0M533.6 579.8h0M632.1 576.7h0M653.2 582.1h0M555.2 582.5h0M597.7 580.2h0M607.1 579.1h0M638.1 575.7h0M640.3 582.8h0M548.1 582.2h0M561.1 580h0M554.4 580.7h0M577.2 581.1h0M632.6 574.8h0M553.8 581.7h0M674.3 580.7h0M528.9 582.3h0M650.5 576.8h0M667.7 579.2h0M531.1 581.9h0M634.3 579.6h0M546.1 581.3h0M595.4 581h0M592.8 582.6h0M529.3 579.9h0M636.3 579h0M542.3 581.6h0M609.8 574.1h0M598.2 578.5h0M605.1 581.1h0M618.5 577.7h0M616.1 576.4h0M528.3 581.2h0M646.7 581.8h0M531.3 582.4h0M568.3 581.2h0M572.7 579.8h0M550.7 581.8h0M627.7 579h0M670.8 576h0M564.1 581.3h0M606.7 577.5h0M580.5 579.4h0M554.8 581.2h0M543 579.3h0M615.5 574.5h0M546.6 579.9h0M615.7 582.6h0M649.7 576.3h0M537.1 578.1h0M644.3 577.5h0M607.6 580h0M533.5 581.3h0M656.7 581h0M596.8 581.4h0M630 576h0M660 580.3h0M588.3 583.3h0M605.4 575.3h0M653.5 582.4h0M590.8 582.8h0M589.4 579.3h0M568 579.7h0M670.3 576.9h0M555.6 579.2h0M665.3 573.5h0M526.4 583.3h0M569.2 580.7h0M589.4 582.7h0M622.3 577.6h0M620.8 578.9h0M608.5 575.9h0M534.6 581.2h0M545.4 582.6h0M640.8 580.1h0M576.5 581.5h0M614.2 581.9h0M622.4 582.5h0M670.3 581.7h0M641.7 577.8h0M589.5 581.7h0M579.5 580.2h0M604.7 577.7h0M562.5 579.8h0M550.8 581.2h0M624 578h0M613.2 577.9h0M554.3 579.6h0M628.9 577.7h0M670.2 579.5h0M575.5 581.3h0M573 581.4h0M572.9 581.9h0M598.5 581.6h0M580.9 580h0M572.8 578.7h0M646.3 580.1h0M651.9 581.2h0M539.4 578h0M529.8 583.3h0M656.9 583.2h0M624.6 577.7h0M558.7 581.7h0M672.1 579.5h0M561.6 580.7h0M636.3 580.2h0M538.4 578.9h0M539.4 582.8h0M525.5 579.5h0M590.9 580.1h0M609.7 573.4h0M577.1 581.1h0M628.7 583.3h0M580.2 580h0M612 578.4h0M667.5 579.6h0M636.1 579.3h0M538 580.9h0M556.9 583h0M568.4 582.6h0M594.3 579.1h0M640.2 575.7h0M573.2 579.6h0M660.2 579.4h0M663.9 581.9h0M665 574.1h0M674 575h0M633.1 579h0M634.1 576h0M612.5 577.4h0M665.6 580h0M575.9 583h0M658.5 576.8h0M627.3 581h0M552.9 581.3h0M658.4 579.3h0M589.1 581.3h0M653.4 581.9h0M656.6 583.1h0M631.3 576.4h0M596.3 579.1h0M567.5 582.5h0M579.6 582h0M634 578.3h0M625.4 573.6h0M642.6 575h0M672.5 575.1h0M637.7 579.7h0M602.2 576.1h0M644.6 575.5h0M637.9 577h0M563.5 579.8h0M553.3 580.7h0M551.6 583.2h0M670.3 576.6h0M571.2 582.9h0M649.5 577h0M548.4 579.9h0M652.5 577.7h0M566.5 583h0M534.5 581.2h0M634.7 577.6h0M559 578.9h0M534.4 580.6h0M551.3 583.3h0M554.3 580.1h0M558.3 583.2h0M598.3 581.3h0M612.2 577.7h0M632.6 575h0M576.3 579.6h0M542.9 581.9h0M539.4 578.6h0M576.2 579.2h0M658.4 579h0M556.3 581.8h0M599.3 581.2h0M535.5 579.3h0M622.2 576.2h0M653.5 577h0M650.3 577.1h0M590 579.5h0M664.6 581.8h0M546.8 582.3h0M594.2 578.6h0M605 575.1h0M580.6 580.6h0M562.4 579.7h0M565.9 583.2h0M585.5 580.4h0M659 580.1h0M665.9 575.7h0M548.8 580h0M667.3 576.1h0M630.2 579.9h0M607.6 576.3h0M618.2 581.2h0M659.5 578h0M535.7 581.6h0M537.1 580.5h0M539.1 580.2h0M567.2 579.9h0M641.9 581h0M648.4 578.1h0M565.9 579.7h0M525.8 581.6h0M616 581.4h0M599.6 579.2h0M577.1 579.4h0M553.8 579.6h0M671.6 581.6h0M641.2 579.8h0M529.7 582.2h0M635.8 578.7h0M605.5 581.7h0M551 581.7h0M603 574.9h0M593.2 581.6h0M663.9 576.2h0M639.9 576.2h0M598.6 581.8h0M541.9 579.7h0M638.8 575.3h0M664.8 577.6h0M599.3 578.8h0M537.9 580.9h0M607.9 576.7h0M617.9 581.5h0M602.2 581.2h0M583.3 582.1h0M573.5 579.8h0M585.6 582.3h0M596.2 579.4h0M570.7 581.7h0M591.2 580.3h0M530.4 580.5h0M533.2 579.9h0M553.9 580.1h0M530 581.1h0M563.9 579.2h0M642.2 581.6h0M532.7 580.5h0M588.6 581.5h0M577.9 581.3h0M612.6 579.4h0M544.4 581.1h0M675.3 575.8h0M634.2 575.7h0M592.5 581.7h0M645.5 582.2h0M641.5 581.5h0M619.7 578.6h0M642.4 582.4h0M627.1 576.6h0M530.7 580.6h0M567.4 580.1h0M673.8 583.2h0M586.8 580.9h0M674.2 574.3h0M529.2 582.5h0M586.9 579.8h0M645.1 578.5h0M665.1 574.8h0M658.5 576.7h0M564.3 579.5h0M633.9 575.6h0M550.9 583.2h0M576.8 581.6h0M583.8 582.8h0M617.8 579h0M565.2 582.7h0M612.2 582.1h0M655.8 580.5h0M661.6 581.8h0M584.1 579.4h0M604.2 578.4h0M659 581.3h0M654.4 578.7h0M568.3 581.6h0M567.2 580.6h0M591.9 581.1h0M623.7 575.7h0M631.2 580.3h0M626.2 576.8h0M663.1 579.2h0M605.9 576h0M575.8 581.2h0M619.4 579.7h0M653.8 580h0M558.3 579.7h0M615.9 574.4h0M668.3 579.7h0M593.1 580.3h0M601.7 577.8h0M585.9 579.3h0M660.7 576.5h0M638.9 575.4h0M563.8 578.3h0M555.5 582.7h0M600.2 582.4h0M563.8 579.9h0M547.4 581.3h0M580.6 579.1h0M536.8 580.3h0M596.1 582.1h0M577.6 581.2h0M579.3 581h0M609.6 578h0M591.9 580.8h0M598.6 582.5h0M624.7 578.9h0M654.7 581.8h0M607.9 579.7h0M621.1 576.8h0M623.7 577.9h0M666.7 581h0M676.4 578.8h0M621.3 581.9h0M529.4 582.4h0M607.5 580.3h0M645.8 581.7h0M625.8 574.6h0M630.3 576h0M650.3 576h0M530.9 581.2h0M570.4 580.9h0M635.8 576.6h0M555.9 582.3h0M535.5 579.8h0M650.1 582.2h0M545.6 582.5h0M675.6 582.3h0M612.5 575.4h0M550.8 580.5h0M576.5 579.6h0M596.1 582.2h0M661.4 578.6h0M674.4 577.1h0M670.9 577.9h0M533.6 583.3h0M675.9 576.7h0M645.3 576.5h0M579.8 580.3h0M623.4 582.5h0M606.9 574.1h0M609.5 575.1h0M535 581.2h0M601.8 577.9h0M653.7 578.8h0M611 577.9h0M627.5 578.7h0M585 581.7h0M656.3 579.8h0M633.4 580.5h0M675.2 580.7h0M588.8 581.5h0M658.4 575.9h0M564.8 581.9h0M638 578.9h0M552.2 582.7h0M634.6 577.5h0M647.6 582.3h0M598 582.3h0M611.6 580.7h0M559.8 580h0M549.8 580.1h0M550.2 582h0M639.8 580.6h0M570.3 579.3h0M610.5 575.2h0M657.1 574.7h0M538 580.8h0M594 581.5h0M656.9 579.3h0M666.1 582.4h0M592.5 580.8h0M644.6 578.7h0M661.8 580.2h0M579 582.4h0M553.6 581.2h0M636.2 581.1h0M599.1 581h0M674.4 578h0M648 580.9h0M661.1 583h0M547.9 580.5h0M605.6 578h0M619.6 579.9h0M625.6 578.9h0M613.9 576.8h0M572 579.3h0M650.4 575h0M534.3 581.3h0M549.8 582.4h0M596.8 578.9h0M543.9 580h0M653.3 575.1h0M640 581.1h0M634.1 578.2h0M566.4 580.1h0M575.3 578.6h0M658.9 579h0M545.4 579.6h0M548.7 582.6h0M658.3 580.5h0M564.5 581.1h0M634.9 581.2h0M573 582.8h0M563.9 579.3h0M622.1 578.2h0M661.6 582.9h0M567.7 580.5h0M579.6 579.5h0M558.8 578.1h0M636.4 576.9h0M668.2 579.7h0M576.2 580.6h0M636.8 575.7h0M620.9 577h0M626.2 576.1h0M544.3 579.8h0M606.1 579.7h0M544.5 580.6h0M558.3 581h0M608 580.6h0M560.1 582.7h0M577.9 579.3h0M562 581.6h0M545.3 580.4h0M637.7 581.2h0M649.8 583.1h0M542.6 582.7h0M644.6 582.3h0M636.1 581h0M570.2 582.6h0M648.3 579.8h0M666.4 577.1h0M610.5 578.3h0M610.5 577.2h0M672.4 580.9h0M552 579.6h0M629.6 578.4h0M596.2 583.2h0M558.8 578.8h0M566.1 580.7h0M599.2 582.3h0M533.4 582.9h0M633.4 580.8h0M602.6 577.3h0M640.6 581.5h0M589.8 579.8h0M626 578.5h0M622.3 576.8h0M658.3 577.7h0M540.2 582.4h0M626.2 576.9h0M592.6 580.4h0M557.9 580.8h0M582.8 579.4h0M671.9 580.6h0M540 581h0M656.7 574.7h0M533.6 581.8h0M597.3 578.5h0M611.4 578.8h0M673.1 576.3h0M661.5 576.1h0M674.5 576.3h0M643.7 577.9h0M628.1 576.4h0M669.2 576.6h0M627.7 579.3h0M588.4 581.5h0M669.8 578h0M646.4 577.5h0M540.1 580.6h0M578.1 578.9h0M629.5 580.2h0M602.8 574.4h0M605.2 576.4h0M580 581.3h0M641.5 581h0M627.7 577h0M676.4 578h0M618.3 574.6h0M645.6 576.2h0M604.9 581.6h0M650.8 582.1h0M633.4 580.3h0M647.9 577.5h0M602.6 578.2h0M570.3 578.4h0M609.5 573.6h0M543 583.1h0M551.5 581.9h0M674.9 581.6h0M604.2 574.7h0M571.2 581.6h0M557.2 582.8h0M613.4 578h0M557.7 579.9h0M601.2 577.2h0M561.9 581.8h0M658.3 576.3h0M640.2 579.9h0M613.6 579.5h0M628.4 576.3h0M599.1 580.9h0M631.6 578.4h0M580.8 583.1h0M649.5 578.9h0M653.9 580h0M659.4 575.8h0M560.4 579h0M531.3 580.7h0M643.6 575.9h0M569.1 581.5h0M552.5 579.9h0M614.9 576.2h0M599.4 581.1h0M668.3 576.3h0M637.8 577.2h0M660.3 580.1h0M573.5 579h0M627.5 577.5h0M633.7 579.4h0M542.6 579.6h0M657.3 578h0M573.3 578.8h0M553.6 582.4h0M612.7 578.6h0M640.5 583.1h0M666.7 580.6h0M600.6 583.1h0M581.9 580.6h0M668.9 581.5h0M544.3 579.7h0M665.1 577.7h0M603.4 574.1h0M595 580.5h0M590.7 582h0M566.6 581.6h0M534.8 581.1h0M643.6 574.5h0M544 581.6h0M657.3 574.6h0M573 582.1h0M652.7 580.2h0M624.9 574.4h0M563.2 581.4h0M611.5 582.2h0M601.9 577.7h0M590.6 579.9h0M626.3 577.8h0M649.1 581.8h0M552 582h0M551.5 579.9h0M654.3 575.9h0M584.4 579.1h0M667.1 577.2h0M653.5 577.2h0M526.7 581.8h0M564.1 580.4h0M610.5 574.2h0M564.4 578.5h0M548 579.9h0M573 580.1h0M618.8 582.6h0M612.9 577.1h0M564.4 582.7h0M616.9 580.4h0M551.7 582.2h0M611.8 578.5h0M583.2 582.5h0M558.2 579.7h0M585.7 582.2h0M649.3 578.6h0M577.4 578.3h0M606.7 581.3h0M597.7 581.7h0M653.6 576.6h0M536.3 582.4h0M627.3 579.1h0M572.3 580.5h0M545.9 580.9h0M611.2 574.4h0M618.1 577.8h0M530.7 581.2h0M610.5 576.4h0M572.5 578.4h0M632.9 576.6h0M673.7 574h0M544.5 579.5h0M605.6 577.4h0M528 582.9h0M646.1 579.8h0M674.6 574.2h0M607.1 577h0M615.4 578.1h0M648.4 575.2h0M575.7 580.7h0M584.5 582.7h0M549 582.4h0M638.1 581.2h0M615.6 574.6h0M587 579.1h0M562.9 581.1h0M546.6 582.4h0M586.8 579.9h0M624.5 580.7h0M534.7 582.8h0M575.2 580h0M524.9 582.7h0M626.3 580.7h0M531.6 580.2h0M536.3 579.4h0M532.8 580.1h0M596.8 581.1h0M557.1 578.6h0M588.3 580.9h0M573.7 582.1h0M571.8 581.7h0M637.7 575.8h0M642.8 579.6h0M576.3 578.1h0M595.1 579.8h0M532.7 580.4h0M592.3 582.3h0M597.2 581.9h0M578.5 581.5h0M591.2 581.7h0M550.5 580h0M605.6 579.3h0M620.6 582.2h0M569.8 581.3h0M598.3 579h0M592.6 581.5h0M616.5 575.9h0M573.4 579.5h0M580 583.2h0M536.1 582.9h0M584.6 582h0M610.5 575.8h0M593.5 579.7h0M571 582.1h0M650.4 578.2h0M557.9 581h0M659.4 582.5h0M654.8 582h0M658.5 577.6h0M543.7 582h0M584.8 580.2h0M645 576.4h0M558.3 579.9h0M642.6 580.8h0M648 580.8h0M615 578.5h0M606.3 575h0M545.9 581.8h0M671.7 577.9h0M662 580.8h0M573.6 580h0M643.2 577.5h0M536.2 580.8h0M641.9 574.8h0M538.4 580.9h0M663.5 576h0M618.8 581.4h0M600.1 581.2h0M601.2 578.8h0M538.6 578.8h0M591.8 582.4h0M618.7 580h0M544.2 580.7h0M527.8 579.4h0M611.6 580.3h0M667.5 578.6h0M527 580.3h0M532.9 582.1h0M611.5 576.8h0M670.1 577h0M552 581.1h0M540.4 579.4h0M589.8 580.2h0M535.1 580.9h0M591.2 583h0M625.3 573.6h0M638.6 574.8h0M539.5 579.7h0M613.5 578.9h0M647 579.3h0M538.1 579.6h0M654.5 579.8h0M620.5 581.7h0M673.6 573.9h0M527.1 580.6h0M666.3 578.4h0M537 579.1h0M601.1 580h0M533.7 582.2h0M649.3 579.1h0M605.9 576.9h0M582.8 579.4h0M635 583h0M622.2 582.9h0M601.8 575.1h0M651 580.1h0M666.8 581.5h0M631.8 576h0M530.8 582.1h0M606.6 573.7h0M550 581.3h0M661.2 581.4h0M651.9 576.1h0M646 580.1h0M616.8 581.5h0M567.7 579.9h0M542 580.3h0M537.7 578.7h0M622.5 582h0M659.2 576.9h0M622.9 582.4h0M650.7 577h0M583.3 582.7h0M642.4 580.5h0M644.9 578.1h0M581.4 580.9h0M567.7 581h0M659.5 577.8h0M583.9 579.7h0M673.1 581.1h0M610.1 574.3h0M609 580.3h0M553.2 580.5h0M612 582.3h0M540.9 581.4h0M608.7 578.3h0M569.5 581.9h0M614.7 576.2h0M581.9 580.8h0M631.1 579.7h0M642.7 583.3h0M565 580.5h0M542.2 583h0M618.9 578.1h0M624 575.6h0M573.9 578.4h0M655.6 575.3h0M571.2 582.8h0M643.4 580.8h0M533.6 580.4h0M630.9 577.4h0M541.4 579.4h0M562 580.4h0M627.8 580.3h0M579.3 580.1h0M624.4 575.5h0M532.5 580.4h0M553.4 581.9h0M623.7 576.3h0M622.1 578.8h0M606.6 577h0M557.2 580.9h0M590.6 582.6h0M590.4 580.1h0M526.1 581.8h0M666.8 575.9h0M543.9 579.6h0M664.6 576.5h0M557.1 580.4h0M547.2 580.7h0M539.9 580.9h0M546.3 580h0M578 579.3h0M650.8 581.5h0M636.1 576.5h0M566 580h0M534 581.8h0M629.9 577.1h0M668.8 578.8h0M636 574.8h0M667.1 580.4h0M592 580.3h0M604.3 582.2h0M663.3 579.1h0M548.7 581.7h0M529 579.4h0M546.1 583.3h0M670.7 580.5h0M619.7 579.8h0M576.5 578.2h0M636.3 579.8h0M650.7 576.4h0M656.8 579.1h0M590 579.2h0M595.2 581h0M619.1 577.1h0M604 582.2h0M675.6 581.1h0M613.8 580h0M532.5 582.2h0M587.4 583h0M539.3 580.3h0M586.3 582.9h0M572.8 581.8h0M655.4 575.6h0M658.3 574.5h0M597.7 581.9h0M620.9 581.1h0M665.3 580.6h0M613.6 577.6h0M540 579.3h0M597.7 579.5h0M607.3 575.2h0M541.6 581.9h0M628.4 582.3h0M586.1 579.9h0M546 581.1h0M631.4 581h0M571.9 580.4h0M654.7 578.6h0M654.5 578.9h0M541.5 578.6h0M591.4 582.6h0M611.1 578.6h0M525.2 581.9h0M544.4 581.4h0M573.7 578.3h0M531.8 582h0M528.9 581.4h0M578.5 581.7h0M553.4 581.9h0M651.9 574.8h0M605 577.4h0M562.4 578.2h0M528.2 580.9h0M605 578h0M666.3 577.8h0M542.5 582.6h0M615.2 583h0M583.4 579.3h0M595.7 577.8h0M596.1 581.1h0M538.3 580.5h0M588.7 580.2h0M613.8 575.6h0M597.2 580.8h0M540.9 579.2h0M573.9 580.5h0M625.5 577.4h0M552.8 580.7h0M547.7 579.4h0M676.5 574.5h0M598.1 581.2h0M610.9 575.7h0M558.9 579.6h0M576.6 580.9h0M535.1 579.9h0M576.3 580h0M605.9 575.1h0M636.1 576.4h0M666.9 576.5h0M547.4 579.5h0M658.5 581h0M567.4 580.1h0M659.7 582.4h0M642.2 574.6h0M593.1 582.1h0M562.7 581.7h0M654.5 576.9h0M564.2 579.4h0M649.3 580.8h0M661.4 577.7h0M534.6 581.4h0M576.6 581.9h0M620.3 579.4h0M669.3 579.6h0M611.4 574.8h0M525.8 581.9h0M662.6 577h0M652.5 582.4h0M645.3 580.8h0M572.9 581.2h0M605.1 575.2h0M625.8 576.4h0M559.6 579.4h0M582.2 579.1h0M617.7 581.3h0M584.5 579.9h0M623.4 581h0M556.3 579.5h0M538.7 580.2h0M643.5 580.7h0M528.6 579.1h0M649.7 577.3h0M638.4 576h0M597.3 578.4h0M670.6 577.6h0M636.4 582.6h0M552 581h0M644.1 582.8h0M660.8 575.7h0M531 580.4h0M633.1 580.2h0M610.9 581.1h0M589.9 579.2h0M588.4 581.1h0M574.6 579.4h0M601.6 579.5h0M605.7 577.2h0M666.5 580.3h0M553.5 582.2h0M563.3 580.2h0M543.1 582.3h0M593.5 583.2h0M583.7 578.8h0M567.3 580.7h0M627.6 577.9h0M671.4 578.8h0M555 580.2h0M546.4 581.1h0M533.1 582.3h0M567.5 580.6h0M660.2 582.4h0M670 580.5h0M568.5 583.1h0M570.4 583.3h0M580.8 579.9h0M605.9 580.6h0M671.6 576.2h0M618.7 580.5h0M583.1 582.8h0M638.3 577.3h0M629.9 578.1h0M596.7 580.3h0M580.8 581.7h0M536.5 580h0M610.9 574.4h0M590.5 579h0M536 580.7h0M600.5 580.6h0M657.9 577.5h0M626.8 576.2h0M673.6 581.7h0M650.4 579.5h0M633.7 576.3h0M539.2 582.9h0M660.7 578.5h0M650.1 581.9h0M605.2 577.6h0M539.8 579.7h0M564.3 580h0M548.5 580.3h0M611.9 576.3h0M622.7 576.7h0M525.4 582.8h0M586.1 581.2h0M599.6 580.3h0M576.3 581.4h0M568.2 581.7h0M601.1 575.7h0M555.8 579.5h0M630 579.7h0M615.7 577h0M653.8 582.6h0M611.6 578.7h0M567.5 579.7h0M566.7 580.5h0M641.2 575.8h0M546.2 580.3h0M556.5 579.1h0M526.8 581.5h0M658.8 582.7h0M566.9 580.5h0M557.4 577.9h0M570.1 580.7h0M587 580.6h0M539.9 580.1h0M607.6 581.6h0M558.3 582.9h0M598.4 581.9h0M603.6 576.7h0M614.4 580.8h0M612.2 577.1h0M609.8 583h0M525.6 582h0M616.5 580.3h0M638.9 575.5h0M634.4 582.3h0M616.3 575.5h0M662.4 582.4h0M612.2 580.6h0M603.1 578.7h0M658.2 581.9h0M552.1 580.5h0M647.5 580.4h0M675.2 576.9h0M636.9 582.7h0M635 578.2h0M537.4 582.1h0M564.9 578.8h0M570.3 580.3h0M563.9 580.8h0M596.6 583.1h0M532.7 581.1h0M551.5 581.5h0M528.1 580.8h0M563.5 579.7h0M639 574.9h0M659.2 577.2h0M622.3 575.5h0M600.9 578.8h0M578 581.5h0M536 579.4h0M616 574.4h0M560.4 581.7h0M567.4 581.8h0M548.8 580.5h0M582.2 582.8h0M576.2 580h0M533.2 580.8h0M661.5 577.8h0M638.7 582.6h0M532.5 580.4h0M645 581.5h0M560.5 581.7h0M625.1 580.4h0M657.9 575.9h0M571.8 580.2h0M651 580.6h0M555.7 580.4h0M676.6 581.4h0M597 583.1h0M553.2 580.2h0M667.7 580.9h0M569 582.7h0M621.6 579.6h0M644.8 580.3h0M599 579.5h0M538.3 581.7h0M651.6 574.8h0M667.8 576.6h0M554.4 582.1h0M572 582.5h0M612 579.6h0M538.9 579.1h0M564.5 581.2h0M592 580.6h0M656.9 575h0M583.9 579.1h0M643.6 576.9h0M587.9 583.1h0M585.2 578.7h0M567.5 579.3h0M650.3 576.5h0M664.4 577.7h0M655.9 578h0M641 582.4h0M536.4 579.4h0M543.7 581.6h0M531.3 579.8h0M653.4 575.2h0M670 579.1h0M580.5 581.8h0M595.3 581.2h0M634.8 580.7h0M665.9 578h0M543.1 581.7h0M551.6 580.9h0M634.2 580.1h0M646.9 581.8h0M614.8 582.6h0M570.7 580h0M627.2 579.3h0M642.8 578.4h0M613.5 581.9h0M632 579.2h0M613.3 578.6h0M558.5 578.7h0M616 578.6h0M528.8 582.8h0M644.6 579h0M561.8 578.8h0M533.3 581.7h0M556.3 578.5h0M584.3 579.7h0M538 580.5h0M537 579.9h0M648 577.6h0M605 575.8h0M614 582.6h0M624.6 575.9h0M619.3 578.3h0M673.9 579.5h0M647.9 578.5h0M595 580.8h0M537.2 579.3h0M610.8 575.6h0M668.5 575.9h0M593.5 581.6h0M538.3 579.1h0M616.9 576.1h0M671.4 580.9h0M549.3 582.7h0M547.3 579.3h0M554.1 581.9h0M609 582.9h0M620.9 578.1h0M526 582.7h0M603.3 573.8h0M596.3 582.1h0M542 582.3h0M555.8 583h0M635.5 576.6h0M614.4 582.2h0M623.6 579.5h0M579.2 580.7h0M584.6 583.1h0M532.9 579.8h0M663 576.5h0M653.3 577.4h0M574 580h0M589.2 582.5h0M546.3 579.2h0M601.3 577.4h0M563.1 581.6h0M535.7 580.8h0M665.7 574.8h0M617.7 575.7h0M598.1 579.5h0M616.6 578.2h0M548.2 580.9h0M570.1 579.2h0M647.6 576.8h0M582.8 582.1h0M527.2 582.4h0M555.7 581.1h0M524.9 582.9h0M532.5 581.4h0M625.4 575.4h0M657.1 582.9h0M600.3 580.9h0M600.1 582.7h0M551.2 580.2h0M614.8 580.5h0M601.8 575.9h0M604.8 581h0M583.5 578.7h0M656.6 577.6h0M607.2 581.6h0M645.8 580.9h0M641.5 578.2h0M648.1 579.7h0M589 582.1h0M619.7 578.2h0M605 580.9h0M666.1 580.7h0M569.5 582.7h0M603.3 582.3h0M642 581.7h0M657.5 577.4h0M594.7 578.4h0M656.8 581.1h0M587.5 582.6h0M540.3 578.5h0M646.7 580.2h0M661.8 578h0M619.1 575.6h0M657.6 583.2h0M633.1 582.9h0M568.7 582.4h0M653.1 581.9h0M667.1 582.5h0M538 578.9h0M580.8 581.3h0M596.3 578.4h0M574.4 578.9h0M621.6 579.2h0M653.7 576h0M617 581.5h0M665.8 580.7h0M670.5 578.6h0M658.4 576.6h0M631.8 575.6h0M605.2 578.8h0M654.2 582.8h0M674.1 579.6h0M613.9 583.2h0M529.2 582.3h0M528.7 580.3h0M527.9 580.3h0M608.6 577.5h0M545.8 582.9h0M596.8 582.7h0M601.7 576h0M627.9 582.4h0M665.3 577.9h0M542.2 578.4h0M649.2 576.4h0M586.6 579.3h0M533.1 580.4h0M595.9 578.6h0M626.4 575.9h0M616.5 581h0M673.6 581h0M650 579.2h0M662.2 578.7h0M609 574.5h0M641.3 576.2h0M606.1 576.4h0M591.9 579.7h0M561.5 580.7h0M547.4 582.3h0M531.9 581.6h0M540.6 580.6h0M532.4 580h0M529.3 582.1h0M534.6 580.5h0M593.5 579.3h0M532.6 581.7h0M594 580.4h0M588.6 579.4h0M644.8 576.1h0M535.7 582.2h0M627.1 582.1h0M634.4 580.5h0M638.2 580h0M598.5 580.8h0M530.9 581.5h0M626.8 581.9h0M675.5 581.5h0M632.2 576.7h0M588.4 581.7h0M543.1 582.3h0M615.2 579.1h0M562.1 579.2h0M528.6 581.4h0M533.1 582.6h0M529.2 580.9h0M622.3 579.9h0M636.3 575.5h0M602.2 579.8h0M645.4 582.3h0M670.7 577.1h0M613.6 580.4h0M531.2 580.1h0M625.5 576.7h0M589.4 579.9h0M617.9 577.6h0M611 576.1h0M574.8 583h0M648.5 582.6h0M564.2 578.6h0M661.9 579.3h0M595.2 582.1h0M542.7 579.4h0M643.1 574.2h0M637.5 580.3h0M550.9 581.3h0M643.7 578.4h0M539.4 578.3h0M657.4 577.1h0M655.6 581.4h0M559.1 580.5h0M634.8 581h0M596.8 580h0M658.2 581.4h0M567.5 581.4h0M541.9 579.2h0M551.5 580.8h0M595.2 581.5h0M556 582.7h0M669.8 577.4h0M565 579.2h0M571.5 581.4h0M615.7 582.8h0M622.7 579.8h0M661.2 582.9h0M649.9 580.3h0M605.8 582.1h0M531.1 579.7h0M654.3 578.5h0M525.1 581.6h0M553.3 579.6h0M664.6 580.2h0M661.7 577h0M555.9 580.8h0M657.5 582.2h0M590.8 579.8h0M592.1 581.8h0M575 577.9h0M548.3 580.5h0M641.9 578.2h0M546.5 581.3h0M537.1 583.1h0M590.1 579.2h0M541.9 579.1h0M673.9 577.9h0M649.2 578.1h0M541.7 580.5h0M657.6 578.3h0M575.7 582.1h0M622.1 575.9h0M662.8 578.4h0M534.7 581.5h0M635.1 577.6h0M534.8 581.1h0M654.5 581.2h0M662.3 576h0M637.4 575.1h0M593.3 582.3h0M649.2 579.7h0M535.4 579.5h0M540.8 578.3h0M674.3 580.1h0M571 578.6h0M606.2 576h0M554.1 580.7h0M565.4 580.4h0M571 581.6h0M585.9 581.1h0M593.2 581h0M651 582.8h0M628.8 580.4h0M552.7 582.7h0M558.2 578.7h0M655.3 577.3h0M664.5 576.1h0M603.5 574.5h0M644.7 583.1h0M659.1 579.1h0M615.2 577h0M628.2 579.2h0M563.6 582.8h0M603.2 578.3h0M610.7 578.7h0M619.3 576.3h0M568.3 582.1h0M573.3 580.6h0M620.6 576.3h0M531.3 580.4h0M624.2 575.2h0M675.7 581.5h0M676.6 578.7h0M565.9 581.6h0M563.5 579.2h0M558.5 582.5h0M530.6 579.9h0M663.2 577.7h0M528.7 581.6h0M540 579h0M545.5 581.7h0M642.6 578.5h0M556.1 579.1h0M668.7 579.9h0M617.2 582.1h0M579.8 582.9h0M625.6 574.4h0M626.2 576.9h0M527.6 580.4h0M581.9 581.2h0M632.9 580.9h0M658 581.1h0M628 578.5h0M596.3 580.7h0M536.6 580.5h0M583.9 582.2h0M527.7 581.4h0M614.2 579.9h0M656.5 578.1h0M635.4 577.4h0M587.2 580.1h0M571.1 581.9h0M574.5 579.5h0M543.2 582.5h0M638.7 578.7h0M564.7 579.2h0M660.5 581.8h0M593.5 579.5h0M647.5 582.1h0M575.7 580.3h0M530.2 579.7h0M565.2 581.5h0M567.1 581.7h0M628.3 577.3h0M604.6 580.5h0M673.4 580.6h0M613.2 575.5h0M607.7 578.4h0M641.5 575.7h0M536.3 581.9h0M581.8 578.6h0M560.1 581h0M646.5 577.6h0M532.3 582.9h0M652.8 581.4h0M539.4 582.1h0M536.1 579.5h0M539.6 578.4h0M622.2 576.5h0M570.5 578.9h0M530.2 580.9h0M530.9 579.6h0M639.5 577.9h0M648.1 577.7h0M618.2 580h0M550.3 580.8h0M570.7 582.4h0M558.5 582h0M638 575.5h0M582.3 582.6h0M588 583.2h0M627.5 580.8h0M668.6 580.6h0M671.7 580h0M557.7 580.9h0M618.8 579.6h0M530.5 582.6h0M563.8 581.4h0M664.9 576.1h0M625.2 578.3h0M543.4 580.8h0M606.3 575.1h0M541.6 579.1h0M620.5 580.1h0M608.8 575.5h0M647.7 575.3h0M658.3 577.6h0M564.8 581.8h0M592.7 580.2h0M565.9 583h0M619.6 576.7h0M553.6 580.3h0M567.7 582.4h0M605.8 576.1h0M555.2 581.8h0M652.2 577.6h0M579.9 579.7h0M606.3 582h0M668 577.5h0M564.4 581.7h0M584.2 578.7h0M643.7 581h0M654.8 576.2h0M560.7 581.3h0M552.8 580.6h0M548.6 579.7h0M573.1 580.5h0M575.3 579h0M672 579.8h0M648.7 575.5h0M669.6 581.7h0M667.5 578.2h0M538.2 581.7h0M584.1 583.3h0M628 581.4h0M576.5 582.2h0M625.1 578.3h0M626.8 580.3h0M592.2 580.3h0M589.2 580.8h0M609.8 581.4h0M594.6 580.3h0M615.8 578.8h0M579 580.5h0M670.5 580.5h0M533.8 581h0M584.2 578.8h0M638.4 571.7h0M550.2 576.7h0M526.2 578h0M529.1 578.3h0M529.4 576.9h0M666.3 573.6h0M606.1 573.8h0M580.3 576.5h0M563.7 577.8h0M540.8 575h0M571.9 577.4h0M562.7 576.9h0M624.3 574.1h0M544.7 576.9h0M584.8 576.1h0M615.7 572.9h0M625.8 571.4h0M536.2 575.7h0M651.8 571.8h0M577.7 576.2h0M591 578.5h0M577 577.3h0M529.5 579h0M581.9 577h0M598.3 577.9h0M610.8 570.7h0M564.7 576.9h0M667.6 575.1h0M593.8 578.3h0M596.3 574.9h0M659 572.9h0M649.6 572.2h0M637.5 573.7h0M610.2 572.2h0M535.1 575.9h0M660.8 573.4h0M675.6 573.6h0M603.9 572.8h0M658.1 573.2h0M604.7 571.4h0M630.5 572.1h0M648.3 573.8h0M667.3 573.3h0M544.3 578.4h0M573.5 575.2h0M548.1 576.6h0M550 576.3h0M675.9 571.1h0M588.3 577.5h0M607.4 572.5h0M579.8 578.8h0M600.2 577.4h0M546.5 578.4h0M655.6 572.1h0M648.1 573.2h0M570.1 577.5h0M534.8 577h0M614.2 573.6h0M643.4 570.7h0M629.6 575.7h0M575.9 575.1h0M611.7 572.4h0M618.4 572.4h0M656.3 571.8h0M549 578h0M629.2 575.3h0M557.7 574.6h0M575.7 577.2h0M528.1 577.8h0M525.8 577.8h0M612.9 572.5h0M619.6 573.7h0M531.2 578h0M596.2 575.2h0M633.5 573.9h0M540.6 574.9h0M671.6 575.3h0M538.5 576.7h0M547 577.8h0M537.3 577.5h0M531.4 577.8h0M639 571.4h0M623.7 572.7h0M599.1 575.6h0M648.5 572.7h0M611.3 572.5h0M565.6 578.2h0M600.7 575.8h0M601.7 571.9h0M642.6 570.9h0M589.1 570.2h0M575.7 572.2h0M578.3 571.1h0M578.5 572.3h0M598.8 568.1h0M580.5 571.6h0M595.2 567.4h0M590.8 571.4h0M600.9 565.8h0M579.7 568.7h0M596 570.4h0M592.1 567.9h0M590.8 570.8h0M587.6 568.6h0M588.1 571.1h0M592.1 570h0M588.8 568.1h0M590.8 568h0M595.9 569.5h0M601.3 564.7h0M573.8 571.3h0M589.8 568.7h0M601 569h0M587.3 566.7h0M583.4 571.6h0M595 571.6h0M583.6 570.8h0M580.7 571.3h0M602.4 569.2h0M581.1 568.1h0M599.4 570.5h0M577.6 569.9h0M593.3 569h0M596.1 569.7h0M582.3 570.3h0M578.9 570.3h0M587.2 569.6h0M598.5 567.4h0M578.9 569.2h0M594.4 567.8h0M589.5 568.5h0M574.8 570.2h0M575.7 570.8h0M596 571.4h0M597 569.6h0M586.4 566.8h0M596.8 570h0M576.7 569h0M600.1 564.9h0M585.7 572.3h0M572.5 570.5h0M596.8 567.5h0M592.5 569.1h0M596.7 565.7h0M600 567.9h0M583.9 567.3h0M602.5 566.2h0M582.5 567.9h0M592.5 568.6h0M581.3 569.4h0M594.7 570.1h0M589.9 566.6h0M601 571.1h0M579.1 569.6h0M588 567.4h0M579.3 570.5h0M584.7 570.2h0M588.5 570.2h0M599.3 567.1h0M590.5 569.8h0M580.5 569.2h0M587.3 570h0M573.4 571.9h0M590.5 569.1h0M590.9 566.4h0M582.4 568h0M603.7 565h0M572.5 569h0M598.8 565.6h0M578.6 568.6h0M586.2 569.1h0M589 569.2h0M590.3 568.6h0M592 566.9h0M596 569.8h0M580.1 570.1h0M573.9 571h0M577.7 572.4h0M587.4 571.5h0M599.8 568.5h0M582.2 569h0M576.9 568.9h0M601 566.1h0M602 569.1h0M575.4 571.6h0M575.2 569h0M602.7 569h0M587 570.8h0M589.2 568.2h0M573.7 570.7h0M586.8 567.9h0M596.1 569.2h0M587.1 569.4h0M593.1 567.6h0M572.7 572.4h0M572.8 571.6h0M600.7 571.6h0M602.3 571.4h0M584.9 570.7h0M603.5 565.7h0M577.4 571.3h0M587.1 571.5h0M601.5 569.1h0M575.2 570.7h0M592.6 570.7h0M583.3 570.2h0M578.7 571.4h0M585.5 569.4h0M601.5 566.8h0M583.4 571.5h0M601.3 569.3h0M582.1 567.9h0M582.4 569.9h0M596.3 569.5h0M574.4 572.6h0M582.9 568.6h0M583.9 567.6h0M592.2 566.6h0M574.1 570.2h0M600.3 570.8h0M575.2 568.6h0M601.1 569.9h0M603.5 570.5h0M572.3 571.3h0M601.1 565.4h0M592 566.9h0M576.3 569.2h0M601.6 571.7h0M584.7 569.6h0M573.9 570.1h0M591.4 567.2h0M592.7 569.1h0M592.6 571.1h0M594.3 571.3h0M600.2 571.5h0M572.9 570.2h0M579.1 568.3h0M595.6 569.8h0M588.7 570.5h0M578.4 571.1h0M578.5 571.9h0M575.2 569.3h0M591.4 570.7h0M577.6 570.7h0M600.7 569.1h0M590.5 571.7h0M583.4 567.5h0M600.7 571h0M576.4 568.8h0M578.5 571h0M583.6 567.6h0M577.3 568.8h0M595.4 569.1h0M577.2 569.8h0M598.6 570.6h0M580.3 572.1h0M582.9 567.4h0M588.9 569.9h0M598.4 571.9h0M597.7 566.8h0M575.4 572.1h0M573.6 572.1h0M596 565.6h0M597.2 568.2h0M595.3 567.2h0M598.4 570.2h0M585.1 569.9h0M574 572.1h0M584.8 570.2h0M577.4 569.8h0M586.2 569.2h0M594.6 570.6h0M600.5 565.2h0M587.3 569.7h0M581.2 568.4h0M582.3 570.7h0M576 570.2h0M596.1 571.6h0M583.5 571h0M594.9 569.4h0M602.6 566.6h0M576.5 572h0M595.7 569.7h0M576 569.9h0M600.7 568.9h0M601.9 566.9h0M601.3 568h0M579.7 570.9h0M586.1 570.1h0M602.1 571.4h0M597.7 568.9h0M603.2 566.3h0M577.4 568.7h0M588.2 570.8h0M584.6 568.4h0M578.6 570.8h0M573.8 572.7h0M593.9 567.1h0M602 569h0M598.4 566.4h0M574 569.6h0M586.6 571.7h0M603.5 571.1h0M598.1 571.1h0M592.9 566.4h0M583 571.1h0M589.3 569.9h0M585.4 571.4h0M587.3 570.8h0M592.6 569.7h0M599.7 565.3h0M578 571.6h0M586.7 567.3h0M581.2 570.6h0M586.8 567.3h0M573.6 570.8h0M579.7 569.1h0M598.8 571.5h0M581.4 569.3h0M574.5 570h0M582.4 571.1h0M588.9 570.5h0M601.6 571.2h0M599.9 570.6h0M589.1 571.3h0M573.4 572.2h0M595.8 569.3h0M600.5 567.8h0M580.4 571h0M597.5 567.6h0M573.9 572h0M584.7 567.4h0M603 566.2h0M590.8 571h0M593.8 569.9h0M601 567.9h0M601 566.5h0M594 570.7h0M572.7 569.3h0M587.3 569.4h0M589.7 571.5h0M593.7 569.4h0M594.6 568.6h0M587.1 567h0M577.1 572h0M589.8 571.8h0M602.7 566.2h0M583 568h0M586.4 568.7h0M589.9 569h0M650.6 561.7h0M651.6 563.1h0M642.4 565.7h0M647.7 563.6h0M646.4 563.2h0M652 562.6h0M652.3 564.8h0M643 564.5h0M657.3 560.4h0M649.4 562.3h0M646 564h0M640.9 565.6h0M644.9 565.8h0M644.1 565.2h0M649 561.4h0M650.5 564h0M656.4 563h0M651.2 564.5h0M649.2 561.3h0M656.1 558.4h0M645.5 564.1h0M650.2 565.1h0M656.2 560h0M647.1 562.3h0M658.7 565h0M642.1 565.9h0M657.3 566.2h0M645.7 566h0M651.6 565.3h0M656.8 559.6h0M654.1 562h0M658.1 562.5h0M652.5 565.3h0M648.5 561.9h0M646.8 565.4h0M649.8 560.5h0M653.7 561.1h0M645 563.8h0M654.5 566.2h0M651.8 559.2h0M650.1 564h0M650 565.3h0M645.4 563.5h0M651.7 566h0M651.9 565.8h0M647.6 565.3h0M655 565.9h0M649.9 564.7h0M640.6 565.7h0M648.7 560.7h0M653.8 561.3h0M646.8 562h0M654.3 566.4h0M647.3 562.6h0M641.6 566.2h0M655 560.2h0M644.3 565.6h0M658.4 561.6h0M645.7 563.5h0M648.9 562.2h0M658.5 561.6h0M656.5 563.3h0M652.7 559.8h0M644.8 565.7h0M657.5 565.1h0M651.7 560.5h0M648.7 563.5h0M656.7 562.7h0M647.4 566.1h0M655.1 563.6h0M646.4 562.5h0M647.2 561.8h0M643 565.6h0M645.9 563.9h0M655.9 565.7h0M653.8 563.9h0M646.1 566.1h0M653.9 561.6h0M647.9 566.2h0M646.7 565.8h0M642.5 564.6h0M640.7 565.9h0M651.9 564.2h0M641 565.4h0M648.2 562.9h0M641.2 566h0M652.2 565.4h0M646.8 562.4h0M654.3 559h0M648.9 561h0M644.7 564.8h0M641.5 565.8h0M646.1 566.4h0M652.7 564.6h0M655 556.8h0M655.4 565.2h0M640.7 566.4h0M646.6 565.9h0M657.6 565.6h0M647.4 561.7h0M646.1 563.6h0M641.5 566.4h0M655.8 557h0M649.1 563.3h0M641.9 566h0M652.1 562.8h0M648.4 562h0M658.6 563h0M645.6 566h0M653.8 559.9h0M654.1 565.1h0M646.3 563.3h0M649.7 563.5h0M645.3 566.1h0M644.6 565.5h0M648.7 561.4h0M653.8 560.3h0M652.2 561.3h0M651.1 565.8h0M648.8 565.1h0M647.5 562.8h0M647.4 563.7h0M649.1 563.4h0M654.9 563.1h0M652.6 560h0M648.4 562h0M652.8 559.8h0M645 565.6h0M651.9 560.1h0M645 566.1h0M657.6 566h0M653.1 565.1h0M656.1 562.7h0M644 565.1h0M650.4 565.9h0M650.6 559.9h0M640.7 566.1h0M652.6 565h0M653.1 561.1h0M646.9 564.4h0M641.4 565.4h0M646.1 566.4h0M644.7 565.5h0M650.2 563.9h0M646.1 564.9h0M657.9 560.7h0M642.9 564.9h0M652.3 559.2h0M653.1 562.8h0M654.6 563.1h0M657.6 560.5h0M652.2 564.7h0M653.1 562.6h0M651.8 559.5h0M652.4 562.5h0M656.1 561.8h0M656.1 566.5h0M647.2 564.6h0M646.6 566h0M647 564.4h0M660.7 567.2h0M661 563.8h0M672 564.4h0M662 565.6h0M659.2 563.1h0M664.3 565.5h0M664.6 568.1h0M665.1 565h0M673.4 565h0M668.6 566.5h0M669.6 563.1h0M665.1 567.9h0M662.8 568.1h0M666.7 567.6h0M657.4 564h0M664.5 567h0M658.7 566.2h0M674 567.1h0M666.6 563.5h0M672.8 566.6h0M674.2 566.8h0M667.5 567.5h0M669.6 566.3h0M665.9 566.2h0M668.2 563.6h0M667.4 568.1h0M669.6 567.7h0M662.8 567.6h0M671.9 566.2h0M663.2 565.8h0M661.1 564h0M667 565.4h0M660.6 564.2h0M659.2 564.7h0M672.1 566.9h0M660.9 564.2h0M669.8 563.8h0M661.5 566.2h0M673.9 566.4h0M661.8 563.4h0M660.4 565.4h0M669.7 563.4h0M671.7 563.5h0M662.7 563.9h0M673.5 566.4h0M669.5 567.1h0M661.7 565h0M666.5 564.7h0M659.3 566.6h0M673.3 566.7h0M662.1 567.3h0M671.5 564.8h0M672.6 564.5h0M672.8 566.6h0M669.2 567.8h0M659.8 564.3h0M666.5 565.3h0M671.2 563.8h0M666.2 565.7h0M665.7 564h0M658.4 566.9h0M658.8 564.9h0M671.7 566.4h0M664.6 566h0M670.8 567h0M670.9 566.7h0M665.9 564h0M658 566.1h0M673 565h0M674.3 566.5h0M666.6 563.6h0M673.5 566.8h0M659.9 567.4h0M657.3 567.8h0M663.9 565.5h0M668.9 567.1h0M671.7 563.7h0M667.6 564.5h0M661.5 564.9h0M668.1 566.5h0M671.6 567.9h0M673.5 565.4h0M659.6 566.3h0M666.1 567.3h0M658.6 563.9h0M659.6 564h0M665.4 563.5h0M673.9 563h0M670 566.3h0M672.5 566.6h0M658.4 563.1h0M660.4 563.8h0M672.9 563.9h0M672.5 566.6h0M665.7 565.7h0M668.1 567.6h0M667.7 564.1h0M657.6 565.6h0M662.2 564.6h0M659.1 564.3h0M665.7 563h0M664.6 567.3h0M668.4 563.2h0M671.6 566.8h0M665.4 566.1h0M657.8 566.4h0M671.9 564.9h0M672 568.2h0M665.5 564.1h0M659.1 563.9h0M676.9 572.7h0M675.3 574.4h0M676.2 573.5h0M675.9 569.5h0M674.7 572.8h0M675.9 572.4h0M675.6 574.4h0M675.1 569.6h0M676.2 569.5h0M676.5 572.8h0M676.6 568.6h0M677 576.6h0M676.4 573.2h0M675.3 571.6h0M675.3 570.7h0M676.1 571h0M675.8 571.2h0M675.6 575.5h0M676.9 568.9h0M675.6 573h0M676.4 569.8h0M676.8 568.7h0M675.9 571.2h0M676.9 576.2h0M674.9 576.2h0M674.5 569.2h0M675.6 573h0M675.3 574.6h0M676 571.9h0M676.3 572.2h0M655.7 555.7h0M674.5 557.7h0M621.8 568.9h0M606.8 570.2h0" stroke="#7c8885" stroke-width="2.5" stroke-linecap="round" fill="none"/><line x1="600.5" x2="600.5" y1="555.1" y2="584.5" stroke="#f02020" stroke-width="0.9"/><line x1="516.7" x2="516.7" y1="555.1" y2="584.5" stroke="#111" stroke-width="1.4"/><line x1="513.2" x2="516.7" y1="583.3" y2="583.3" stroke="#222" stroke-width="1"/><text x="510.6" y="585.8" font-size="6.9" fill="#4d4d4d" text-anchor="end">0.0</text><line x1="513.2" x2="516.7" y1="575.1" y2="575.1" stroke="#222" stroke-width="1"/><text x="510.6" y="577.5" font-size="6.9" fill="#4d4d4d" text-anchor="end">2.5</text><line x1="513.2" x2="516.7" y1="566.9" y2="566.9" stroke="#222" stroke-width="1"/><text x="510.6" y="569.4" font-size="6.9" fill="#4d4d4d" text-anchor="end">5.0</text><line x1="513.2" x2="516.7" y1="558.7" y2="558.7" stroke="#222" stroke-width="1"/><text x="510.6" y="561.1" font-size="6.9" fill="#4d4d4d" text-anchor="end">7.5</text><line x1="539.1" x2="539.1" y1="585.3" y2="588" stroke="#1a1a1a" stroke-width="1.45"/><text x="539.1" y="596.2" font-size="6.9" fill="#4d4d4d" text-anchor="middle">26.5</text><line x1="576.7" x2="576.7" y1="585.3" y2="588" stroke="#1a1a1a" stroke-width="1.45"/><text x="576.7" y="596.2" font-size="6.9" fill="#4d4d4d" text-anchor="middle">27.0</text><line x1="614.3" x2="614.3" y1="585.3" y2="588" stroke="#1a1a1a" stroke-width="1.45"/><text x="614.3" y="596.2" font-size="6.9" fill="#4d4d4d" text-anchor="middle">27.5</text><line x1="651.9" x2="651.9" y1="585.3" y2="588" stroke="#1a1a1a" stroke-width="1.45"/><text x="651.9" y="596.2" font-size="6.9" fill="#4d4d4d" text-anchor="middle">28.0</text><text x="630.7" y="552.7" font-size="6.8" font-weight="bold">SCZ GWAS</text><text transform="translate(492.4 569.7) rotate(-90)" font-size="8.8" fill="#1a1a1a" text-anchor="middle">&#8722;log<tspan font-size="6" dy="1.8">10</tspan><tspan dy="-1.8" font-size="10.5">(</tspan>p<tspan font-size="10.5">)</tspan></text><text x="600.7" y="608.3" font-size="8.5" text-anchor="middle">Position (Mb)</text></svg></body></html>
